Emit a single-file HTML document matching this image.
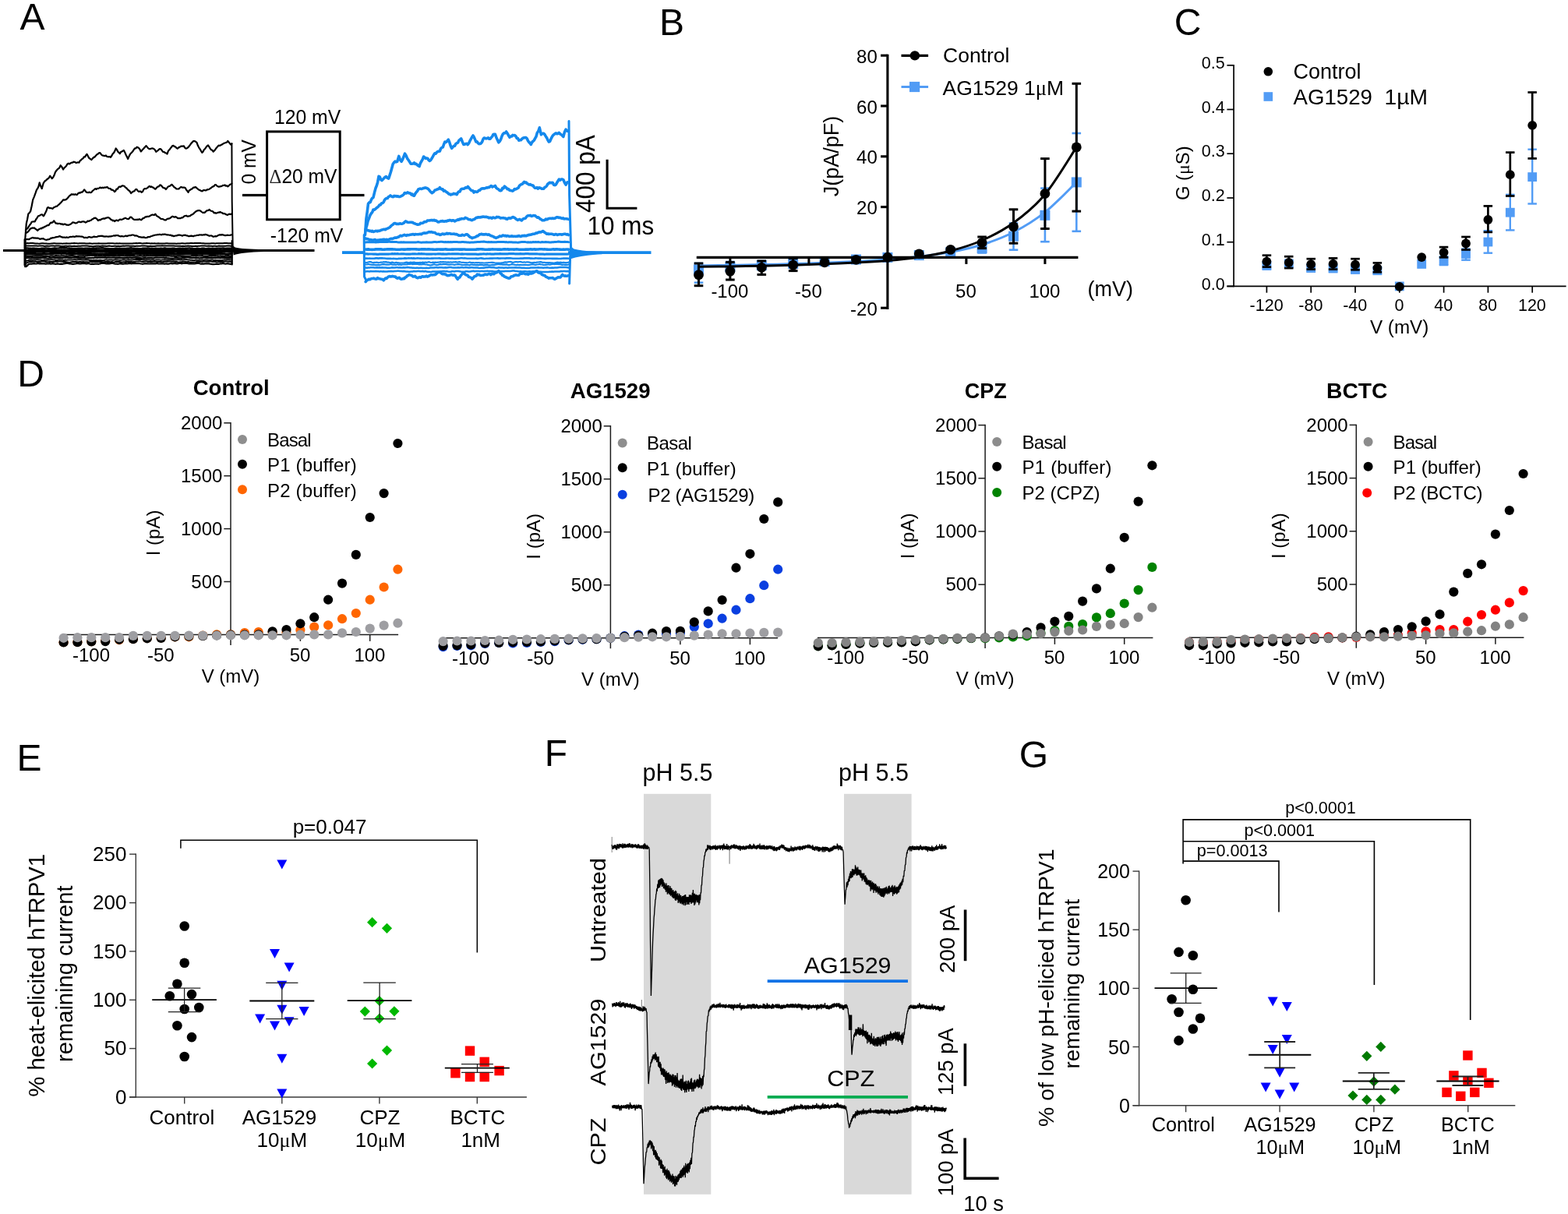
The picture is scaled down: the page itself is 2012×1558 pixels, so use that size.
<!DOCTYPE html>
<html lang="en">
<head>
<meta charset="utf-8">
<title>Figure</title>
<style>
html,body{margin:0;padding:0;background:#fff;}
body{width:2012px;height:1558px;overflow:hidden;}
svg{display:block;font-family:'Liberation Sans', Arial, Helvetica, sans-serif;}
</style>
</head>
<body>
<svg width="2012" height="1558" viewBox="0 0 2012 1558">
<rect x="0" y="0" width="2012" height="1558" fill="#fff" stroke="none"/>
<!-- panelA -->
<text x="25.5" y="37.8" font-size="48">A</text>
<g stroke="#000" fill="none" stroke-linejoin="round" stroke-linecap="round">
<path d="M32.1 309.1 33.8 286.9 35.1 281.2 36.3 274.6 37.8 273 39.2 271.1 40.7 264.3 42.2 256.4 43.9 252.3 45.6 247.7 46.9 243.9 48.2 241.9 49.4 239.5 50.7 234.4 52.2 238.8 53.7 242.1 55.8 234.8 57.5 232.5 59.1 231.4 60.4 230 61.7 229.2 62.9 228.1 64.2 225.7 65.5 227.4 66.7 229.2 68.2 227.6 69.6 224.8 71 220.9 72.7 218.5 74.3 216.9 76 215.7 77.7 212.2 79.4 214.2 81.1 217.5 82.5 215.4 83.8 214.2 85.2 212.7 86.5 210.4 87.9 209.7 89.2 210.5 90.6 209.3 91.9 208.7 93.3 208.7 94.6 207.7 96 208 97.3 208.8 98.7 208.8 100 208.3 101.4 208.7 102.7 206.3 103.9 205.5 105.2 204.1 106.5 203.4 107.7 201.4 109 201.4 110.3 199.3 111.5 197.8 113 200.6 114.5 203.1 116 204 117.4 205.1 118.8 203.4 120.3 201.9 121.7 201.4 123 199.7 124.4 198.2 125.7 197.6 127.1 196.2 128.4 196.1 129.7 197.9 131 199.3 132.2 199.7 133.5 199.9 134.7 200.2 135.9 199.5 137.1 200.9 138.3 201.1 139.5 201.3 140.7 201 141.9 201.9 143.3 200 144.6 197.5 146 196.1 147.3 193.9 148.7 190.5 150 192.1 151.2 194.6 152.5 195.8 153.8 197.2 155 195.1 156.3 194.5 157.6 193.7 158.8 192.8 160.2 195.4 161.5 198.5 162.9 201.3 164.2 203.9 165.8 200.1 167.4 197.3 169 195.7 170.3 194.3 171.7 192.1 173 190.4 174.4 190.3 175.7 188.7 177 189.3 178.3 190.1 179.5 191.8 180.8 194.4 182.2 192.9 183.5 191.4 184.9 189.9 186.2 188.6 187.6 187.1 188.8 188.6 190.1 190.2 191.4 191.1 192.6 191.2 194.3 190.5 196 190.4 197.4 191 198.8 192.3 200.2 194.8 201.5 194 202.8 193 204 191.7 205.3 191 206.6 191.5 207.8 193.1 209.1 194.8 210.4 195 211.8 196 213.2 196.6 214.6 197.5 216 193.5 217.3 192.3 218.7 190.4 220 188.8 221.4 187 222.6 186.9 223.9 188.2 225.2 188.3 226.4 189.9 227.8 190.7 229.1 189.4 230.5 188.9 231.8 187.9 233.2 187.5 234.5 187.6 235.9 187.4 237.2 189.6 238.6 190.6 239.9 190.3 241.3 189.2 242.6 187.7 244 185.9 245.4 183.9 246.7 182.6 248.1 181 249.6 181.1 251.1 181.7 252.6 183.1 253.9 186.8 255.2 189.3 256.6 191.3 258 193.8 259.4 195.8 260.6 194.6 261.9 192 263.2 190.9 264.4 189 265.7 187.4 267 186.5 268.3 188.3 269.7 190.6 271 192.2 272.4 192.8 273.7 194.7 275.1 193.2 276.4 191.7 277.8 189.7 279.1 188.3 280.5 186.7 281.9 186.9 283.3 186.2 284.7 185.5 286 184.7 287.3 183.8 288.5 183.5 289.8 183 291.1 182.6 292.3 181 293.6 182.5 294.9 184.1 296.1 185.6 297.4 184.3" fill="none" stroke-width="2.2" stroke-linejoin="round"/>
<path d="M33 295.4 34.2 293.8 35.5 293 36.8 290.9 38 289 39.3 287.4 40.6 284.9 42 284.5 43.4 284.3 44.8 284.3 46.2 281.5 47.6 279.6 49 277.3 50.7 276.8 52.4 275.5 54.1 275.3 55.8 277.4 57 275.6 58.3 272.9 59.6 270.2 60.8 266.6 62.2 266.1 63.5 267.1 64.9 267 66.2 267.3 67.6 267.9 68.9 266.3 70.3 265.7 71.6 264.9 73 264.8 74.3 263.5 75.7 262.4 77.1 260.9 78.4 259.8 79.8 258.1 81.1 256.3 82.5 256.6 83.8 256.4 85.2 255.7 86.5 254.6 87.9 252.8 89.1 251.4 90.4 250.5 91.7 249.2 92.9 249.6 94.1 249.3 95.4 249.9 96.6 249.2 97.8 249.9 99 249.9 100.2 248.1 101.4 247.4 102.7 247.7 104.1 246.6 105.4 246.7 106.8 245.2 108.1 243.3 109.4 244.9 110.7 246.6 111.9 246.9 113.2 247.2 114.6 246.5 115.9 247.2 117.3 246.9 118.6 245.1 120 244 121.2 243 122.4 242.1 123.6 242.9 124.8 241.9 126 241.9 127.2 241.5 128.4 240.5 129.8 241.4 131.1 240.6 132.5 241.2 133.8 240.5 135.2 240.7 136.4 240.3 137.7 240.1 139 241.5 140.3 241.9 141.6 242 143 243.7 144.3 243.7 145.7 244.4 147 246.2 148.3 245 149.5 242.6 150.8 242.6 152.1 240.4 153.3 239.5 154.6 239.9 155.9 239 157.1 238.3 158.4 238.5 159.7 239 160.9 240.6 162.2 241.2 163.7 243.1 165.2 244.3 166.7 245.6 168.1 248 169.6 246.6 171.1 245.6 172.6 245.1 174 243 175.3 242.9 176.6 244.7 177.8 245.8 179.1 245.6 180.4 245.5 181.6 246.9 183.1 245.9 184.5 242.9 185.9 242 187.1 242.2 188.3 241.7 189.5 240.9 190.7 239.7 191.9 238.8 193.1 240.1 194.3 239.3 195.6 240.5 196.9 240.6 198.1 242 199.4 242.7 200.9 241.1 202.3 239.5 203.8 239.3 205.3 237.4 206.6 237.9 207.8 239.1 209.1 240.7 210.4 241.4 211.6 241.4 212.9 243 214.2 241.4 215.4 239.8 216.7 239.1 218 238.8 219.2 237.6 220.5 236.8 222 238.4 223.5 240.3 224.9 241 226.4 242.5 227.9 242.5 229.4 242.3 230.9 241 232.3 239.9 233.7 240.6 235 240.5 236.3 240.6 237.7 241 239 243.5 240.3 245 241.6 246.8 242.9 244.3 244.2 243.7 245.4 242.7 246.7 242.2 248 240.6 249.2 240.7 250.6 240 251.9 240.8 253.2 242 254.6 243.2 255.9 243.9 257.2 244.4 258.5 245.2 259.7 245.3 260.9 244.1 262.2 244 263.4 244.3 264.6 244.3 265.8 243.2 267 243.3 268.2 243 269.5 242 270.8 241.2 272.1 240 273.3 239.4 274.6 238.9 275.9 237.2 277.1 237.1 278.4 238.6 279.7 239.4 280.9 239.7 282.2 239.4 283.5 239.2 284.7 238.7 286 237.9 287.3 238 288.5 237.4 289.8 238.7 291.1 238.3 292.3 239.4 293.6 238.4 294.9 236.9 296.1 236.5 297.4 235.5" fill="none" stroke-width="2.2" stroke-linejoin="round"/>
<path d="M33.8 298.8 35.1 298 36.3 297.2 37.6 295.3 38.9 293.5 40.1 293.1 41.4 292.4 42.7 292.7 43.9 292.4 45.3 293.6 46.8 294.7 48.2 295.9 49.4 294.6 50.7 294 52 293 53.2 293.5 54.5 292 55.8 292.3 57.1 290.8 58.5 290.7 59.8 289.7 61.2 289 62.5 289.1 63.9 287.1 65.2 285.7 66.6 285.9 67.9 285 69.3 283.3 70.5 285.3 71.8 286.7 73.1 286.5 74.3 287.2 75.7 286.8 77.1 287 78.4 287.7 79.8 287.4 81.1 288.3 82.5 287.6 83.8 287.5 85.2 288.7 86.5 288.7 87.9 288.8 89.2 288.4 90.6 287.6 91.9 286.8 93.3 285.4 94.6 285.5 96 286.1 97.3 286.5 98.7 286 100 285.1 101.4 284.5 102.6 284.9 103.8 285.2 105 284.5 106.2 284.3 107.4 284.4 108.6 284.8 109.8 285.6 111.2 285 112.5 283.6 113.9 283.9 115.2 283.3 116.6 282.8 118.1 281.5 119.6 280.7 121 279.8 122.5 279.6 124.2 280.8 125.9 283 127.4 282.1 128.8 282.4 130.3 281.2 131.8 280.7 133.2 280.4 134.5 280.7 135.9 279.6 137.2 279.6 138.6 279 139.8 279.5 141 280.3 142.2 281.8 143.4 282.1 144.6 283.3 145.8 282.8 147 284 148.2 283.3 149.4 282.5 150.6 282.9 151.8 283.4 153 282 154.3 281.5 155.5 282 156.8 281.6 158.2 281 159.5 280.2 160.9 279.7 162.2 280.4 163.5 281 164.8 281.1 166 280.1 167.3 278.5 168.6 278.9 170 280.3 171.3 281.4 172.7 282 174 281.9 175.3 281.8 176.5 281.7 177.7 281.8 178.9 281.2 180.1 281.9 181.3 282.3 182.5 281.1 183.8 279.9 185 279.9 186.3 278.4 187.6 278.4 188.9 277.9 190.3 277.9 191.6 277.7 193 276.7 194.3 276.1 195.6 275.5 196.9 275.8 198.1 275.8 199.4 274.7 200.9 276.8 202.3 277.8 203.8 278.6 205.3 279.9 206.6 281 207.8 281 209.1 281.2 210.4 281.9 211.6 282.4 212.9 282.4 214.1 281.3 215.3 280.7 216.5 280.7 217.7 280.3 218.9 279.5 220.2 278.4 221.4 277.6 222.7 278.4 224.1 278.7 225.4 278.1 226.8 279 228.1 280.1 229.3 280.1 230.5 280.2 231.7 280.2 232.9 279.4 234.2 279.3 235.4 278.4 236.6 277.3 237.8 277 239 276.7 240.2 277.6 241.4 277.6 242.6 277.3 243.8 277.2 245 276.1 246.2 275.5 247.4 275 248.6 273.9 249.8 272.6 251.1 271.7 252.3 270.7 253.5 270.4 254.8 270.2 256.2 270.2 257.5 270.8 258.9 272 260.2 273 261.4 272.7 262.6 272.9 263.8 271.8 265.1 270.4 266.3 270.2 267.5 269.9 268.7 269 269.9 270.3 271.1 270.7 272.3 271 273.5 271.7 274.7 273.4 275.9 273 277.1 273.7 278.5 273.2 279.8 272.7 281.2 272.6 282.5 272.1 283.9 272.8 285.2 273.3 286.6 274.2 287.9 274 289.3 274.7 290.6 275.5 292 275.9 293.3 275 294.7 274.7 296 275.1 297.4 274.3" fill="none" stroke-width="2.2" stroke-linejoin="round"/>
<path d="M33.8 307 35 307.1 36.2 307 37.4 307.1 38.6 306.3 39.8 305.8 41 305.2 42.2 304.9 43.5 305.6 44.7 305.3 45.9 305.7 47.1 305.6 48.3 305.7 49.5 305.9 50.7 306.6 51.9 306.8 53.1 306.3 54.3 306.3 55.5 306.2 56.7 307 57.9 307.5 59.1 307.8 60.3 307.6 61.6 307.3 62.8 307.1 64 306.7 65.2 305.7 66.4 305.7 67.6 305.1 68.9 305.1 70.1 304.8 71.4 304.4 72.7 304.1 73.9 303.9 75.2 303.6 76.5 303.1 77.7 303.6 79 304.1 80.3 304.6 81.5 304.7 82.8 304.6 84.1 304.9 85.3 304.4 86.6 304.8 87.9 304.8 89.1 304.3 90.4 303.9 91.7 304 92.9 303.7 94.2 303.7 95.5 303.8 96.7 303.6 98 303.1 99.3 303.4 100.5 303.4 101.8 303.4 103.1 303.5 104.3 303.7 105.6 303.6 106.9 304.3 108.1 305.1 109.4 304.8 110.7 304.9 111.9 305.2 113.2 304.4 114.5 304 115.7 304.4 117 304.7 118.3 304.6 119.6 303.9 120.8 303.6 122.1 303.9 123.4 304 124.6 303.9 125.9 303.1 127.2 303.2 128.4 302.7 129.7 303 131 302.6 132.2 303.3 133.5 303.4 134.8 303.7 136 303.3 137.3 303.5 138.6 303.7 139.8 303.6 141.1 303.3 142.4 303.4 143.6 303 144.9 302.7 146.2 302.3 147.4 302.6 148.7 302.1 150 302.1 151.2 302 152.5 302.7 153.8 303.1 155 303.4 156.3 303 157.6 303.3 158.8 303.5 160.2 303 161.5 302.5 162.8 303.2 164.1 302.6 165.4 302.3 166.7 302 168 302.1 169.4 301.5 170.7 301.5 171.9 301.8 173.1 302.6 174.3 302.3 175.5 302.6 176.7 303 177.9 304 179.1 304.1 180.5 304.3 181.8 304.7 183.2 304.6 184.5 304.4 185.9 304.9 187.1 305.2 188.4 305 189.7 304.2 190.9 304.1 192.2 304.1 193.5 303.3 194.7 303 196 302.5 197.3 302.1 198.5 301.8 199.8 301.5 201.1 301.5 202.3 301 203.6 301.1 204.9 300.7 206.2 301.2 207.4 301.3 208.7 300.6 210 301 211.2 300.5 212.5 300.9 213.8 301.3 215.2 301.4 216.5 301.5 217.8 301.8 219.1 301.7 220.4 302.6 221.7 302.4 223 303.2 224.3 302.7 225.5 302.5 226.7 302.4 228 301.9 229.2 301.7 230.4 301.7 231.7 301.8 232.9 302.3 234.1 302.7 235.3 301.9 236.6 301.8 237.8 301.7 239.1 302.4 240.4 302.4 241.6 303.1 242.9 303.2 244.2 302.9 245.4 302.6 246.7 302.9 248 303.3 249.2 302.6 250.5 302.5 251.8 302.2 253 301.8 254.3 302 255.6 301.4 256.8 301.5 258.2 301.4 259.5 301.7 260.9 301.3 262.3 301.4 263.6 300.9 264.9 301.2 266.1 301.6 267.4 302.2 268.7 302.8 269.9 302.5 271.2 302.4 272.5 303 273.7 303.8 275 303.5 276.2 303.1 277.4 303.4 278.7 302.8 279.9 302.1 281.1 301.6 282.3 301.2 283.6 301.6 284.8 301.1 286 301.4 287.3 301.7 288.5 302.1 289.8 302.2 291.1 301.8 292.3 301.7 293.6 302 294.9 302 296.1 301.5 297.4 301.4" fill="none" stroke-width="2.2" stroke-linejoin="round"/>
<path d="M32.1 312.4 33.8 312.3 35.4 312.1 37.1 312.2 38.7 312.1 40.4 312.1 42.1 312.1 43.7 312.2 45.4 312.5 47 312.4 48.7 312.6 50.4 312.7 52 312.5 53.7 312.3 55.3 312.2 57 312.4 58.7 312.4 60.3 312.6 62 312.7 63.6 312.7 65.3 312.6 67 312.4 68.6 312.2 70.3 312.3 71.9 312.4 73.6 312.5 75.3 312.5 76.9 312.5 78.6 312.5 80.3 312.7 81.9 312.4 83.6 312.4 85.2 312.3 86.9 312.5 88.6 312.6 90.2 312.4 91.9 312.2 93.5 312.2 95.2 312.1 96.9 312.3 98.5 312.3 100.2 312.4 101.8 312.3 103.5 312.3 105.2 312.2 106.8 312.3 108.5 312.3 110.1 312.5 111.8 312.6 113.5 312.6 115.1 312.3 116.8 312.5 118.4 312.7 120.1 312.6 121.8 312.5 123.4 312.6 125.1 312.5 126.7 312.3 128.4 312.4 130.1 312.5 131.7 312.5 133.4 312.6 135 312.6 136.7 312.5 138.4 312.3 140 312.2 141.7 312.2 143.3 312.2 145 312.3 146.7 312.4 148.3 312.4 150 312.3 151.6 312.4 153.3 312.3 155 312.5 156.6 312.5 158.3 312.5 159.9 312.4 161.6 312.4 163.3 312.5 164.9 312.6 166.6 312.6 168.2 312.5 169.9 312.5 171.6 312.3 173.2 312.3 174.9 312.1 176.5 312.2 178.2 312.1 179.9 312.1 181.5 312.3 183.2 312.4 184.8 312.2 186.5 312.2 188.2 312 189.8 312.3 191.5 312.3 193.1 312.4 194.8 312.3 196.5 312.5 198.1 312.3 199.8 312.5 201.4 312.4 203.1 312.2 204.8 312.4 206.4 312.5 208.1 312.4 209.7 312.4 211.4 312.4 213.1 312.2 214.7 312.2 216.4 312.4 218 312.4 219.7 312.5 221.4 312.6 223 312.6 224.7 312.6 226.3 312.7 228 312.5 229.7 312.5 231.3 312.4 233 312.3 234.6 312.3 236.3 312.4 238 312.4 239.6 312.3 241.3 312.2 242.9 312.2 244.6 312.1 246.3 312 247.9 312.2 249.6 312.1 251.3 312 252.9 312 254.6 312.1 256.2 311.9 257.9 312.1 259.6 312.2 261.2 312.3 262.9 312.5 264.5 312.5 266.2 312.5 267.9 312.4 269.5 312.4 271.2 312.3 272.8 312.2 274.5 312.3 276.2 312.4 277.8 312.2 279.5 312.2 281.1 312.3 282.8 312.2 284.5 312.3 286.1 312.2 287.8 312.1 289.4 312.1 291.1 312.1 292.8 312.2 294.4 312.2 296.1 312.2 297.7 312.4" fill="none" stroke-width="2" stroke-linejoin="round"/>
<path d="M32.1 315.5 33.8 315.4 35.4 315.5 37.1 315.6 38.7 315.5 40.4 315.4 42.1 315.4 43.7 315.6 45.4 315.5 47 315.6 48.7 315.7 50.4 315.6 52 315.6 53.7 315.6 55.3 315.6 57 315.9 58.7 315.7 60.3 315.5 62 315.7 63.6 315.7 65.3 315.6 67 315.6 68.6 315.5 70.3 315.8 71.9 315.6 73.6 315.6 75.3 315.6 76.9 315.7 78.6 315.9 80.3 316 81.9 315.9 83.6 315.7 85.2 315.8 86.9 316 88.6 315.8 90.2 315.8 91.9 316 93.5 316 95.2 315.8 96.9 315.9 98.5 316 100.2 315.8 101.8 315.8 103.5 315.7 105.2 315.5 106.8 315.5 108.5 315.5 110.1 315.5 111.8 315.6 113.5 315.8 115.1 316 116.8 316.1 118.4 316.2 120.1 316.2 121.8 316 123.4 315.8 125.1 315.8 126.7 315.8 128.4 315.9 130.1 315.7 131.7 315.6 133.4 315.8 135 315.8 136.7 315.9 138.4 315.7 140 315.6 141.7 315.8 143.3 315.9 145 316 146.7 315.8 148.3 315.8 150 315.9 151.6 315.8 153.3 315.9 155 315.9 156.6 315.7 158.3 315.6 159.9 315.8 161.6 315.6 163.3 315.5 164.9 315.5 166.6 315.7 168.2 315.8 169.9 315.8 171.6 315.8 173.2 315.9 174.9 315.8 176.5 315.7 178.2 315.8 179.9 315.8 181.5 315.6 183.2 315.5 184.8 315.4 186.5 315.6 188.2 315.7 189.8 315.9 191.5 316 193.1 315.8 194.8 315.9 196.5 316 198.1 315.9 199.8 315.7 201.4 315.6 203.1 315.6 204.8 315.5 206.4 315.4 208.1 315.3 209.7 315.6 211.4 315.4 213.1 315.5 214.7 315.5 216.4 315.4 218 315.6 219.7 315.6 221.4 315.5 223 315.5 224.7 315.7 226.3 315.7 228 315.8 229.7 315.8 231.3 315.8 233 315.9 234.6 315.8 236.3 315.9 238 315.8 239.6 315.7 241.3 315.5 242.9 315.7 244.6 315.8 246.3 316 247.9 316 249.6 316 251.3 315.8 252.9 315.9 254.6 315.7 256.2 315.7 257.9 315.6 259.6 315.5 261.2 315.5 262.9 315.5 264.5 315.7 266.2 315.7 267.9 315.6 269.5 315.8 271.2 315.8 272.8 315.9 274.5 315.7 276.2 315.8 277.8 315.9 279.5 315.8 281.1 315.6 282.8 315.8 284.5 315.7 286.1 315.7 287.8 315.8 289.4 315.8 291.1 315.6 292.8 315.5 294.4 315.5 296.1 315.7 297.7 315.7" fill="none" stroke-width="2" stroke-linejoin="round"/>
<path d="M32.1 318.6 33.8 318.5 35.4 318.5 37.1 318.7 38.7 318.7 40.4 318.9 42.1 318.6 43.7 318.7 45.4 318.9 47 318.9 48.7 319.1 50.4 319.2 52 319 53.7 318.7 55.3 318.8 57 318.7 58.7 318.4 60.3 318.6 62 318.8 63.6 319 65.3 319.2 67 318.9 68.6 318.7 70.3 318.5 71.9 318.8 73.6 318.6 75.3 318.5 76.9 318.3 78.6 318.2 80.3 318.1 81.9 318.2 83.6 318.2 85.2 318.3 86.9 318.6 88.6 318.5 90.2 318.7 91.9 318.8 93.5 318.9 95.2 318.9 96.9 319 98.5 319 100.2 318.8 101.8 318.7 103.5 318.6 105.2 318.6 106.8 318.9 108.5 318.8 110.1 318.6 111.8 318.6 113.5 318.8 115.1 318.8 116.8 318.9 118.4 318.7 120.1 318.5 121.8 318.6 123.4 318.4 125.1 318.4 126.7 318.5 128.4 318.4 130.1 318.3 131.7 318.2 133.4 318.5 135 318.7 136.7 318.9 138.4 318.9 140 319.1 141.7 319.2 143.3 319.1 145 319.1 146.7 319 148.3 318.8 150 318.7 151.6 318.9 153.3 318.7 155 318.9 156.6 318.9 158.3 318.9 159.9 319 161.6 319 163.3 318.8 164.9 318.7 166.6 318.5 168.2 318.3 169.9 318.6 171.6 318.7 173.2 319 174.9 319 176.5 318.9 178.2 319.1 179.9 319.2 181.5 319.1 183.2 318.8 184.8 318.7 186.5 318.6 188.2 318.6 189.8 318.4 191.5 318.6 193.1 318.9 194.8 318.7 196.5 318.9 198.1 318.9 199.8 318.8 201.4 319 203.1 318.9 204.8 319 206.4 318.7 208.1 319 209.7 318.8 211.4 318.5 213.1 318.8 214.7 318.9 216.4 318.9 218 319 219.7 318.9 221.4 318.7 223 318.6 224.7 318.9 226.3 319.1 228 318.9 229.7 318.8 231.3 318.8 233 319 234.6 318.7 236.3 318.9 238 318.7 239.6 318.8 241.3 318.6 242.9 318.4 244.6 318.7 246.3 318.7 247.9 319 249.6 319.1 251.3 319.1 252.9 318.8 254.6 318.9 256.2 319.1 257.9 319 259.6 318.7 261.2 318.6 262.9 318.9 264.5 319.1 266.2 318.9 267.9 318.8 269.5 318.9 271.2 318.9 272.8 318.7 274.5 318.9 276.2 319 277.8 318.8 279.5 318.6 281.1 318.6 282.8 318.8 284.5 318.6 286.1 318.5 287.8 318.7 289.4 318.9 291.1 318.8 292.8 318.8 294.4 318.8 296.1 318.8 297.7 318.8" fill="none" stroke-width="2.4" stroke-linejoin="round"/>
<path d="M32.1 321.2 33.8 321.2 35.4 321.4 37.1 321.2 38.7 321.3 40.4 321.4 42.1 321.5 43.7 321.3 45.4 321.3 47 321.3 48.7 321.3 50.4 321.5 52 321.4 53.7 321.3 55.3 321.5 57 321.5 58.7 321.3 60.3 321.2 62 321.2 63.6 320.9 65.3 321 67 321.2 68.6 321.1 70.3 321.3 71.9 321.5 73.6 321.4 75.3 321.4 76.9 321.2 78.6 321 80.3 321.2 81.9 321.1 83.6 321 85.2 321.2 86.9 321.3 88.6 321.1 90.2 321 91.9 320.9 93.5 320.9 95.2 320.7 96.9 320.8 98.5 320.8 100.2 320.8 101.8 320.8 103.5 320.7 105.2 320.6 106.8 320.9 108.5 321.1 110.1 321.1 111.8 320.9 113.5 320.8 115.1 320.7 116.8 320.7 118.4 320.6 120.1 320.6 121.8 320.6 123.4 320.6 125.1 320.8 126.7 320.9 128.4 320.9 130.1 320.9 131.7 321 133.4 321.2 135 321.1 136.7 320.9 138.4 320.9 140 320.9 141.7 321.1 143.3 320.9 145 321.2 146.7 320.9 148.3 321 150 321 151.6 321 153.3 321.2 155 321.3 156.6 321.1 158.3 321.1 159.9 321.2 161.6 320.9 163.3 320.8 164.9 320.9 166.6 321.1 168.2 321.1 169.9 321.1 171.6 321.1 173.2 321 174.9 321.2 176.5 321.4 178.2 321.3 179.9 321.1 181.5 321 183.2 321.2 184.8 321.1 186.5 320.9 188.2 320.8 189.8 321 191.5 321.1 193.1 321 194.8 321.1 196.5 321.2 198.1 321.4 199.8 321.5 201.4 321.4 203.1 321.5 204.8 321.6 206.4 321.7 208.1 321.7 209.7 321.6 211.4 321.5 213.1 321.6 214.7 321.5 216.4 321.5 218 321.3 219.7 321.1 221.4 321 223 321.1 224.7 321.1 226.3 321 228 320.9 229.7 321.2 231.3 320.9 233 321.2 234.6 321.3 236.3 321.3 238 321.5 239.6 321.5 241.3 321.2 242.9 321.4 244.6 321.3 246.3 321.4 247.9 321.5 249.6 321.3 251.3 321 252.9 320.8 254.6 321 256.2 321.2 257.9 321.1 259.6 320.9 261.2 320.9 262.9 321.1 264.5 321.2 266.2 321.4 267.9 321.5 269.5 321.6 271.2 321.6 272.8 321.3 274.5 321 276.2 321.2 277.8 321.3 279.5 321.1 281.1 321 282.8 320.9 284.5 320.9 286.1 321 287.8 321 289.4 320.9 291.1 320.7 292.8 320.7 294.4 320.6 296.1 320.6 297.7 321.1" fill="none" stroke-width="3" stroke-linejoin="round"/>
<path d="M32.1 323.5 33.8 323.6 35.4 323.7 37.1 323.9 38.7 323.9 40.4 323.8 42.1 323.9 43.7 323.8 45.4 323.6 47 323.4 48.7 323.4 50.4 323.3 52 323.2 53.7 323.4 55.3 323.5 57 323.6 58.7 323.4 60.3 323.2 62 323.2 63.6 323.3 65.3 323.5 67 323.6 68.6 323.8 70.3 323.8 71.9 323.8 73.6 323.6 75.3 323.5 76.9 323.4 78.6 323.4 80.3 323.5 81.9 323.5 83.6 323.5 85.2 323.4 86.9 323.3 88.6 323.5 90.2 323.6 91.9 323.7 93.5 323.8 95.2 323.6 96.9 323.4 98.5 323.3 100.2 323.6 101.8 323.7 103.5 323.6 105.2 323.7 106.8 323.6 108.5 323.7 110.1 323.5 111.8 323.6 113.5 323.8 115.1 323.7 116.8 323.6 118.4 323.4 120.1 323.3 121.8 323.3 123.4 323.2 125.1 323.1 126.7 323.1 128.4 323 130.1 323.1 131.7 323.2 133.4 323.1 135 323.4 136.7 323.4 138.4 323.4 140 323.6 141.7 323.7 143.3 323.9 145 323.8 146.7 323.9 148.3 323.6 150 323.7 151.6 323.6 153.3 323.5 155 323.6 156.6 323.7 158.3 323.6 159.9 323.5 161.6 323.4 163.3 323.6 164.9 323.7 166.6 323.5 168.2 323.5 169.9 323.3 171.6 323.2 173.2 323.3 174.9 323.6 176.5 323.7 178.2 323.7 179.9 323.8 181.5 323.6 183.2 323.7 184.8 323.9 186.5 323.6 188.2 323.8 189.8 324 191.5 323.8 193.1 323.9 194.8 324 196.5 323.7 198.1 323.6 199.8 323.7 201.4 323.8 203.1 323.6 204.8 323.7 206.4 323.7 208.1 323.9 209.7 323.9 211.4 324 213.1 323.9 214.7 323.8 216.4 323.7 218 323.6 219.7 323.6 221.4 323.6 223 323.5 224.7 323.3 226.3 323.3 228 323.6 229.7 323.5 231.3 323.7 233 323.8 234.6 323.7 236.3 323.5 238 323.7 239.6 323.9 241.3 323.7 242.9 323.7 244.6 323.8 246.3 323.8 247.9 323.5 249.6 323.4 251.3 323.5 252.9 323.6 254.6 323.7 256.2 323.5 257.9 323.7 259.6 323.8 261.2 323.7 262.9 323.8 264.5 323.7 266.2 323.6 267.9 323.6 269.5 323.8 271.2 323.9 272.8 323.8 274.5 323.8 276.2 323.7 277.8 323.8 279.5 323.9 281.1 323.9 282.8 323.6 284.5 323.5 286.1 323.3 287.8 323.4 289.4 323.2 291.1 323.1 292.8 323 294.4 323.3 296.1 323.4 297.7 323.5" fill="none" stroke-width="2.8" stroke-linejoin="round"/>
<path d="M32.1 325.9 33.8 326 35.4 326.1 37.1 326.2 38.7 326 40.4 326.2 42.1 326.2 43.7 326.2 45.4 326.2 47 326.4 48.7 326.1 50.4 326 52 326.1 53.7 326.1 55.3 326.1 57 326 58.7 326.2 60.3 325.9 62 326 63.6 325.9 65.3 325.7 67 325.8 68.6 325.6 70.3 325.5 71.9 325.5 73.6 325.5 75.3 325.4 76.9 325.3 78.6 325.6 80.3 325.5 81.9 325.4 83.6 325.3 85.2 325.7 86.9 325.7 88.6 325.9 90.2 326.1 91.9 326.1 93.5 326 95.2 325.9 96.9 325.8 98.5 325.8 100.2 326.1 101.8 326 103.5 326.1 105.2 326.2 106.8 326.3 108.5 326.3 110.1 326.2 111.8 325.9 113.5 325.9 115.1 326 116.8 326 118.4 326 120.1 325.9 121.8 325.9 123.4 325.8 125.1 325.9 126.7 326.1 128.4 325.8 130.1 325.9 131.7 325.7 133.4 326 135 325.8 136.7 325.6 138.4 325.9 140 325.9 141.7 325.7 143.3 325.7 145 325.9 146.7 325.7 148.3 325.9 150 325.8 151.6 325.8 153.3 325.8 155 325.6 156.6 325.6 158.3 325.7 159.9 325.8 161.6 325.8 163.3 325.7 164.9 325.8 166.6 325.7 168.2 325.9 169.9 325.7 171.6 325.9 173.2 325.7 174.9 325.8 176.5 325.7 178.2 325.7 179.9 325.9 181.5 326 183.2 325.7 184.8 326 186.5 326 188.2 325.8 189.8 325.9 191.5 326 193.1 325.9 194.8 326.1 196.5 325.9 198.1 325.9 199.8 325.7 201.4 325.9 203.1 325.8 204.8 325.7 206.4 326 208.1 325.9 209.7 325.9 211.4 326 213.1 325.8 214.7 326 216.4 326 218 326 219.7 326.1 221.4 326.2 223 325.9 224.7 326.1 226.3 326.1 228 326.2 229.7 326.2 231.3 326.3 233 326.3 234.6 326.1 236.3 325.9 238 325.8 239.6 325.7 241.3 325.6 242.9 325.7 244.6 325.8 246.3 325.7 247.9 325.9 249.6 325.7 251.3 325.7 252.9 325.7 254.6 325.8 256.2 326 257.9 326 259.6 325.7 261.2 325.8 262.9 325.8 264.5 325.8 266.2 325.8 267.9 325.7 269.5 325.9 271.2 325.8 272.8 325.8 274.5 325.8 276.2 325.6 277.8 325.6 279.5 325.9 281.1 325.7 282.8 325.7 284.5 325.9 286.1 325.9 287.8 325.9 289.4 326.1 291.1 326.2 292.8 326.1 294.4 326 296.1 325.7 297.7 325.9" fill="none" stroke-width="2.6" stroke-linejoin="round"/>
<path d="M32.1 328.3 33.8 328.6 35.4 328.8 37.1 328.9 38.7 329 40.4 329 42.1 328.6 43.7 328.6 45.4 328.4 47 328.6 48.7 328.5 50.4 328.5 52 328.5 53.7 328.5 55.3 328.7 57 328.9 58.7 328.7 60.3 328.8 62 328.9 63.6 328.7 65.3 328.4 67 328.4 68.6 328.6 70.3 328.5 71.9 328.3 73.6 328.5 75.3 328.4 76.9 328.6 78.6 328.4 80.3 328.4 81.9 328.4 83.6 328.6 85.2 328.4 86.9 328.6 88.6 328.5 90.2 328.4 91.9 328.2 93.5 328.3 95.2 328.6 96.9 328.8 98.5 328.9 100.2 328.9 101.8 328.6 103.5 328.6 105.2 328.6 106.8 328.4 108.5 328.7 110.1 328.4 111.8 328.3 113.5 328.1 115.1 328 116.8 327.9 118.4 327.9 120.1 327.9 121.8 328.3 123.4 328.3 125.1 328.4 126.7 328.3 128.4 328.2 130.1 328.3 131.7 328.4 133.4 328.2 135 328.3 136.7 328.2 138.4 328.3 140 328.3 141.7 328.1 143.3 328 145 328.3 146.7 328.3 148.3 328.1 150 328.4 151.6 328.3 153.3 328.2 155 328 156.6 328 158.3 328.1 159.9 328.4 161.6 328.3 163.3 328.3 164.9 328.1 166.6 328.3 168.2 328.2 169.9 328.2 171.6 328.1 173.2 328.4 174.9 328.6 176.5 328.4 178.2 328.4 179.9 328.2 181.5 328.4 183.2 328.6 184.8 328.3 186.5 328.5 188.2 328.3 189.8 328.3 191.5 328.4 193.1 328.3 194.8 328.4 196.5 328.3 198.1 328.3 199.8 328.3 201.4 328.3 203.1 328.1 204.8 328.1 206.4 328 208.1 328.1 209.7 328.2 211.4 328.2 213.1 328.5 214.7 328.3 216.4 328.3 218 328.4 219.7 328.5 221.4 328.6 223 328.5 224.7 328.7 226.3 328.7 228 328.4 229.7 328.5 231.3 328.5 233 328.7 234.6 328.7 236.3 328.8 238 328.8 239.6 328.8 241.3 328.7 242.9 328.6 244.6 328.6 246.3 328.3 247.9 328.3 249.6 328.3 251.3 328.3 252.9 328.3 254.6 328.4 256.2 328.4 257.9 328.4 259.6 328.3 261.2 328.6 262.9 328.6 264.5 328.7 266.2 328.7 267.9 328.4 269.5 328.2 271.2 328.2 272.8 328.2 274.5 328.2 276.2 328.3 277.8 328.4 279.5 328.5 281.1 328.6 282.8 328.5 284.5 328.7 286.1 328.8 287.8 328.9 289.4 328.5 291.1 328.5 292.8 328.3 294.4 328.6 296.1 328.8 297.7 328.4" fill="none" stroke-width="2.4" stroke-linejoin="round"/>
<path d="M32.1 331.1 33.8 330.8 35.4 330.9 37.1 331.1 38.7 331.3 40.4 331.2 42.1 331.2 43.7 331.1 45.4 331.1 47 330.8 48.7 330.9 50.4 331 52 330.8 53.7 330.8 55.3 331 57 330.9 58.7 331.2 60.3 331.5 62 331.5 63.6 331.1 65.3 330.8 67 330.7 68.6 330.7 70.3 330.9 71.9 331.1 73.6 331.1 75.3 331.2 76.9 331.1 78.6 330.8 80.3 330.9 81.9 330.7 83.6 330.7 85.2 330.4 86.9 330.7 88.6 331 90.2 330.7 91.9 330.8 93.5 330.5 95.2 330.6 96.9 330.4 98.5 330.8 100.2 331 101.8 331.2 103.5 331 105.2 331.1 106.8 331.2 108.5 331.1 110.1 331.4 111.8 331.3 113.5 331.1 115.1 331.2 116.8 331.1 118.4 330.9 120.1 331 121.8 330.7 123.4 330.7 125.1 330.8 126.7 330.5 128.4 330.7 130.1 330.5 131.7 330.7 133.4 330.7 135 330.4 136.7 330.9 138.4 330.6 140 330.5 141.7 330.6 143.3 330.5 145 330.6 146.7 330.7 148.3 330.8 150 330.9 151.6 330.8 153.3 330.6 155 330.8 156.6 330.8 158.3 330.9 159.9 331.1 161.6 330.8 163.3 330.7 164.9 330.8 166.6 330.5 168.2 330.8 169.9 330.8 171.6 330.7 173.2 330.6 174.9 331 176.5 330.7 178.2 330.9 179.9 331.1 181.5 331.3 183.2 331.3 184.8 331.1 186.5 331.1 188.2 331.3 189.8 331 191.5 331.2 193.1 331.2 194.8 331 196.5 331.3 198.1 331 199.8 330.7 201.4 330.6 203.1 330.7 204.8 330.5 206.4 330.6 208.1 330.7 209.7 330.6 211.4 330.9 213.1 331 214.7 331.3 216.4 331.4 218 331.5 219.7 331.7 221.4 331.7 223 331.5 224.7 331.1 226.3 331 228 331.1 229.7 331.3 231.3 331.3 233 331.3 234.6 330.9 236.3 331 238 330.7 239.6 330.5 241.3 330.4 242.9 330.6 244.6 331 246.3 331 247.9 330.8 249.6 331 251.3 330.7 252.9 330.9 254.6 331 256.2 331.3 257.9 331 259.6 330.8 261.2 330.7 262.9 330.5 264.5 330.9 266.2 331 267.9 330.7 269.5 330.8 271.2 330.6 272.8 330.9 274.5 330.9 276.2 330.6 277.8 330.8 279.5 330.7 281.1 330.9 282.8 331.1 284.5 330.8 286.1 330.8 287.8 331.2 289.4 330.9 291.1 330.8 292.8 330.9 294.4 330.6 296.1 330.9 297.7 330.9" fill="none" stroke-width="2.2" stroke-linejoin="round"/>
<path d="M32.1 335.1 33.8 334.7 35.4 334.5 37.1 333.8 38.7 333.7 40.4 333.6 42.1 333.7 43.7 333.4 45.4 333.4 47 333.3 48.7 333.3 50.4 333.5 52 333.5 53.7 333.9 55.3 333.9 57 333.6 58.7 333.7 60.3 333.7 62 333.5 63.6 333.5 65.3 333.2 67 333.3 68.6 333.4 70.3 333.6 71.9 333.9 73.6 333.9 75.3 333.5 76.9 333.5 78.6 333.4 80.3 333.6 81.9 333.9 83.6 333.6 85.2 333.8 86.9 333.6 88.6 333.4 90.2 333.4 91.9 333.4 93.5 333.4 95.2 333.3 96.9 333.3 98.5 333.5 100.2 333.3 101.8 333.3 103.5 333.2 105.2 333.5 106.8 333.4 108.5 333.6 110.1 333.3 111.8 333.6 113.5 333.6 115.1 333.9 116.8 334 118.4 334.1 120.1 333.7 121.8 333.9 123.4 333.8 125.1 334 126.7 334 128.4 333.8 130.1 334 131.7 334.2 133.4 333.9 135 333.6 136.7 333.6 138.4 333.7 140 333.5 141.7 333.6 143.3 333.6 145 333.8 146.7 333.5 148.3 333.3 150 333.4 151.6 333.6 153.3 333.7 155 333.8 156.6 333.6 158.3 333.3 159.9 333.5 161.6 333.7 163.3 333.4 164.9 333.2 166.6 333.4 168.2 333.6 169.9 333.4 171.6 333.3 173.2 333.3 174.9 333.1 176.5 333.1 178.2 333.1 179.9 332.9 181.5 333.1 183.2 333.5 184.8 333.3 186.5 333.5 188.2 333.6 189.8 333.5 191.5 333.6 193.1 333.8 194.8 333.6 196.5 333.6 198.1 333.7 199.8 333.6 201.4 333.4 203.1 333.4 204.8 333.6 206.4 333.7 208.1 333.6 209.7 333.4 211.4 333.3 213.1 333.5 214.7 333.7 216.4 333.5 218 333.6 219.7 333.4 221.4 333.2 223 333.4 224.7 333.4 226.3 333.4 228 333.2 229.7 333.3 231.3 333.4 233 333.3 234.6 333.4 236.3 333.3 238 333.3 239.6 333.1 241.3 333.5 242.9 333.6 244.6 333.8 246.3 333.7 247.9 333.9 249.6 333.9 251.3 333.6 252.9 333.8 254.6 333.8 256.2 333.7 257.9 333.6 259.6 333.4 261.2 333.7 262.9 333.6 264.5 333.6 266.2 333.6 267.9 333.7 269.5 333.7 271.2 333.5 272.8 333.6 274.5 333.9 276.2 333.8 277.8 334 279.5 334.1 281.1 334 282.8 334.2 284.5 333.9 286.1 333.7 287.8 333.6 289.4 333.4 291.1 333.2 292.8 333.2 294.4 333.3 296.1 333.4 297.7 333.6" fill="none" stroke-width="2" stroke-linejoin="round"/>
<path d="M32.1 338.4 33.8 337.7 35.4 336.9 37.1 336.3 38.7 335.8 40.4 335.9 42.1 335.8 43.7 335.7 45.4 335.6 47 335.9 48.7 335.8 50.4 336.1 52 335.8 53.7 335.5 55.3 335.6 57 335.6 58.7 335.9 60.3 336.2 62 336.2 63.6 336 65.3 336.1 67 336.1 68.6 335.9 70.3 335.8 71.9 335.5 73.6 335.8 75.3 335.5 76.9 335.4 78.6 335.6 80.3 335.8 81.9 336 83.6 336.1 85.2 336.3 86.9 336.5 88.6 336.7 90.2 336.5 91.9 336.2 93.5 335.9 95.2 335.9 96.9 335.7 98.5 336.1 100.2 336.2 101.8 336 103.5 336.1 105.2 336.3 106.8 335.9 108.5 336.2 110.1 336.3 111.8 336.2 113.5 336.5 115.1 336.1 116.8 335.7 118.4 335.9 120.1 336.1 121.8 335.7 123.4 335.9 125.1 336 126.7 335.9 128.4 335.7 130.1 336 131.7 336.3 133.4 336.2 135 336 136.7 336 138.4 336.1 140 336.1 141.7 336.3 143.3 336 145 336.3 146.7 336.4 148.3 336 150 335.7 151.6 336 153.3 335.9 155 336.2 156.6 336.5 158.3 336.2 159.9 336.3 161.6 336 163.3 336 164.9 335.8 166.6 336.1 168.2 335.8 169.9 336.2 171.6 336 173.2 335.9 174.9 335.6 176.5 335.5 178.2 335.3 179.9 335.3 181.5 335.8 183.2 336 184.8 335.7 186.5 335.5 188.2 335.6 189.8 336 191.5 335.9 193.1 335.9 194.8 336 196.5 335.7 198.1 335.6 199.8 335.7 201.4 336 203.1 336 204.8 335.9 206.4 335.9 208.1 336.2 209.7 335.9 211.4 335.7 213.1 335.8 214.7 335.7 216.4 335.5 218 335.4 219.7 335.8 221.4 335.7 223 335.6 224.7 336.1 226.3 336 228 336.3 229.7 336.5 231.3 336.3 233 336.2 234.6 335.8 236.3 335.8 238 335.9 239.6 336.3 241.3 335.9 242.9 336.2 244.6 336.4 246.3 336.6 247.9 336.5 249.6 336.5 251.3 336.3 252.9 335.9 254.6 335.8 256.2 336.1 257.9 335.8 259.6 335.8 261.2 335.5 262.9 335.4 264.5 335.8 266.2 335.5 267.9 335.7 269.5 335.6 271.2 335.6 272.8 336 274.5 336 276.2 336 277.8 336.3 279.5 336.3 281.1 336 282.8 335.9 284.5 336.1 286.1 336 287.8 335.7 289.4 335.6 291.1 335.6 292.8 335.7 294.4 335.5 296.1 335.9 297.7 336" fill="none" stroke-width="2" stroke-linejoin="round"/>
<path d="M32.1 342.2 33.8 341.5 35.4 340.1 37.1 339 38.7 338.5 40.4 338.6 42.1 338.3 43.7 338.2 45.4 338.5 47 338.4 48.7 338 50.4 338.4 52 338.1 53.7 338.3 55.3 338.4 57 338.4 58.7 338.7 60.3 338.4 62 338.5 63.6 338.1 65.3 338.6 67 338.2 68.6 338.3 70.3 338.6 71.9 338.8 73.6 338.4 75.3 338.7 76.9 338.9 78.6 338.6 80.3 338.8 81.9 338.4 83.6 338.2 85.2 337.9 86.9 337.9 88.6 338.3 90.2 338.3 91.9 338.7 93.5 338.9 95.2 338.6 96.9 338.5 98.5 338.1 100.2 338.2 101.8 338.4 103.5 338.4 105.2 338.1 106.8 338.2 108.5 338 110.1 338.3 111.8 338.3 113.5 338 115.1 338.5 116.8 338.8 118.4 338.6 120.1 338.9 121.8 338.6 123.4 338.6 125.1 338.6 126.7 338.8 128.4 338.3 130.1 338 131.7 337.8 133.4 337.8 135 338.2 136.7 338.4 138.4 338.1 140 338.4 141.7 338.1 143.3 337.8 145 337.9 146.7 338.4 148.3 338.7 150 338.6 151.6 338.8 153.3 338.4 155 338.1 156.6 338.6 158.3 338.7 159.9 338.3 161.6 338.2 163.3 338.5 164.9 338.1 166.6 337.9 168.2 338.3 169.9 338.1 171.6 338.1 173.2 338.1 174.9 338.2 176.5 338.1 178.2 337.9 179.9 338.3 181.5 338.5 183.2 338.8 184.8 338.4 186.5 338.1 188.2 338.4 189.8 338.3 191.5 338.5 193.1 338.3 194.8 338.3 196.5 338.4 198.1 338.4 199.8 338.4 201.4 338 203.1 338.4 204.8 338.5 206.4 338.3 208.1 338.3 209.7 338.4 211.4 338.7 213.1 338.3 214.7 338.6 216.4 338.6 218 338.2 219.7 338.1 221.4 338.4 223 338.1 224.7 338.2 226.3 338.3 228 338.4 229.7 338 231.3 337.7 233 338.3 234.6 338 236.3 337.9 238 338 239.6 337.7 241.3 338.1 242.9 338.4 244.6 338.2 246.3 338.4 247.9 338.3 249.6 338.5 251.3 338.2 252.9 337.9 254.6 337.7 256.2 338.2 257.9 338.6 259.6 338.4 261.2 338.6 262.9 338.3 264.5 338.4 266.2 338.3 267.9 338.4 269.5 338.7 271.2 338.9 272.8 339.1 274.5 339.2 276.2 339 277.8 338.6 279.5 338.8 281.1 338.8 282.8 338.4 284.5 338.3 286.1 338 287.8 338.3 289.4 338.7 291.1 338.2 292.8 338.4 294.4 338.7 296.1 338.9 297.7 338.4" fill="none" stroke-width="2.2" stroke-linejoin="round"/>
<path d="M31.5 307.3 31.5 340.2 33.5 342.1 35.5 340.7" fill="none" stroke-width="2" stroke-linejoin="round" stroke="#000"/>
<line x1="32.6" y1="309" x2="32.6" y2="339.4" stroke-width="2.4" stroke="#000"/>
<path d="M297.4 184.3 297.7 258.3 298.7 315.7" fill="none" stroke-width="2" stroke-linejoin="round" stroke="#000"/>
<line x1="297.7" y1="309" x2="297.7" y2="339.4" stroke-width="2.2" stroke="#000"/>
<line x1="4" y1="321.6" x2="403.5" y2="321.6" stroke-width="3" stroke="#000" stroke-linecap="butt"/>
</g>
<path d="M297.7 314.6 L301.7 317.6 Q310.7 320 338.7 320.1 L338.7 323.1 Q310.7 323.8 299.7 327.6Z" fill="#000" stroke="none"/>
<rect x="342.6" y="168.9" width="93.6" height="112.9" fill="none" stroke="#000" stroke-width="3"/>
<line x1="311" y1="250.5" x2="342" y2="250.5" stroke-width="3.2" stroke="#000"/>
<line x1="437" y1="250.5" x2="467.5" y2="250.5" stroke-width="3.2" stroke="#000"/>
<text font-size="26" transform="translate(352 159.1) scale(0.951 1)">120 mV</text>
<text font-size="26" transform="translate(346.8 310.7) scale(0.951 1)">-120 mV</text>
<text font-size="26" transform="translate(345.6 234.6) scale(0.945 1)"><tspan font-family='&quot;Liberation Serif&quot;, &quot;Times New Roman&quot;, serif' fill="#222">Δ</tspan>20 mV</text>
<text font-size="26" transform="translate(327.5 236.4) rotate(-90) scale(0.945 1)">0 mV</text>
<g stroke="#1488ec" fill="none" stroke-linejoin="round" stroke-linecap="round">
<path d="M468.5 301.5 469.9 281.1 471.2 272 472.5 261.4 473.8 259.9 475.1 259.7 476.4 256.3 477.7 254.3 479 253.4 480.5 247.1 482 241.5 483.4 238 484.7 233.4 486 226.3 487.4 227.1 488.7 230.6 490 231.6 491.3 230.2 492.7 228.8 494.1 227.3 495.4 226.6 497.1 228.4 498.7 229.1 500.1 224.9 501.5 220.5 502.8 215.7 504.2 210.5 505.6 208.5 506.9 207.2 508.3 207.9 509.7 207.4 511.8 200.4 513.5 205.1 515.1 207.3 516.6 204.7 518 201.1 519.5 197.1 521.1 199.7 522.8 203.7 524.2 205.5 525.7 207.9 527.2 210.2 528.6 210.2 530.1 210 531.5 208.9 532.8 210.5 534.1 210.4 535.5 211.7 536.8 212.7 538.1 213.5 539.5 209.3 540.8 207 542.2 204.6 543.6 201 544.8 201.9 546.1 203.3 547.4 203 548.7 203.2 549.9 205.3 551.2 206.5 552.6 205.5 553.9 203.5 555.3 201.1 556.7 198.5 557.9 196.7 559.2 197.1 560.5 195.4 561.8 194.4 563 194.4 564.3 194 565.6 190.8 566.9 189.4 568.3 188.8 569.6 185 570.9 182.1 572.3 182.4 573.8 180.9 575.3 179.2 576.7 182.5 578.2 187.2 579.6 190.4 580.9 188.8 582.3 187.4 583.6 187.2 584.9 184.5 586.2 183.7 587.6 183.1 588.9 180.3 590.3 179 591.7 177.8 593.3 182 594.9 185.4 596.3 185.3 597.6 184.5 598.9 184.4 600.2 185.6 601.5 183.9 602.9 180.9 604.2 178.6 605.6 176 607 173.9 608.2 175.9 609.5 178.9 610.8 182 612.1 181.7 613.3 183.6 614.6 184.6 615.9 184.5 617.2 184 618.6 182.2 619.9 178.6 621.2 177 622.5 177.3 623.8 177.9 625.1 177.5 626.4 176.8 627.7 178.2 629 178.3 630.3 176.5 631.6 175.1 632.8 172.8 634.1 172.3 635.4 172.4 636.9 176.4 638.3 179.4 639.8 182.8 641.1 181.5 642.5 179.1 643.9 175.1 645.2 172.3 646.7 170.7 648.2 170.8 649.6 169 651.1 171.2 652.5 173.8 654 176.2 655.3 175 656.6 175 657.9 173.4 659.2 173.7 660.5 173.6 661.9 174.9 663.2 177.4 664.5 177.5 665.8 180.2 667.1 179.8 668.4 179.7 669.7 178.3 671 177.2 672.4 176.7 673.7 176.6 674.9 176.6 676.2 177.8 677.5 180.7 678.8 182.5 680 183.5 681.3 185.4 682.6 182.8 683.9 181.3 685.3 180.2 686.6 177.7 687.9 175.4 689.3 170.5 690.8 168.3 692.3 163.8 694.4 172.8 696.1 171.2 697.7 171.4 699 172.6 700.3 175 701.7 177.1 703 179.9 704.3 182 705.6 181.4 706.9 178.6 708.2 175.9 709.5 173.8 710.8 172.6 712.1 171.6 713.5 170.9 714.8 171.8 716.1 171.3 717.4 170.3 718.8 172 720.1 172.7 721.5 174 722.9 175.4 724.5 169.3 726.1 166.1 727.8 168.2 729.4 168.1" fill="none" stroke-width="3.6" stroke-linejoin="round"/>
<path d="M469.2 294.3 470.7 289.5 472.1 283.7 473.6 279.8 474.9 276.3 476.3 274 477.7 272.3 479 269 480.4 269.1 481.7 268.3 483 267 484.3 266.1 485.6 265 486.9 263.1 488.2 263 489.5 260.9 490.9 260.6 492.2 259.5 493.4 256.7 494.7 255.3 495.9 254.5 497.2 254.5 498.4 252.6 499.7 252.1 500.9 250.9 502.1 251.7 503.3 252.5 504.6 252.6 505.8 251.3 507 251.9 508.2 251.5 509.4 252.2 510.6 251.7 511.8 252.5 513.1 252.5 514.3 251.9 515.6 251.3 516.8 250.6 518.1 249.5 519.3 247.5 520.6 248 521.8 247.9 523 246.9 524.2 247.5 525.4 248 526.7 248 527.9 249.9 529.1 249.2 530.3 250.9 531.5 251.2 532.8 248.6 534.1 246.8 535.5 245.3 536.8 242.9 538.1 242.4 539.4 242.1 540.6 242.5 541.9 242.1 543.2 241.5 544.5 241.4 545.7 240.9 547 241.3 548.2 241.7 549.4 242.4 550.7 243.9 551.9 245.5 553.1 246.6 554.3 247.7 555.6 246.8 556.8 245.8 558.1 244 559.3 243.8 560.6 243.3 561.8 242.6 563.1 242.5 564.3 240.6 565.6 242.1 566.8 243 568.1 242.9 569.3 245.1 570.6 244.6 571.8 245.6 573.1 246.7 574.4 247.4 575.7 248.9 577 249 578.3 250 579.6 249.4 580.9 249.2 582.3 248.3 583.6 248.9 584.9 248.8 586.2 249.6 587.5 247.1 588.8 245.9 590.1 245.9 591.4 243.1 592.8 242.4 594 242.3 595.3 242.2 596.6 241.4 597.9 240.6 599.1 241 600.4 239.5 601.7 241.1 603 242.5 604.2 244 605.5 244.8 606.8 244.7 608.1 247 609.3 245.8 610.6 246 611.8 246.4 613.1 245.8 614.3 244.4 615.6 244.3 616.8 242.9 618.1 242 619.3 241.9 620.6 241.9 621.8 241.9 623.1 241.4 624.3 240.7 625.6 240.9 626.8 240.2 628 240.4 629.2 239.1 630.5 238.5 631.7 240 632.9 239.2 634.2 239.3 635.4 238.4 636.8 241.1 638.1 242.2 639.5 242.8 640.9 244.3 642.2 244.8 643.5 244.1 644.8 241.4 646.1 241.7 647.4 239.2 648.7 240.2 650 241.3 651.2 242.8 652.5 242.5 653.8 244.3 655.1 244.4 656.4 244.7 657.6 245.2 658.9 244.5 660.2 242.6 661.5 242.9 662.7 242.3 664 241.7 665.2 241 666.4 238.4 667.6 237.5 668.9 236.6 670.1 236.3 671.3 234.8 672.6 233.5 673.8 234.5 675.1 234 676.4 235.6 677.7 236.2 678.9 237 680.2 236.6 681.5 237.4 682.7 237.9 684 238 685.2 240 686.5 241.3 687.7 241.3 689 240.7 690.2 242.1 691.5 240.9 692.7 241.1 694 241.4 695.2 242.2 696.5 242.3 697.7 242.1 699 240.4 700.3 239.9 701.5 238.6 702.8 236.2 704.1 235.2 705.4 234.3 706.7 234.7 708 234.4 709.3 234.6 710.6 237.3 711.9 237.6 713.3 236.9 714.7 234.3 716 232.2 717.4 230.1 718.8 231.2 720.1 230 721.5 230 722.9 230.8 724.5 234.5 726.1 237.1 727.8 234.1 729.4 233.7" fill="none" stroke-width="3.6" stroke-linejoin="round"/>
<path d="M469.2 295.7 470.4 294.9 471.7 295.6 472.9 295.7 474.1 296.6 475.4 296.3 476.6 297.1 477.8 296.4 479 297.5 480.3 297.1 481.5 296.5 482.8 296.4 484 296.9 485.3 296.2 486.5 296.4 487.8 296 489.1 295.3 490.4 294.9 491.7 294.6 493 294.3 494.3 294.7 495.6 293.7 496.8 293.4 498 292.9 499.2 292.2 500.4 291.5 501.6 290.1 502.9 289 504.1 288.3 505.3 286.9 506.6 286.5 507.9 287 509.2 287.5 510.5 287.4 511.8 287.4 513.1 286.8 514.3 287.1 515.6 287.3 516.8 286.9 518.1 286.2 519.3 284.9 520.6 283.9 521.9 284.8 523.2 285.3 524.5 285.5 525.8 285.3 527.2 285.2 528.4 285.4 529.6 285.6 530.9 286.5 532.1 286.8 533.4 287.4 534.6 287.8 535.9 288.3 537.1 288.1 538.4 287.8 539.6 286.3 540.9 286.5 542.1 286.2 543.4 285.7 544.6 284.6 545.9 284.7 547.1 284.4 548.4 283.1 549.6 283 550.9 283 552.1 282.7 553.4 282.6 554.6 282.6 555.8 282.9 557 282.4 558.3 283.2 559.5 283 560.7 283.9 561.9 285 563.1 284.9 564.3 284.5 565.6 283.8 566.8 284 568.1 283.5 569.3 284.1 570.6 284.1 571.8 283.8 573.1 283.9 574.4 283.1 575.7 283.1 577 282.5 578.3 282.8 579.6 283.4 580.9 282.7 582.3 283.1 583.6 283.9 584.9 283.2 586.2 282.6 587.4 281.9 588.6 282.3 589.8 281.1 591.1 281.4 592.3 280.5 593.5 280.7 594.7 280.8 595.9 280.6 597.1 279.3 598.4 280 599.6 280.2 600.9 281.5 602.1 281.7 603.4 281.8 604.6 282.5 605.9 282.6 607.2 281.7 608.5 281.5 609.8 280.5 611.1 279.3 612.4 279.4 613.7 278.7 614.9 279 616.2 278.9 617.4 278.6 618.7 278.4 619.9 278.1 621.2 278.2 622.4 278.5 623.7 278.2 624.9 278.7 626.2 278.9 627.4 279.8 628.7 279.2 629.9 279.5 631.2 280.1 632.4 279 633.7 279.3 634.9 279.8 636.2 279.5 637.4 278.4 638.7 278.8 639.9 278.6 641.1 279.1 642.3 279.9 643.5 279.8 644.7 279.7 646 279.6 647.2 280 648.4 280 649.6 281 650.9 281.3 652.1 280 653.4 279.9 654.6 280.1 655.9 280 657.1 278.9 658.4 278.6 659.6 279.3 660.8 279.7 662 280.9 663.2 281.7 664.4 282.4 665.6 281.7 666.9 281.4 668.1 282.2 669.3 282.9 670.5 281.7 671.8 280.6 673 280.5 674.3 280.1 675.5 278.2 676.8 277 678 276.8 679.3 276.8 680.5 276.4 681.8 277.5 683 277.2 684.3 276.6 685.5 276.8 686.8 276.9 688 278 689.3 279.1 690.5 278.9 691.8 279.6 693 281 694.3 281.4 695.5 282.6 696.8 282.8 698 282.7 699.3 282.3 700.5 281.1 701.8 281.8 703 281 704.3 280.5 705.5 280.3 706.7 280.2 707.9 280.4 709.1 280.1 710.4 280.4 711.6 280.2 712.8 279.8 714 278.9 715.2 278.8 716.4 279 717.6 279.5 718.9 279.2 720.1 280 721.3 280.4 722.5 279.8 723.7 280.9 724.9 280.8 726.1 280.8 727.8 280.9 729.4 281.4" fill="none" stroke-width="3.6" stroke-linejoin="round"/>
<path d="M469.2 306 470.4 306.8 471.6 306.6 472.8 307 474 307.7 475.2 307.6 476.4 307.9 477.6 308.1 478.8 308.6 480 307.8 481.2 307.5 482.4 308.5 483.7 308.7 484.9 308.1 486.1 308.4 487.3 307.8 488.5 307.7 489.7 307.8 490.9 307.5 492.2 307.2 493.4 307.4 494.6 307.7 495.8 307.4 497 307.6 498.2 308.2 499.5 307.1 500.7 306.8 501.9 306.2 503.1 306.7 504.3 306.2 505.5 305.7 506.7 305 508 305.1 509.2 305 510.4 304.2 511.6 304.1 512.8 303 514 302.3 515.2 303 516.5 302.4 517.7 301.8 518.9 301.3 520.1 301.9 521.3 302.4 522.5 301.6 523.7 301.7 525 301.6 526.3 301.3 527.6 301 528.9 300.9 530.2 300.5 531.5 301.3 532.8 300.6 534.1 300.7 535.5 300.8 536.8 300.8 538.1 300.5 539.4 300.3 540.6 300.7 541.9 299.8 543.2 299.2 544.5 298.9 545.7 299.3 547 299 548.3 298.7 549.6 298 550.8 297.6 552.1 298 553.4 297.6 554.6 298.1 555.8 298.2 557 298.5 558.3 298.6 559.5 299.9 560.7 300.3 561.9 300.5 563.1 300.4 564.3 301.4 565.6 301.2 566.9 300.4 568.3 300 569.6 300.8 570.9 300.3 572.2 300.1 573.5 299.4 574.8 300.1 576.1 299.6 577.4 299.7 578.8 300.2 580.1 300.3 581.4 300.2 582.7 300.1 584 300.7 585.3 300.5 586.6 301 587.9 301.8 589.3 302.3 590.6 302.3 591.8 302.1 593.1 301.3 594.3 301.7 595.6 302.1 596.8 301.5 598.1 300.7 599.3 300.8 600.6 301.7 601.9 303.2 603.2 304.3 604.6 304.8 605.9 305.6 607.1 305 608.3 304.8 609.5 304.4 610.7 303.9 611.9 302.9 613.2 302.9 614.4 301.6 615.6 300.9 616.8 300.8 618.1 300.3 619.4 300.9 620.7 300.9 622.1 300.9 623.4 300.6 624.7 300.9 626 301.4 627.3 300.9 628.6 301.8 629.9 302.6 631.2 302.9 632.6 303.4 633.9 304.3 635.2 304.8 636.5 305.4 637.7 304.8 638.9 304.4 640.1 303.8 641.3 302.9 642.6 303.2 643.8 303.1 645 302 646.2 302.3 647.4 302.7 648.6 302.4 649.9 303.1 651.1 302.6 652.3 302.9 653.5 303.5 654.7 303.3 655.9 303.1 657.1 302.9 658.4 303.4 659.6 303.2 660.8 303.3 662 303.5 663.2 303.1 664.4 303.1 665.6 302.5 666.9 303.1 668.1 303.5 669.3 303 670.5 302.5 671.8 302.6 673 302.4 674.3 302.6 675.5 302.6 676.8 302 678 301.6 679.3 301.4 680.5 301.2 681.7 300.9 682.9 300.7 684.1 300.2 685.3 300.3 686.5 299.9 687.8 299.1 689 299.2 690.2 298.6 691.5 298 692.8 297.9 694.1 298 695.3 297.3 696.6 296.6 697.9 297.5 699.2 298.5 700.5 299.3 701.7 300.3 703 299.9 704.3 300.5 705.5 300.3 706.7 300.3 707.9 300.2 709.1 300.6 710.4 301.1 711.6 301.2 712.8 300.5 714 300.7 715.2 301.4 716.5 301.1 717.8 300.8 719.1 300.8 720.4 301.1 721.7 300.9 723 300.6 724.3 300.2 725.5 300.2 726.8 301 728.1 300.6 729.4 301.5" fill="none" stroke-width="3.6" stroke-linejoin="round"/>
<path d="M469.2 361.6 470.6 359.8 471.9 359.2 473.3 358.4 474.7 358.6 475.9 357.9 477.1 357.5 478.3 357.5 479.5 357.1 480.7 357.8 482 358.1 483.2 358 484.4 356.6 485.6 357.4 486.9 357.6 488.2 358 489.5 358.3 490.9 358.6 492.2 359.8 493.4 358.3 494.7 357 495.9 357.5 497.2 356.2 498.4 355.2 499.7 354.6 500.9 354.9 502.2 354.9 503.5 354.4 504.8 354.7 506.2 355.1 507.5 355 508.7 356.6 510 357.2 511.2 356.6 512.5 356.4 513.7 357.8 515 358.2 516.2 358 517.5 357.4 518.7 357.6 520 356 521.2 355.6 522.5 353.9 523.7 353.5 525 352.5 526.2 352.9 527.5 353.3 528.7 353.7 530 355 531.2 354.9 532.5 354.3 533.7 355.6 534.9 356.4 536.1 356.8 537.4 356 538.6 355.6 539.8 356.2 541 355.3 542.2 354.7 543.4 355.2 544.6 355 545.9 354.9 547.1 354.2 548.4 355.1 549.6 354.6 550.9 353.9 552.1 353.2 553.4 352.6 554.6 352.9 555.9 352.8 557.1 352.6 558.4 352.5 559.6 351.5 560.9 350.4 562.1 349.5 563.4 349.1 564.6 349.5 565.8 350.1 567 351.4 568.2 351.8 569.4 351.2 570.6 351.9 571.9 352 573.1 353.2 574.3 353.7 575.5 353.4 576.7 353.4 577.9 352.9 579.1 352.3 580.4 352.9 581.6 353.2 582.8 352.9 584 353.4 585.6 356.1 587.3 358.4 588.6 356.2 589.8 356.1 591.1 353.9 592.4 352.4 593.7 351 594.9 349.8 596.3 351.6 597.6 352.8 598.9 353 600.2 353.6 601.5 355.4 603 355.9 604.4 356.4 605.9 358.2 607.2 356.7 608.5 355 609.8 354.4 611.1 354 612.4 352 613.7 352.7 614.9 352.4 616.2 353.5 617.4 353.5 618.7 353.3 619.9 353.2 621.2 352.7 622.4 352 623.7 352.4 624.9 352.5 626.2 351.9 627.4 351.3 628.7 351.5 629.9 352.5 631.2 351.1 632.4 351.3 633.6 351.8 634.8 350.7 636.1 350 637.3 349.8 638.5 348.8 639.8 347.7 641 348.5 642.2 350.8 643.5 351.6 644.7 353.4 645.9 353.5 647.1 355 648.4 355.3 649.6 356.1 650.8 356.4 652 357 653.3 357.1 654.5 356.7 655.7 355 656.9 354.8 658.1 354.7 659.3 353.6 660.5 353.4 661.8 352.8 663 353.1 664.2 353.3 665.4 353.3 666.6 352.2 667.8 351.1 669 350.9 670.3 351.1 671.5 350.3 672.7 351.1 674 351.6 675.2 351.8 676.5 351.4 677.7 352.1 679 351.4 680.2 350.8 681.5 351.1 682.7 350.7 684 350.2 685.2 349.6 686.5 348.7 687.7 348.1 689 347.9 690.2 349.5 691.5 350 692.7 350.4 694 350.6 695.2 352.3 696.5 352.8 697.7 353.4 699 353.5 700.3 355.1 701.7 355.7 703 356.3 704.3 357.1 705.5 356.8 706.7 356.8 707.9 356.8 709.1 356.6 710.4 357.5 711.6 358.3 712.8 357.9 714 357 715.2 356.4 716.5 355.7 717.8 356 719.1 355.9 720.5 354 721.8 352.5 723 353.7 724.3 354.1 725.6 353.9 726.9 354.2 728.1 354.1 729.4 353.8" fill="none" stroke-width="3.6" stroke-linejoin="round"/>
<path d="M469.2 310.9 470.8 310.7 472.5 310.7 474.1 310.5 475.7 310.8 477.3 310.6 479 310.7 480.6 310.8 482.2 310.9 483.9 310.8 485.5 310.7 487.1 310.6 488.7 310.4 490.4 310.4 492 310.3 493.6 310.6 495.2 310.6 496.9 310.4 498.5 310.2 500.1 310.2 501.8 310.6 503.4 310.4 505 310.4 506.6 310.6 508.3 310.4 509.9 310.7 511.5 310.9 513.2 311 514.8 310.7 516.4 311 518 310.7 519.7 310.9 521.3 311 522.9 310.9 524.5 311 526.2 311.1 527.8 311.1 529.4 310.9 531.1 311.1 532.7 311.1 534.3 310.9 535.9 310.6 537.6 310.8 539.2 311.1 540.8 311.2 542.5 311.1 544.1 311.1 545.7 311 547.3 310.7 549 310.9 550.6 311 552.2 311 553.8 311.1 555.5 310.8 557.1 310.6 558.7 310.5 560.4 310.7 562 310.6 563.6 310.4 565.2 310.3 566.9 310.2 568.5 310.5 570.1 310.8 571.8 310.6 573.4 310.7 575 310.5 576.6 310.8 578.3 310.6 579.9 310.8 581.5 310.5 583.1 310.6 584.8 310.6 586.4 310.4 588 310.7 589.7 310.7 591.3 310.8 592.9 310.6 594.5 310.5 596.2 310.8 597.8 310.8 599.4 311 601.1 311 602.7 311.2 604.3 311 605.9 310.9 607.6 311.1 609.2 310.7 610.8 310.7 612.4 310.5 614.1 310.4 615.7 310.4 617.3 310.3 619 310.2 620.6 310.1 622.2 310.3 623.8 310.6 625.5 310.7 627.1 310.6 628.7 310.7 630.4 310.5 632 310.7 633.6 310.7 635.2 310.7 636.9 310.8 638.5 310.5 640.1 310.6 641.7 310.6 643.4 310.6 645 310.6 646.6 310.6 648.3 310.7 649.9 310.6 651.5 310.9 653.1 310.7 654.8 310.8 656.4 310.8 658 311 659.6 311.1 661.3 310.9 662.9 311.1 664.5 311.2 666.2 310.9 667.8 310.7 669.4 310.6 671 310.6 672.7 310.6 674.3 310.6 675.9 310.9 677.6 310.7 679.2 310.9 680.8 310.8 682.4 310.9 684.1 310.6 685.7 310.8 687.3 310.6 688.9 310.8 690.6 310.6 692.2 310.8 693.8 310.9 695.5 310.6 697.1 310.8 698.7 310.8 700.3 310.6 702 310.7 703.6 310.7 705.2 311 706.9 311 708.5 310.7 710.1 310.8 711.7 310.5 713.4 310.4 715 310.3 716.6 310.1 718.2 310.3 719.9 310.6 721.5 310.6 723.1 310.5 724.8 310.3 726.4 310.4 728 310.4 729.6 310.7" fill="none" stroke-width="3" stroke-linejoin="round"/>
<path d="M469.2 320 470.8 320.1 472.5 319.9 474.1 320.1 475.7 320.2 477.3 320.4 479 320.2 480.6 320.1 482.2 319.9 483.9 319.9 485.5 319.7 487.1 319.9 488.7 319.9 490.4 320.1 492 320.2 493.6 320.1 495.2 320 496.9 319.9 498.5 319.8 500.1 319.9 501.8 319.9 503.4 319.8 505 320 506.6 320 508.3 320.2 509.9 320.3 511.5 320.3 513.2 320.2 514.8 320 516.4 320 518 320.1 519.7 320.1 521.3 320 522.9 319.9 524.5 319.9 526.2 319.9 527.8 319.8 529.4 319.8 531.1 319.8 532.7 319.8 534.3 319.9 535.9 320 537.6 320.1 539.2 320 540.8 319.9 542.5 319.9 544.1 319.8 545.7 319.9 547.3 320 549 319.9 550.6 319.8 552.2 320 553.8 320 555.5 320.1 557.1 320.2 558.7 320.3 560.4 320.1 562 320 563.6 320 565.2 320.1 566.9 320.1 568.5 320.1 570.1 320 571.8 319.9 573.4 320.1 575 320.3 576.6 320.2 578.3 320.2 579.9 320 581.5 320.1 583.1 320 584.8 320 586.4 320 588 320 589.7 320.1 591.3 320.1 592.9 320.1 594.5 320 596.2 320 597.8 320.2 599.4 320.2 601.1 320.3 602.7 320.2 604.3 320.2 605.9 320.2 607.6 320.2 609.2 320.2 610.8 320.1 612.4 319.9 614.1 319.9 615.7 319.8 617.3 319.8 619 319.9 620.6 320 622.2 320.2 623.8 320.2 625.5 320.2 627.1 320.1 628.7 320.1 630.4 320 632 319.9 633.6 320 635.2 320 636.9 320 638.5 320.1 640.1 320.1 641.7 320 643.4 320.2 645 320 646.6 319.9 648.3 319.9 649.9 320 651.5 319.9 653.1 320.1 654.8 320 656.4 320 658 320 659.6 320.1 661.3 320 662.9 319.9 664.5 320 666.2 320.2 667.8 320.2 669.4 320.3 671 320.2 672.7 320.2 674.3 320.1 675.9 320 677.6 320.1 679.2 320 680.8 319.8 682.4 320.1 684.1 320 685.7 319.9 687.3 320.1 688.9 320 690.6 320 692.2 319.8 693.8 319.8 695.5 319.8 697.1 320 698.7 319.9 700.3 320 702 320.1 703.6 320.2 705.2 320.3 706.9 320.2 708.5 320 710.1 319.9 711.7 320.1 713.4 319.9 715 319.9 716.6 320 718.2 320.1 719.9 320.2 721.5 320.2 723.1 320.1 724.8 320.2 726.4 320 728 320 729.6 320.1" fill="none" stroke-width="3.6" stroke-linejoin="round"/>
<path d="M469.2 325.8 470.8 325.9 472.5 326.1 474.1 326 475.7 326 477.3 326 479 326.1 480.6 326.1 482.2 326.1 483.9 326.3 485.5 326.3 487.1 326.1 488.7 326.1 490.4 326.1 492 326.1 493.6 326 495.2 326.1 496.9 326.1 498.5 326.1 500.1 326 501.8 325.9 503.4 325.7 505 325.8 506.6 325.7 508.3 325.8 509.9 325.7 511.5 325.9 513.2 326 514.8 325.9 516.4 325.9 518 325.8 519.7 326 521.3 326.2 522.9 326.2 524.5 326 526.2 326.2 527.8 326 529.4 325.8 531.1 325.9 532.7 325.8 534.3 326 535.9 325.9 537.6 325.7 539.2 325.8 540.8 325.7 542.5 325.8 544.1 325.9 545.7 326 547.3 326.2 549 326 550.6 326.1 552.2 326.1 553.8 326.2 555.5 326 557.1 326 558.7 326.2 560.4 326 562 325.9 563.6 325.9 565.2 325.8 566.9 326.1 568.5 325.9 570.1 326.1 571.8 326 573.4 326.1 575 325.9 576.6 325.8 578.3 326 579.9 325.8 581.5 325.9 583.1 325.8 584.8 325.9 586.4 325.9 588 325.9 589.7 326 591.3 326.1 592.9 325.9 594.5 326.1 596.2 326 597.8 326 599.4 326.1 601.1 326.2 602.7 326.1 604.3 326.1 605.9 326 607.6 326.1 609.2 326.1 610.8 326.2 612.4 326.3 614.1 326.3 615.7 326.1 617.3 326.1 619 326 620.6 325.9 622.2 326 623.8 326.1 625.5 325.9 627.1 326 628.7 325.9 630.4 326.1 632 326.2 633.6 326.1 635.2 325.9 636.9 325.8 638.5 325.9 640.1 325.9 641.7 325.7 643.4 325.9 645 325.9 646.6 325.9 648.3 325.8 649.9 325.8 651.5 325.8 653.1 325.7 654.8 325.7 656.4 325.6 658 325.5 659.6 325.7 661.3 325.8 662.9 325.9 664.5 325.9 666.2 325.8 667.8 325.7 669.4 325.9 671 325.9 672.7 325.8 674.3 325.7 675.9 325.7 677.6 325.7 679.2 325.9 680.8 325.8 682.4 325.9 684.1 325.8 685.7 325.8 687.3 325.9 688.9 325.8 690.6 326 692.2 326.1 693.8 326.1 695.5 326.1 697.1 326.2 698.7 326.3 700.3 326.2 702 326 703.6 326.1 705.2 326.2 706.9 326.1 708.5 326.1 710.1 326 711.7 326.1 713.4 326.1 715 326.1 716.6 326.1 718.2 326.1 719.9 326.1 721.5 326.1 723.1 326 724.8 326.1 726.4 326 728 326.1 729.6 326" fill="none" stroke-width="3.2" stroke-linejoin="round"/>
<path d="M469.2 331.6 470.8 331.6 472.5 331.7 474.1 331.6 475.7 331.7 477.3 331.7 479 331.7 480.6 331.6 482.2 331.4 483.9 331.4 485.5 331.6 487.1 331.4 488.7 331.4 490.4 331.4 492 331.5 493.6 331.5 495.2 331.7 496.9 331.9 498.5 331.9 500.1 331.7 501.8 331.9 503.4 332 505 331.9 506.6 332 508.3 332.1 509.9 332.2 511.5 331.9 513.2 331.7 514.8 331.9 516.4 331.7 518 331.6 519.7 331.4 521.3 331.6 522.9 331.5 524.5 331.4 526.2 331.5 527.8 331.4 529.4 331.6 531.1 331.4 532.7 331.7 534.3 331.5 535.9 331.4 537.6 331.5 539.2 331.6 540.8 331.6 542.5 331.7 544.1 331.6 545.7 331.8 547.3 331.6 549 331.6 550.6 331.8 552.2 331.7 553.8 331.5 555.5 331.6 557.1 331.5 558.7 331.5 560.4 331.5 562 331.5 563.6 331.4 565.2 331.6 566.9 331.8 568.5 331.8 570.1 331.7 571.8 331.6 573.4 331.5 575 331.5 576.6 331.6 578.3 331.7 579.9 331.5 581.5 331.7 583.1 331.9 584.8 331.9 586.4 331.8 588 331.6 589.7 331.5 591.3 331.3 592.9 331.3 594.5 331.5 596.2 331.4 597.8 331.5 599.4 331.7 601.1 331.7 602.7 331.7 604.3 331.8 605.9 331.8 607.6 331.8 609.2 331.8 610.8 331.6 612.4 331.9 614.1 331.7 615.7 331.5 617.3 331.4 619 331.6 620.6 331.9 622.2 332 623.8 331.8 625.5 331.7 627.1 331.8 628.7 331.6 630.4 331.6 632 331.6 633.6 331.5 635.2 331.5 636.9 331.5 638.5 331.4 640.1 331.6 641.7 331.6 643.4 331.5 645 331.5 646.6 331.5 648.3 331.6 649.9 331.4 651.5 331.4 653.1 331.3 654.8 331.4 656.4 331.5 658 331.7 659.6 331.7 661.3 331.7 662.9 331.8 664.5 331.7 666.2 331.7 667.8 331.6 669.4 331.6 671 331.6 672.7 331.4 674.3 331.3 675.9 331.4 677.6 331.3 679.2 331.4 680.8 331.6 682.4 331.6 684.1 331.7 685.7 331.6 687.3 331.4 688.9 331.5 690.6 331.6 692.2 331.6 693.8 331.6 695.5 331.8 697.1 331.7 698.7 331.9 700.3 331.9 702 331.7 703.6 331.8 705.2 331.8 706.9 331.8 708.5 331.9 710.1 331.8 711.7 331.9 713.4 331.9 715 331.9 716.6 332 718.2 332 719.9 331.9 721.5 331.7 723.1 331.5 724.8 331.6 726.4 331.6 728 331.6 729.6 331.7" fill="none" stroke-width="2.6" stroke-linejoin="round"/>
<path d="M469.2 337.1 470.8 337 472.5 336.5 474.1 336.2 475.7 336.1 477.3 336.7 479 337.1 480.6 336.9 482.2 336.8 483.9 336.7 485.5 337.1 487.1 337 488.7 336.7 490.4 336.7 492 336.2 493.6 336.4 495.2 336.1 496.9 336.6 498.5 336.5 500.1 337 501.8 336.9 503.4 336.6 505 337.1 506.6 337.4 508.3 336.7 509.9 337.2 511.5 337.4 513.2 337.7 514.8 337.5 516.4 337.5 518 337.5 519.7 337.2 521.3 336.6 522.9 336.8 524.5 337.2 526.2 336.7 527.8 336.9 529.4 336.8 531.1 336.7 532.7 336.9 534.3 337 535.9 337.2 537.6 337 539.2 336.9 540.8 337 542.5 336.6 544.1 337.1 545.7 336.5 547.3 336.9 549 336.5 550.6 336.2 552.2 336.8 553.8 337 555.5 336.7 557.1 336.9 558.7 336.6 560.4 336.9 562 336.7 563.6 336.5 565.2 336.2 566.9 336.4 568.5 336.1 570.1 336.3 571.8 336.3 573.4 336.6 575 336.4 576.6 336.7 578.3 336.3 579.9 336.8 581.5 336.4 583.1 336.4 584.8 336.1 586.4 336.6 588 336.4 589.7 336.1 591.3 336.5 592.9 336.8 594.5 336.9 596.2 337 597.8 337.1 599.4 337.4 601.1 337 602.7 336.5 604.3 337 605.9 337.1 607.6 337.2 609.2 337.5 610.8 337 612.4 337.1 614.1 337 615.7 337.4 617.3 337.4 619 337.3 620.6 337.5 622.2 337.5 623.8 337.3 625.5 337.4 627.1 337 628.7 337 630.4 336.8 632 336.9 633.6 337.2 635.2 337.5 636.9 337.6 638.5 337.5 640.1 337.7 641.7 337.7 643.4 337.3 645 337.3 646.6 336.8 648.3 336.4 649.9 336.6 651.5 336.3 653.1 336 654.8 335.9 656.4 336.4 658 337 659.6 336.5 661.3 336.1 662.9 336 664.5 336.3 666.2 336 667.8 335.9 669.4 336.4 671 336.8 672.7 336.3 674.3 336.7 675.9 336.3 677.6 336.3 679.2 336.6 680.8 337 682.4 337.4 684.1 337 685.7 336.8 687.3 337 688.9 336.7 690.6 336.5 692.2 336.3 693.8 336.1 695.5 336.6 697.1 336.9 698.7 336.9 700.3 337.2 702 337 703.6 337.2 705.2 337 706.9 337.4 708.5 337.4 710.1 337.5 711.7 337.4 713.4 337.2 715 336.6 716.6 336.8 718.2 336.8 719.9 336.7 721.5 337.1 723.1 336.7 724.8 337.1 726.4 337.2 728 337 729.6 336.7" fill="none" stroke-width="2.2" stroke-linejoin="round"/>
<path d="M469.2 339.5 470.8 339.5 472.5 339 474.1 339.4 475.7 339.6 477.3 339.8 479 339.7 480.6 339.8 482.2 340.1 483.9 340.2 485.5 339.9 487.1 340.2 488.7 339.8 490.4 339.4 492 339.2 493.6 339.3 495.2 339.7 496.9 339.5 498.5 339.7 500.1 339.4 501.8 339 503.4 339.6 505 339.7 506.6 339.6 508.3 339.8 509.9 339.3 511.5 339.8 513.2 339.5 514.8 340 516.4 339.5 518 339.5 519.7 339.3 521.3 339.5 522.9 339.1 524.5 338.8 526.2 338.8 527.8 338.5 529.4 339.1 531.1 338.8 532.7 338.8 534.3 339 535.9 338.8 537.6 339.4 539.2 339.2 540.8 339.4 542.5 339.1 544.1 339 545.7 339.3 547.3 339.5 549 339.8 550.6 340.2 552.2 340.5 553.8 340.2 555.5 339.6 557.1 339.2 558.7 339.7 560.4 340.1 562 340 563.6 339.4 565.2 339.2 566.9 339.5 568.5 339.2 570.1 339.1 571.8 339.1 573.4 339.4 575 339.7 576.6 339.6 578.3 339.4 579.9 339.5 581.5 339.5 583.1 340 584.8 339.5 586.4 339.4 588 339.2 589.7 339.3 591.3 339.7 592.9 340 594.5 340 596.2 339.8 597.8 339.8 599.4 340 601.1 340 602.7 340.3 604.3 339.6 605.9 339.6 607.6 340 609.2 340 610.8 340.2 612.4 339.9 614.1 340.3 615.7 339.8 617.3 339.8 619 340 620.6 340.3 622.2 340.1 623.8 340.2 625.5 340.2 627.1 340.3 628.7 340.4 630.4 340.2 632 339.9 633.6 340.1 635.2 339.8 636.9 339.4 638.5 339.1 640.1 339.2 641.7 339.3 643.4 339.1 645 339.6 646.6 339.3 648.3 339.6 649.9 339.4 651.5 339.8 653.1 340.1 654.8 339.7 656.4 339.2 658 339.3 659.6 339.7 661.3 340 662.9 340.1 664.5 339.7 666.2 340.2 667.8 339.9 669.4 340 671 340 672.7 339.8 674.3 339.9 675.9 340 677.6 340.2 679.2 340 680.8 339.7 682.4 339.3 684.1 339.2 685.7 339.6 687.3 339.9 688.9 339.5 690.6 339.5 692.2 339 693.8 339.4 695.5 339.5 697.1 339.9 698.7 340 700.3 339.8 702 339.7 703.6 339.2 705.2 339.6 706.9 339.3 708.5 339 710.1 338.8 711.7 339.2 713.4 339 715 339 716.6 339.2 718.2 339 719.9 339.4 721.5 339.9 723.1 339.5 724.8 339.8 726.4 339.6 728 340 729.6 339.5" fill="none" stroke-width="2.2" stroke-linejoin="round"/>
<path d="M469.2 343.4 470.8 343.7 472.5 343.5 474.1 343.4 475.7 343.3 477.3 343.2 479 343.2 480.6 343.5 482.2 343.5 483.9 343.2 485.5 343.5 487.1 343.3 488.7 343.5 490.4 343.3 492 343.4 493.6 343.5 495.2 343.5 496.9 343.8 498.5 343.8 500.1 343.7 501.8 343.6 503.4 343.3 505 343.4 506.6 343.4 508.3 343.2 509.9 343.3 511.5 343.5 513.2 343.3 514.8 343.5 516.4 343.6 518 343.3 519.7 343.5 521.3 343.3 522.9 343.1 524.5 343.3 526.2 343.6 527.8 343.6 529.4 343.8 531.1 343.8 532.7 343.9 534.3 343.8 535.9 343.7 537.6 343.9 539.2 343.8 540.8 343.7 542.5 343.9 544.1 343.9 545.7 343.9 547.3 343.8 549 343.9 550.6 343.9 552.2 343.6 553.8 343.6 555.5 343.6 557.1 343.4 558.7 343.2 560.4 343.3 562 343.4 563.6 343.2 565.2 343.3 566.9 343.3 568.5 343.5 570.1 343.6 571.8 343.3 573.4 343.4 575 343.2 576.6 343 578.3 343 579.9 343.3 581.5 343.5 583.1 343.6 584.8 343.4 586.4 343.6 588 343.3 589.7 343.4 591.3 343.2 592.9 343 594.5 343.4 596.2 343.3 597.8 343.1 599.4 343.2 601.1 343.5 602.7 343.6 604.3 343.3 605.9 343.3 607.6 343.6 609.2 343.5 610.8 343.5 612.4 343.6 614.1 343.8 615.7 343.9 617.3 343.7 619 343.7 620.6 343.7 622.2 343.5 623.8 343.3 625.5 343.2 627.1 343.1 628.7 343.1 630.4 343.3 632 343.2 633.6 343.3 635.2 343.6 636.9 343.7 638.5 343.7 640.1 343.3 641.7 343.4 643.4 343.5 645 343.6 646.6 343.7 648.3 343.6 649.9 343.6 651.5 343.7 653.1 343.5 654.8 343.4 656.4 343.5 658 343.5 659.6 343.5 661.3 343.3 662.9 343.6 664.5 343.4 666.2 343.6 667.8 343.6 669.4 343.7 671 343.7 672.7 343.7 674.3 343.9 675.9 344 677.6 343.9 679.2 343.9 680.8 343.6 682.4 343.4 684.1 343.6 685.7 343.4 687.3 343.4 688.9 343.4 690.6 343.3 692.2 343.6 693.8 343.6 695.5 343.4 697.1 343.7 698.7 343.4 700.3 343.6 702 343.3 703.6 343.6 705.2 343.7 706.9 343.7 708.5 343.6 710.1 343.8 711.7 343.6 713.4 343.6 715 343.4 716.6 343.2 718.2 343.1 719.9 343 721.5 342.9 723.1 342.9 724.8 342.9 726.4 343 728 343.2 729.6 343.5" fill="none" stroke-width="2.5" stroke-linejoin="round"/>
<path d="M469.2 348.5 470.8 348.3 472.5 348.2 474.1 348.4 475.7 348.1 477.3 348.2 479 348.2 480.6 348.3 482.2 348.1 483.9 348.2 485.5 348.2 487.1 348.5 488.7 348.1 490.4 348.5 492 348.2 493.6 348.4 495.2 348.4 496.9 348.6 498.5 348.3 500.1 348.2 501.8 348 503.4 348.2 505 348.3 506.6 348.1 508.3 347.9 509.9 347.8 511.5 347.7 513.2 347.9 514.8 348 516.4 348.2 518 347.9 519.7 348.2 521.3 348.6 522.9 348.6 524.5 348.7 526.2 348.8 527.8 348.4 529.4 348.4 531.1 348.1 532.7 348.3 534.3 348.3 535.9 348.1 537.6 348.1 539.2 348.3 540.8 348.3 542.5 348.1 544.1 348.4 545.7 348.1 547.3 348.4 549 348.7 550.6 348.7 552.2 348.9 553.8 348.8 555.5 348.5 557.1 348.4 558.7 348.5 560.4 348.6 562 348.5 563.6 348.7 565.2 348.3 566.9 348.3 568.5 348 570.1 348 571.8 348.4 573.4 348.1 575 348.5 576.6 348.7 578.3 348.7 579.9 348.3 581.5 348.3 583.1 348.4 584.8 348.1 586.4 348 588 347.9 589.7 348.2 591.3 348.5 592.9 348.7 594.5 348.8 596.2 348.7 597.8 348.3 599.4 348.3 601.1 348.5 602.7 348.6 604.3 348.2 605.9 347.9 607.6 347.8 609.2 348.2 610.8 348 612.4 348 614.1 348 615.7 348.3 617.3 348.1 619 348 620.6 348.2 622.2 348 623.8 347.9 625.5 347.7 627.1 348.1 628.7 348 630.4 348.1 632 348.1 633.6 348.4 635.2 348.5 636.9 348.5 638.5 348.5 640.1 348.3 641.7 348.5 643.4 348.2 645 348.3 646.6 348.2 648.3 348.1 649.9 348.1 651.5 347.9 653.1 348.1 654.8 347.9 656.4 347.7 658 347.6 659.6 347.5 661.3 348 662.9 348 664.5 348.2 666.2 348.4 667.8 348.2 669.4 348.5 671 348.4 672.7 348.3 674.3 348.3 675.9 348.4 677.6 348.6 679.2 348.3 680.8 348.5 682.4 348.4 684.1 348.2 685.7 348.5 687.3 348.7 688.9 348.8 690.6 348.6 692.2 348.8 693.8 348.8 695.5 349 697.1 349 698.7 349.1 700.3 348.9 702 348.9 703.6 348.9 705.2 348.8 706.9 348.7 708.5 348.5 710.1 348.7 711.7 348.5 713.4 348.6 715 348.6 716.6 348.6 718.2 348.4 719.9 348.1 721.5 348.3 723.1 348.1 724.8 348 726.4 348.3 728 348 729.6 348.3" fill="none" stroke-width="2.5" stroke-linejoin="round"/>
<line x1="439" y1="324.1" x2="467.5" y2="324.1" stroke-width="3.8" stroke-linecap="butt"/>
<line x1="729" y1="324.1" x2="835.5" y2="324.1" stroke-width="3.8" stroke-linecap="butt"/>
<path d="M467.2 301.5 467.5 355.1 469.4 358.8" fill="none" stroke-width="3" stroke-linejoin="round"/>
<path d="M730 155.5 730.6 250 732.6 318 731.6 330 730.6 364" fill="none" stroke-width="3" stroke-linejoin="round"/>
</g>
<path d="M731.5 315.5 L736.5 319.5 Q746.5 322.5 772.5 322.7 L772.5 326.3 Q746.5 327.5 731.5 332.5Z" fill="#1488ec" stroke="none"/>
<path d="M779.1 204.8 779.1 267.3 817.4 267.3" fill="none" stroke-width="3.1" stroke-linejoin="miter" stroke="#000"/>
<text font-size="33.6" transform="translate(753.6 300.9) scale(0.937 1)">10 ms</text>
<text font-size="34.3" transform="translate(763.1 272.9) rotate(-90) scale(0.917 1)">400 pA</text>
<!-- panelB -->
<text x="846.1" y="44.8" font-size="48">B</text>
<path d="M896.5 340.9 C903.2 340.8 923.4 340.6 936.9 340.4 C950.4 340.2 963.8 339.9 977.3 339.6 C990.8 339.3 1004.2 339 1017.7 338.6 C1031.2 338.2 1044.6 337.7 1058.1 337.2 C1071.6 336.7 1085 336.1 1098.5 335.4 C1112 334.7 1125.4 334 1138.9 333 C1152.4 332 1165.8 330.8 1179.3 329.2 C1192.8 327.6 1206.2 326 1219.7 323.5 C1233.2 321 1246.6 318.2 1260.1 314 C1273.6 309.8 1287 304.9 1300.5 298 C1314 291.1 1327.4 283.1 1340.9 272.4 C1354.4 261.7 1374.6 240.3 1381.3 233.9" fill="none" stroke="#529cf5" stroke-width="3"/>
<line x1="1381.3" y1="171" x2="1381.3" y2="296.8" stroke-width="2.6" stroke="#529cf5"/>
<line x1="1375.5" y1="171" x2="1387.1" y2="171" stroke-width="2.6" stroke="#529cf5"/>
<line x1="1375.5" y1="296.8" x2="1387.1" y2="296.8" stroke-width="2.6" stroke="#529cf5"/>
<rect x="1374.8" y="227.4" width="13" height="13" fill="#529cf5" stroke="none"/>
<line x1="1340.9" y1="241.6" x2="1340.9" y2="310.2" stroke-width="2.6" stroke="#529cf5"/>
<line x1="1335.1" y1="241.6" x2="1346.7" y2="241.6" stroke-width="2.6" stroke="#529cf5"/>
<line x1="1335.1" y1="310.2" x2="1346.7" y2="310.2" stroke-width="2.6" stroke="#529cf5"/>
<rect x="1334.4" y="269.8" width="13" height="13" fill="#529cf5" stroke="none"/>
<line x1="1300.5" y1="286.5" x2="1300.5" y2="320.7" stroke-width="2.6" stroke="#529cf5"/>
<line x1="1294.7" y1="286.5" x2="1306.3" y2="286.5" stroke-width="2.6" stroke="#529cf5"/>
<line x1="1294.7" y1="320.7" x2="1306.3" y2="320.7" stroke-width="2.6" stroke="#529cf5"/>
<rect x="1294" y="296.7" width="13" height="13" fill="#529cf5" stroke="none"/>
<line x1="1260.1" y1="312.5" x2="1260.1" y2="324.5" stroke-width="2.6" stroke="#529cf5"/>
<line x1="1254.3" y1="312.5" x2="1265.9" y2="312.5" stroke-width="2.6" stroke="#529cf5"/>
<line x1="1254.3" y1="324.5" x2="1265.9" y2="324.5" stroke-width="2.6" stroke="#529cf5"/>
<rect x="1253.6" y="312.1" width="13" height="13" fill="#529cf5" stroke="none"/>
<rect x="1213.2" y="317.3" width="13" height="13" fill="#529cf5" stroke="none"/>
<rect x="1172.8" y="321.1" width="13" height="13" fill="#529cf5" stroke="none"/>
<rect x="1132.4" y="323.9" width="13" height="13" fill="#529cf5" stroke="none"/>
<rect x="1092" y="326.5" width="13" height="13" fill="#529cf5" stroke="none"/>
<rect x="1051.6" y="329" width="13" height="13" fill="#529cf5" stroke="none"/>
<line x1="1017.7" y1="334" x2="1017.7" y2="343" stroke-width="2.6" stroke="#529cf5"/>
<line x1="1011.9" y1="334" x2="1023.5" y2="334" stroke-width="2.6" stroke="#529cf5"/>
<line x1="1011.9" y1="343" x2="1023.5" y2="343" stroke-width="2.6" stroke="#529cf5"/>
<rect x="1011.2" y="332" width="13" height="13" fill="#529cf5" stroke="none"/>
<line x1="977.3" y1="335" x2="977.3" y2="346" stroke-width="2.6" stroke="#529cf5"/>
<line x1="971.5" y1="335" x2="983.1" y2="335" stroke-width="2.6" stroke="#529cf5"/>
<line x1="971.5" y1="346" x2="983.1" y2="346" stroke-width="2.6" stroke="#529cf5"/>
<rect x="970.8" y="334" width="13" height="13" fill="#529cf5" stroke="none"/>
<line x1="936.9" y1="336" x2="936.9" y2="349" stroke-width="2.6" stroke="#529cf5"/>
<line x1="931.1" y1="336" x2="942.7" y2="336" stroke-width="2.6" stroke="#529cf5"/>
<line x1="931.1" y1="349" x2="942.7" y2="349" stroke-width="2.6" stroke="#529cf5"/>
<rect x="930.4" y="336" width="13" height="13" fill="#529cf5" stroke="none"/>
<line x1="896.5" y1="338" x2="896.5" y2="362.7" stroke-width="2.6" stroke="#529cf5"/>
<line x1="890.7" y1="338" x2="902.3" y2="338" stroke-width="2.6" stroke="#529cf5"/>
<line x1="890.7" y1="362.7" x2="902.3" y2="362.7" stroke-width="2.6" stroke="#529cf5"/>
<rect x="890" y="339.5" width="13" height="13" fill="#529cf5" stroke="none"/>
<line x1="1138.9" y1="69.7" x2="1138.9" y2="397" stroke-width="3.1" stroke="#000"/>
<line x1="1130.1" y1="71.2" x2="1138.9" y2="71.2" stroke-width="3.1" stroke="#000"/>
<text x="1125.8" y="80.7" font-size="24" text-anchor="end">80</text>
<line x1="1130.1" y1="136" x2="1138.9" y2="136" stroke-width="3.1" stroke="#000"/>
<text x="1125.8" y="145.5" font-size="24" text-anchor="end">60</text>
<line x1="1130.1" y1="200.8" x2="1138.9" y2="200.8" stroke-width="3.1" stroke="#000"/>
<text x="1125.8" y="210.3" font-size="24" text-anchor="end">40</text>
<line x1="1130.1" y1="265.6" x2="1138.9" y2="265.6" stroke-width="3.1" stroke="#000"/>
<text x="1125.8" y="275.1" font-size="24" text-anchor="end">20</text>
<line x1="1130.1" y1="395.2" x2="1138.9" y2="395.2" stroke-width="3.1" stroke="#000"/>
<text x="1125.8" y="404.7" font-size="24" text-anchor="end">-20</text>
<line x1="893.8" y1="330.4" x2="1383.4" y2="330.4" stroke-width="3.1" stroke="#000"/>
<line x1="936.9" y1="330.4" x2="936.9" y2="338.9" stroke-width="3.1" stroke="#000"/>
<text x="936.4" y="381.6" font-size="24" text-anchor="middle">-100</text>
<line x1="1037.9" y1="330.4" x2="1037.9" y2="338.9" stroke-width="3.1" stroke="#000"/>
<text x="1037.4" y="381.6" font-size="24" text-anchor="middle">-50</text>
<line x1="1239.9" y1="330.4" x2="1239.9" y2="338.9" stroke-width="3.1" stroke="#000"/>
<text x="1239.4" y="381.6" font-size="24" text-anchor="middle">50</text>
<line x1="1340.9" y1="330.4" x2="1340.9" y2="338.9" stroke-width="3.1" stroke="#000"/>
<text x="1340.4" y="381.6" font-size="24" text-anchor="middle">100</text>
<text x="1395.5" y="380.2" font-size="27">(mV)</text>
<text font-size="27" text-anchor="middle" transform="translate(1076 200.5) rotate(-90)">J(pA/pF)</text>
<path d="M896.5 342.3 C903.2 342.2 923.4 342.1 936.9 341.9 C950.4 341.7 963.8 341.5 977.3 341.2 C990.8 340.9 1004.2 340.6 1017.7 340.2 C1031.2 339.8 1044.6 339.3 1058.1 338.8 C1071.6 338.3 1085 337.7 1098.5 337 C1112 336.3 1125.4 335.8 1138.9 334.6 C1152.4 333.4 1165.8 332.1 1179.3 330 C1192.8 327.9 1206.2 325.6 1219.7 322 C1233.2 318.4 1246.6 314.5 1260.1 308.5 C1273.6 302.5 1287 295.8 1300.5 286 C1314 276.2 1327.4 265.7 1340.9 249.5 C1354.4 233.3 1374.6 199 1381.3 188.9" fill="none" stroke="#000" stroke-width="3"/>
<line x1="1381.3" y1="107.3" x2="1381.3" y2="271.1" stroke-width="3" stroke="#000"/>
<line x1="1375.5" y1="107.3" x2="1387.1" y2="107.3" stroke-width="3" stroke="#000"/>
<line x1="1375.5" y1="271.1" x2="1387.1" y2="271.1" stroke-width="3" stroke="#000"/>
<circle cx="1381.3" cy="188.9" r="6.4" fill="#000" stroke="none"/>
<line x1="1340.9" y1="203.6" x2="1340.9" y2="293.5" stroke-width="3" stroke="#000"/>
<line x1="1335.1" y1="203.6" x2="1346.7" y2="203.6" stroke-width="3" stroke="#000"/>
<line x1="1335.1" y1="293.5" x2="1346.7" y2="293.5" stroke-width="3" stroke="#000"/>
<circle cx="1340.9" cy="248.5" r="6.4" fill="#000" stroke="none"/>
<line x1="1300.5" y1="268.8" x2="1300.5" y2="312.2" stroke-width="3" stroke="#000"/>
<line x1="1294.7" y1="268.8" x2="1306.3" y2="268.8" stroke-width="3" stroke="#000"/>
<line x1="1294.7" y1="312.2" x2="1306.3" y2="312.2" stroke-width="3" stroke="#000"/>
<circle cx="1300.5" cy="290.9" r="6.4" fill="#000" stroke="none"/>
<line x1="1260.1" y1="304" x2="1260.1" y2="318.6" stroke-width="3" stroke="#000"/>
<line x1="1254.3" y1="304" x2="1265.9" y2="304" stroke-width="3" stroke="#000"/>
<line x1="1254.3" y1="318.6" x2="1265.9" y2="318.6" stroke-width="3" stroke="#000"/>
<circle cx="1260.1" cy="311.4" r="6.4" fill="#000" stroke="none"/>
<circle cx="1219.7" cy="320.4" r="6.4" fill="#000" stroke="none"/>
<circle cx="1179.3" cy="325.8" r="6.4" fill="#000" stroke="none"/>
<circle cx="1138.9" cy="330.2" r="6.4" fill="#000" stroke="none"/>
<circle cx="1098.5" cy="333.3" r="6.4" fill="#000" stroke="none"/>
<circle cx="1058.1" cy="336.8" r="6.4" fill="#000" stroke="none"/>
<line x1="1017.7" y1="331.7" x2="1017.7" y2="347.6" stroke-width="3" stroke="#000"/>
<line x1="1011.9" y1="331.7" x2="1023.5" y2="331.7" stroke-width="3" stroke="#000"/>
<line x1="1011.9" y1="347.6" x2="1023.5" y2="347.6" stroke-width="3" stroke="#000"/>
<circle cx="1017.7" cy="340.1" r="6.4" fill="#000" stroke="none"/>
<line x1="977.3" y1="334.9" x2="977.3" y2="352.4" stroke-width="3" stroke="#000"/>
<line x1="971.5" y1="334.9" x2="983.1" y2="334.9" stroke-width="3" stroke="#000"/>
<line x1="971.5" y1="352.4" x2="983.1" y2="352.4" stroke-width="3" stroke="#000"/>
<circle cx="977.3" cy="343.3" r="6.4" fill="#000" stroke="none"/>
<line x1="936.9" y1="336.5" x2="936.9" y2="359" stroke-width="3" stroke="#000"/>
<line x1="931.1" y1="336.5" x2="942.7" y2="336.5" stroke-width="3" stroke="#000"/>
<line x1="931.1" y1="359" x2="942.7" y2="359" stroke-width="3" stroke="#000"/>
<circle cx="936.9" cy="348.1" r="6.4" fill="#000" stroke="none"/>
<line x1="896.5" y1="338" x2="896.5" y2="366.7" stroke-width="3" stroke="#000"/>
<line x1="890.7" y1="338" x2="902.3" y2="338" stroke-width="3" stroke="#000"/>
<line x1="890.7" y1="366.7" x2="902.3" y2="366.7" stroke-width="3" stroke="#000"/>
<circle cx="896.5" cy="352.7" r="6.4" fill="#000" stroke="none"/>
<line x1="1156.5" y1="71.4" x2="1191.1" y2="71.4" stroke-width="3.2" stroke="#000"/>
<circle cx="1173.9" cy="71.4" r="6.2" fill="#000" stroke="none"/>
<line x1="1156.5" y1="111.5" x2="1191.1" y2="111.5" stroke-width="3.2" stroke="#529cf5"/>
<rect x="1167" y="104.9" width="13.2" height="13.2" fill="#529cf5" stroke="none"/>
<text x="1210" y="80.3" font-size="26.5">Control</text>
<text x="1209.5" y="121.5" font-size="26.5">AG1529 1<tspan font-family="Liberation Serif, serif">μ</tspan>M</text>
<!-- panelC -->
<text x="1506.7" y="44.8" font-size="48">C</text>
<line x1="1966.2" y1="191.7" x2="1966.2" y2="261.5" stroke-width="2.4" stroke="#529cf5"/>
<line x1="1960.4" y1="191.7" x2="1971.9" y2="191.7" stroke-width="2.4" stroke="#529cf5"/>
<line x1="1960.4" y1="261.5" x2="1971.9" y2="261.5" stroke-width="2.4" stroke="#529cf5"/>
<rect x="1960.3" y="221.2" width="11.8" height="11.8" fill="#529cf5" stroke="none"/>
<line x1="1937.8" y1="249.8" x2="1937.8" y2="295.4" stroke-width="2.4" stroke="#529cf5"/>
<line x1="1932" y1="249.8" x2="1943.5" y2="249.8" stroke-width="2.4" stroke="#529cf5"/>
<line x1="1932" y1="295.4" x2="1943.5" y2="295.4" stroke-width="2.4" stroke="#529cf5"/>
<rect x="1931.9" y="266.8" width="11.8" height="11.8" fill="#529cf5" stroke="none"/>
<line x1="1909.4" y1="296.2" x2="1909.4" y2="324.7" stroke-width="2.4" stroke="#529cf5"/>
<line x1="1903.6" y1="296.2" x2="1915.1" y2="296.2" stroke-width="2.4" stroke="#529cf5"/>
<line x1="1903.6" y1="324.7" x2="1915.1" y2="324.7" stroke-width="2.4" stroke="#529cf5"/>
<rect x="1903.5" y="304.6" width="11.8" height="11.8" fill="#529cf5" stroke="none"/>
<line x1="1881" y1="319.5" x2="1881" y2="333.7" stroke-width="2.4" stroke="#529cf5"/>
<line x1="1875.2" y1="319.5" x2="1886.8" y2="319.5" stroke-width="2.4" stroke="#529cf5"/>
<line x1="1875.2" y1="333.7" x2="1886.8" y2="333.7" stroke-width="2.4" stroke="#529cf5"/>
<rect x="1875.1" y="320" width="11.8" height="11.8" fill="#529cf5" stroke="none"/>
<line x1="1852.6" y1="329.5" x2="1852.6" y2="340.1" stroke-width="2.4" stroke="#529cf5"/>
<line x1="1846.8" y1="329.5" x2="1858.3" y2="329.5" stroke-width="2.4" stroke="#529cf5"/>
<line x1="1846.8" y1="340.1" x2="1858.3" y2="340.1" stroke-width="2.4" stroke="#529cf5"/>
<rect x="1846.7" y="328.6" width="11.8" height="11.8" fill="#529cf5" stroke="none"/>
<rect x="1818.3" y="333" width="11.8" height="11.8" fill="#529cf5" stroke="none"/>
<rect x="1789.9" y="361.5" width="11.8" height="11.8" fill="#529cf5" stroke="none"/>
<line x1="1767.4" y1="343.5" x2="1767.4" y2="351" stroke-width="2.4" stroke="#529cf5"/>
<line x1="1761.6" y1="343.5" x2="1773.1" y2="343.5" stroke-width="2.4" stroke="#529cf5"/>
<line x1="1761.6" y1="351" x2="1773.1" y2="351" stroke-width="2.4" stroke="#529cf5"/>
<rect x="1761.5" y="341.3" width="11.8" height="11.8" fill="#529cf5" stroke="none"/>
<line x1="1739" y1="342" x2="1739" y2="350" stroke-width="2.4" stroke="#529cf5"/>
<line x1="1733.2" y1="342" x2="1744.8" y2="342" stroke-width="2.4" stroke="#529cf5"/>
<line x1="1733.2" y1="350" x2="1744.8" y2="350" stroke-width="2.4" stroke="#529cf5"/>
<rect x="1733.1" y="340.1" width="11.8" height="11.8" fill="#529cf5" stroke="none"/>
<line x1="1710.6" y1="340.5" x2="1710.6" y2="348.5" stroke-width="2.4" stroke="#529cf5"/>
<line x1="1704.8" y1="340.5" x2="1716.3" y2="340.5" stroke-width="2.4" stroke="#529cf5"/>
<line x1="1704.8" y1="348.5" x2="1716.3" y2="348.5" stroke-width="2.4" stroke="#529cf5"/>
<rect x="1704.7" y="338.6" width="11.8" height="11.8" fill="#529cf5" stroke="none"/>
<line x1="1682.2" y1="340" x2="1682.2" y2="348" stroke-width="2.4" stroke="#529cf5"/>
<line x1="1676.5" y1="340" x2="1688" y2="340" stroke-width="2.4" stroke="#529cf5"/>
<line x1="1676.5" y1="348" x2="1688" y2="348" stroke-width="2.4" stroke="#529cf5"/>
<rect x="1676.3" y="338.1" width="11.8" height="11.8" fill="#529cf5" stroke="none"/>
<line x1="1653.8" y1="334" x2="1653.8" y2="343" stroke-width="2.4" stroke="#529cf5"/>
<line x1="1648" y1="334" x2="1659.5" y2="334" stroke-width="2.4" stroke="#529cf5"/>
<line x1="1648" y1="343" x2="1659.5" y2="343" stroke-width="2.4" stroke="#529cf5"/>
<rect x="1647.9" y="332.6" width="11.8" height="11.8" fill="#529cf5" stroke="none"/>
<line x1="1625.4" y1="337" x2="1625.4" y2="345" stroke-width="2.4" stroke="#529cf5"/>
<line x1="1619.7" y1="337" x2="1631.2" y2="337" stroke-width="2.4" stroke="#529cf5"/>
<line x1="1619.7" y1="345" x2="1631.2" y2="345" stroke-width="2.4" stroke="#529cf5"/>
<rect x="1619.5" y="335.1" width="11.8" height="11.8" fill="#529cf5" stroke="none"/>
<line x1="1583.1" y1="83" x2="1583.1" y2="368.2" stroke-width="1.7" stroke="#000"/>
<line x1="1574.4" y1="367.4" x2="2009.6" y2="367.4" stroke-width="1.7" stroke="#000"/>
<line x1="1574.4" y1="367.4" x2="1583.1" y2="367.4" stroke-width="1.7" stroke="#000"/>
<text x="1571.6" y="371.6" font-size="21.5" text-anchor="end">0.0</text>
<line x1="1574.4" y1="310.7" x2="1583.1" y2="310.7" stroke-width="1.7" stroke="#000"/>
<text x="1571.6" y="314.9" font-size="21.5" text-anchor="end">0.1</text>
<line x1="1574.4" y1="254" x2="1583.1" y2="254" stroke-width="1.7" stroke="#000"/>
<text x="1571.6" y="258.2" font-size="21.5" text-anchor="end">0.2</text>
<line x1="1574.4" y1="197.2" x2="1583.1" y2="197.2" stroke-width="1.7" stroke="#000"/>
<text x="1571.6" y="201.4" font-size="21.5" text-anchor="end">0.3</text>
<line x1="1574.4" y1="140.5" x2="1583.1" y2="140.5" stroke-width="1.7" stroke="#000"/>
<text x="1571.6" y="144.7" font-size="21.5" text-anchor="end">0.4</text>
<line x1="1574.4" y1="83.8" x2="1583.1" y2="83.8" stroke-width="1.7" stroke="#000"/>
<text x="1571.6" y="88" font-size="21.5" text-anchor="end">0.5</text>
<line x1="1625.4" y1="367.4" x2="1625.4" y2="375.7" stroke-width="1.7" stroke="#000"/>
<text x="1625.1" y="398.6" font-size="21.5" text-anchor="middle">-120</text>
<line x1="1682.2" y1="367.4" x2="1682.2" y2="375.7" stroke-width="1.7" stroke="#000"/>
<text x="1681.9" y="398.6" font-size="21.5" text-anchor="middle">-80</text>
<line x1="1739" y1="367.4" x2="1739" y2="375.7" stroke-width="1.7" stroke="#000"/>
<text x="1738.7" y="398.6" font-size="21.5" text-anchor="middle">-40</text>
<line x1="1795.8" y1="367.4" x2="1795.8" y2="375.7" stroke-width="1.7" stroke="#000"/>
<text x="1795.5" y="398.6" font-size="21.5" text-anchor="middle">0</text>
<line x1="1852.6" y1="367.4" x2="1852.6" y2="375.7" stroke-width="1.7" stroke="#000"/>
<text x="1852.3" y="398.6" font-size="21.5" text-anchor="middle">40</text>
<line x1="1909.4" y1="367.4" x2="1909.4" y2="375.7" stroke-width="1.7" stroke="#000"/>
<text x="1909.1" y="398.6" font-size="21.5" text-anchor="middle">80</text>
<line x1="1966.2" y1="367.4" x2="1966.2" y2="375.7" stroke-width="1.7" stroke="#000"/>
<text x="1965.9" y="398.6" font-size="21.5" text-anchor="middle">120</text>
<text x="1795.6" y="427.8" font-size="24.2" text-anchor="middle">V (mV)</text>
<text font-size="23.8" text-anchor="middle" transform="translate(1526.2 222.2) rotate(-90)">G (<tspan font-family="Liberation Serif, serif">μ</tspan>S)</text>
<line x1="1966.2" y1="118.5" x2="1966.2" y2="203.4" stroke-width="2.7" stroke="#000"/>
<line x1="1960.4" y1="118.5" x2="1971.9" y2="118.5" stroke-width="2.7" stroke="#000"/>
<line x1="1960.4" y1="203.4" x2="1971.9" y2="203.4" stroke-width="2.7" stroke="#000"/>
<circle cx="1966.2" cy="160.8" r="5.9" fill="#000" stroke="none"/>
<line x1="1937.8" y1="195.6" x2="1937.8" y2="251.5" stroke-width="2.7" stroke="#000"/>
<line x1="1932" y1="195.6" x2="1943.5" y2="195.6" stroke-width="2.7" stroke="#000"/>
<line x1="1932" y1="251.5" x2="1943.5" y2="251.5" stroke-width="2.7" stroke="#000"/>
<circle cx="1937.8" cy="224.2" r="5.9" fill="#000" stroke="none"/>
<line x1="1909.4" y1="264.4" x2="1909.4" y2="297.9" stroke-width="2.7" stroke="#000"/>
<line x1="1903.6" y1="264.4" x2="1915.1" y2="264.4" stroke-width="2.7" stroke="#000"/>
<line x1="1903.6" y1="297.9" x2="1915.1" y2="297.9" stroke-width="2.7" stroke="#000"/>
<circle cx="1909.4" cy="282" r="5.9" fill="#000" stroke="none"/>
<line x1="1881" y1="304" x2="1881" y2="320.5" stroke-width="2.7" stroke="#000"/>
<line x1="1875.2" y1="304" x2="1886.8" y2="304" stroke-width="2.7" stroke="#000"/>
<line x1="1875.2" y1="320.5" x2="1886.8" y2="320.5" stroke-width="2.7" stroke="#000"/>
<circle cx="1881" cy="312.5" r="5.9" fill="#000" stroke="none"/>
<line x1="1852.6" y1="317.1" x2="1852.6" y2="330.3" stroke-width="2.7" stroke="#000"/>
<line x1="1846.8" y1="317.1" x2="1858.3" y2="317.1" stroke-width="2.7" stroke="#000"/>
<line x1="1846.8" y1="330.3" x2="1858.3" y2="330.3" stroke-width="2.7" stroke="#000"/>
<circle cx="1852.6" cy="324" r="5.9" fill="#000" stroke="none"/>
<circle cx="1824.2" cy="330.1" r="5.9" fill="#000" stroke="none"/>
<circle cx="1795.8" cy="367.9" r="5.9" fill="#000" stroke="none"/>
<line x1="1767.4" y1="337.4" x2="1767.4" y2="349.3" stroke-width="2.7" stroke="#000"/>
<line x1="1761.6" y1="337.4" x2="1773.1" y2="337.4" stroke-width="2.7" stroke="#000"/>
<line x1="1761.6" y1="349.3" x2="1773.1" y2="349.3" stroke-width="2.7" stroke="#000"/>
<circle cx="1767.4" cy="343.8" r="5.9" fill="#000" stroke="none"/>
<line x1="1739" y1="332.2" x2="1739" y2="346.3" stroke-width="2.7" stroke="#000"/>
<line x1="1733.2" y1="332.2" x2="1744.8" y2="332.2" stroke-width="2.7" stroke="#000"/>
<line x1="1733.2" y1="346.3" x2="1744.8" y2="346.3" stroke-width="2.7" stroke="#000"/>
<circle cx="1739" cy="339.6" r="5.9" fill="#000" stroke="none"/>
<line x1="1710.6" y1="331.4" x2="1710.6" y2="345.6" stroke-width="2.7" stroke="#000"/>
<line x1="1704.8" y1="331.4" x2="1716.3" y2="331.4" stroke-width="2.7" stroke="#000"/>
<line x1="1704.8" y1="345.6" x2="1716.3" y2="345.6" stroke-width="2.7" stroke="#000"/>
<circle cx="1710.6" cy="338.7" r="5.9" fill="#000" stroke="none"/>
<line x1="1682.2" y1="332.2" x2="1682.2" y2="345.6" stroke-width="2.7" stroke="#000"/>
<line x1="1676.5" y1="332.2" x2="1688" y2="332.2" stroke-width="2.7" stroke="#000"/>
<line x1="1676.5" y1="345.6" x2="1688" y2="345.6" stroke-width="2.7" stroke="#000"/>
<circle cx="1682.2" cy="339.2" r="5.9" fill="#000" stroke="none"/>
<line x1="1653.8" y1="329.2" x2="1653.8" y2="344.1" stroke-width="2.7" stroke="#000"/>
<line x1="1648" y1="329.2" x2="1659.5" y2="329.2" stroke-width="2.7" stroke="#000"/>
<line x1="1648" y1="344.1" x2="1659.5" y2="344.1" stroke-width="2.7" stroke="#000"/>
<circle cx="1653.8" cy="337" r="5.9" fill="#000" stroke="none"/>
<line x1="1625.4" y1="327.7" x2="1625.4" y2="342.6" stroke-width="2.7" stroke="#000"/>
<line x1="1619.7" y1="327.7" x2="1631.2" y2="327.7" stroke-width="2.7" stroke="#000"/>
<line x1="1619.7" y1="342.6" x2="1631.2" y2="342.6" stroke-width="2.7" stroke="#000"/>
<circle cx="1625.4" cy="335.6" r="5.9" fill="#000" stroke="none"/>
<circle cx="1627.3" cy="91.8" r="5.8" fill="#000" stroke="none"/>
<rect x="1621.5" y="118.2" width="11.6" height="11.6" fill="#529cf5" stroke="none"/>
<text x="1659.4" y="101.1" font-size="27">Control</text>
<text x="1659.6" y="134.3" font-size="27.6">AG1529</text>
<text x="1776.5" y="134.3" font-size="28.2">1µM</text>
<!-- panelD -->
<text x="22.2" y="496.2" font-size="48">D</text>
<line x1="296" y1="542" x2="296" y2="827.9" stroke-width="1.5" stroke="#1c1c1c"/>
<line x1="79.4" y1="814.4" x2="511.1" y2="814.4" stroke-width="1.5" stroke="#1c1c1c"/>
<line x1="287.3" y1="746.5" x2="296" y2="746.5" stroke-width="1.5" stroke="#1c1c1c"/>
<text x="285.4" y="754.7" font-size="24" text-anchor="end">500</text>
<line x1="287.3" y1="678.6" x2="296" y2="678.6" stroke-width="1.5" stroke="#1c1c1c"/>
<text x="285.4" y="686.8" font-size="24" text-anchor="end">1000</text>
<line x1="287.3" y1="610.7" x2="296" y2="610.7" stroke-width="1.5" stroke="#1c1c1c"/>
<text x="285.4" y="618.9" font-size="24" text-anchor="end">1500</text>
<line x1="287.3" y1="542.8" x2="296" y2="542.8" stroke-width="1.5" stroke="#1c1c1c"/>
<text x="285.4" y="551" font-size="24" text-anchor="end">2000</text>
<line x1="117.3" y1="814.4" x2="117.3" y2="822.9" stroke-width="1.5" stroke="#1c1c1c"/>
<text x="117" y="848.8" font-size="24" text-anchor="middle">-100</text>
<line x1="206.7" y1="814.4" x2="206.7" y2="822.9" stroke-width="1.5" stroke="#1c1c1c"/>
<text x="206.3" y="848.8" font-size="24" text-anchor="middle">-50</text>
<line x1="385.4" y1="814.4" x2="385.4" y2="822.9" stroke-width="1.5" stroke="#1c1c1c"/>
<text x="385.1" y="848.8" font-size="24" text-anchor="middle">50</text>
<line x1="474.7" y1="814.4" x2="474.7" y2="822.9" stroke-width="1.5" stroke="#1c1c1c"/>
<text x="474.4" y="848.8" font-size="24" text-anchor="middle">100</text>
<text x="296" y="875.6" font-size="24" text-anchor="middle">V (mV)</text>
<text font-size="24" text-anchor="middle" transform="translate(205.2 683.9) rotate(-90)">I (pA)</text>
<text x="296.7" y="507.2" font-size="27.6" text-anchor="middle" font-weight="bold">Control</text>
<circle cx="81.6" cy="824.2" r="6.1" fill="#ff6600" stroke="none"/>
<circle cx="99.4" cy="824" r="6.1" fill="#ff6600" stroke="none"/>
<circle cx="117.3" cy="823.1" r="6.1" fill="#ff6600" stroke="none"/>
<circle cx="135.2" cy="822.5" r="6.1" fill="#ff6600" stroke="none"/>
<circle cx="153" cy="821.1" r="6.1" fill="#ff6600" stroke="none"/>
<circle cx="170.9" cy="819.9" r="6.1" fill="#ff6600" stroke="none"/>
<circle cx="188.8" cy="819" r="6.1" fill="#ff6600" stroke="none"/>
<circle cx="206.7" cy="818.5" r="6.1" fill="#ff6600" stroke="none"/>
<circle cx="224.5" cy="817.3" r="6.1" fill="#ff6600" stroke="none"/>
<circle cx="242.4" cy="817.3" r="6.1" fill="#ff6600" stroke="none"/>
<circle cx="260.3" cy="815.6" r="6.1" fill="#ff6600" stroke="none"/>
<circle cx="278.1" cy="814.4" r="6.1" fill="#ff6600" stroke="none"/>
<circle cx="296" cy="814.4" r="6.1" fill="#ff6600" stroke="none"/>
<circle cx="313.9" cy="812.1" r="6.1" fill="#ff6600" stroke="none"/>
<circle cx="331.7" cy="811" r="6.1" fill="#ff6600" stroke="none"/>
<circle cx="349.6" cy="811.5" r="6.1" fill="#ff6600" stroke="none"/>
<circle cx="367.5" cy="811.5" r="6.1" fill="#ff6600" stroke="none"/>
<circle cx="385.4" cy="808.4" r="6.1" fill="#ff6600" stroke="none"/>
<circle cx="403.2" cy="804.6" r="6.1" fill="#ff6600" stroke="none"/>
<circle cx="421.1" cy="802.3" r="6.1" fill="#ff6600" stroke="none"/>
<circle cx="439" cy="794.2" r="6.1" fill="#ff6600" stroke="none"/>
<circle cx="456.8" cy="787" r="6.1" fill="#ff6600" stroke="none"/>
<circle cx="474.7" cy="769.7" r="6.1" fill="#ff6600" stroke="none"/>
<circle cx="492.6" cy="753.5" r="6.1" fill="#ff6600" stroke="none"/>
<circle cx="510.4" cy="730.7" r="6.1" fill="#ff6600" stroke="none"/>
<circle cx="81.6" cy="824.5" r="6.1" fill="#000" stroke="none"/>
<circle cx="99.4" cy="824.2" r="6.1" fill="#000" stroke="none"/>
<circle cx="117.3" cy="823.4" r="6.1" fill="#000" stroke="none"/>
<circle cx="135.2" cy="823.1" r="6.1" fill="#000" stroke="none"/>
<circle cx="153" cy="820.8" r="6.1" fill="#000" stroke="none"/>
<circle cx="170.9" cy="820.2" r="6.1" fill="#000" stroke="none"/>
<circle cx="188.8" cy="819.3" r="6.1" fill="#000" stroke="none"/>
<circle cx="206.7" cy="819" r="6.1" fill="#000" stroke="none"/>
<circle cx="224.5" cy="817.3" r="6.1" fill="#000" stroke="none"/>
<circle cx="242.4" cy="816.7" r="6.1" fill="#000" stroke="none"/>
<circle cx="260.3" cy="816.2" r="6.1" fill="#000" stroke="none"/>
<circle cx="278.1" cy="815.3" r="6.1" fill="#000" stroke="none"/>
<circle cx="296" cy="814.7" r="6.1" fill="#000" stroke="none"/>
<circle cx="313.9" cy="814.7" r="6.1" fill="#000" stroke="none"/>
<circle cx="331.7" cy="814.4" r="6.1" fill="#000" stroke="none"/>
<circle cx="349.6" cy="810.4" r="6.1" fill="#000" stroke="none"/>
<circle cx="367.5" cy="808.1" r="6.1" fill="#000" stroke="none"/>
<circle cx="385.4" cy="800.3" r="6.1" fill="#000" stroke="none"/>
<circle cx="403.2" cy="792.2" r="6.1" fill="#000" stroke="none"/>
<circle cx="421.1" cy="769.7" r="6.1" fill="#000" stroke="none"/>
<circle cx="439" cy="748.6" r="6.1" fill="#000" stroke="none"/>
<circle cx="456.8" cy="711.9" r="6.1" fill="#000" stroke="none"/>
<circle cx="474.7" cy="664" r="6.1" fill="#000" stroke="none"/>
<circle cx="492.6" cy="633.1" r="6.1" fill="#000" stroke="none"/>
<circle cx="510.4" cy="569" r="6.1" fill="#000" stroke="none"/>
<circle cx="81.6" cy="818.8" r="6.1" fill="#9e9ea2" stroke="none"/>
<circle cx="99.4" cy="818.2" r="6.1" fill="#9e9ea2" stroke="none"/>
<circle cx="117.3" cy="818.2" r="6.1" fill="#9e9ea2" stroke="none"/>
<circle cx="135.2" cy="818.2" r="6.1" fill="#9e9ea2" stroke="none"/>
<circle cx="153" cy="818.2" r="6.1" fill="#9e9ea2" stroke="none"/>
<circle cx="170.9" cy="815.9" r="6.1" fill="#9e9ea2" stroke="none"/>
<circle cx="188.8" cy="815.9" r="6.1" fill="#9e9ea2" stroke="none"/>
<circle cx="206.7" cy="815.9" r="6.1" fill="#9e9ea2" stroke="none"/>
<circle cx="224.5" cy="815.9" r="6.1" fill="#9e9ea2" stroke="none"/>
<circle cx="242.4" cy="815.6" r="6.1" fill="#9e9ea2" stroke="none"/>
<circle cx="260.3" cy="815.6" r="6.1" fill="#9e9ea2" stroke="none"/>
<circle cx="278.1" cy="815.6" r="6.1" fill="#9e9ea2" stroke="none"/>
<circle cx="296" cy="815.3" r="6.1" fill="#9e9ea2" stroke="none"/>
<circle cx="313.9" cy="815.3" r="6.1" fill="#9e9ea2" stroke="none"/>
<circle cx="331.7" cy="815.3" r="6.1" fill="#9e9ea2" stroke="none"/>
<circle cx="349.6" cy="815.3" r="6.1" fill="#9e9ea2" stroke="none"/>
<circle cx="367.5" cy="815.3" r="6.1" fill="#9e9ea2" stroke="none"/>
<circle cx="385.4" cy="814.7" r="6.1" fill="#9e9ea2" stroke="none"/>
<circle cx="403.2" cy="814.4" r="6.1" fill="#9e9ea2" stroke="none"/>
<circle cx="421.1" cy="814.4" r="6.1" fill="#9e9ea2" stroke="none"/>
<circle cx="439" cy="812.4" r="6.1" fill="#9e9ea2" stroke="none"/>
<circle cx="456.8" cy="811" r="6.1" fill="#9e9ea2" stroke="none"/>
<circle cx="474.7" cy="806.6" r="6.1" fill="#9e9ea2" stroke="none"/>
<circle cx="492.6" cy="802.6" r="6.1" fill="#9e9ea2" stroke="none"/>
<circle cx="510.4" cy="799.7" r="6.1" fill="#9e9ea2" stroke="none"/>
<circle cx="311" cy="564.1" r="6" fill="#8e8e8e" stroke="none"/>
<text x="343" y="572.8" font-size="24" textLength="56.6">Basal</text>
<circle cx="311" cy="595.8" r="6" fill="#000" stroke="none"/>
<text x="343" y="605.2" font-size="24" textLength="114.8">P1 (buffer)</text>
<circle cx="311" cy="628.2" r="6" fill="#ff6600" stroke="none"/>
<text x="343" y="637.6" font-size="24" textLength="114.8">P2 (buffer)</text>
<line x1="783.4" y1="546" x2="783.4" y2="832.3" stroke-width="1.5" stroke="#1c1c1c"/>
<line x1="567.7" y1="818.8" x2="998" y2="818.8" stroke-width="1.5" stroke="#1c1c1c"/>
<line x1="774.7" y1="750.8" x2="783.4" y2="750.8" stroke-width="1.5" stroke="#1c1c1c"/>
<text x="772.8" y="759" font-size="24" text-anchor="end">500</text>
<line x1="774.7" y1="682.8" x2="783.4" y2="682.8" stroke-width="1.5" stroke="#1c1c1c"/>
<text x="772.8" y="691" font-size="24" text-anchor="end">1000</text>
<line x1="774.7" y1="614.8" x2="783.4" y2="614.8" stroke-width="1.5" stroke="#1c1c1c"/>
<text x="772.8" y="623" font-size="24" text-anchor="end">1500</text>
<line x1="774.7" y1="546.8" x2="783.4" y2="546.8" stroke-width="1.5" stroke="#1c1c1c"/>
<text x="772.8" y="555" font-size="24" text-anchor="end">2000</text>
<line x1="604.4" y1="818.8" x2="604.4" y2="827.3" stroke-width="1.5" stroke="#1c1c1c"/>
<text x="604.1" y="853" font-size="24" text-anchor="middle">-100</text>
<line x1="693.9" y1="818.8" x2="693.9" y2="827.3" stroke-width="1.5" stroke="#1c1c1c"/>
<text x="693.6" y="853" font-size="24" text-anchor="middle">-50</text>
<line x1="872.9" y1="818.8" x2="872.9" y2="827.3" stroke-width="1.5" stroke="#1c1c1c"/>
<text x="872.6" y="853" font-size="24" text-anchor="middle">50</text>
<line x1="962.4" y1="818.8" x2="962.4" y2="827.3" stroke-width="1.5" stroke="#1c1c1c"/>
<text x="962.1" y="853" font-size="24" text-anchor="middle">100</text>
<text x="783.4" y="880" font-size="24" text-anchor="middle">V (mV)</text>
<text font-size="24" text-anchor="middle" transform="translate(692.6 688.3) rotate(-90)">I (pA)</text>
<text x="783.1" y="511.2" font-size="27.6" text-anchor="middle" font-weight="bold">AG1529</text>
<circle cx="568.6" cy="830.1" r="6.1" fill="#0a3fe0" stroke="none"/>
<circle cx="586.5" cy="828.9" r="6.1" fill="#0a3fe0" stroke="none"/>
<circle cx="604.4" cy="828.3" r="6.1" fill="#0a3fe0" stroke="none"/>
<circle cx="622.3" cy="826" r="6.1" fill="#0a3fe0" stroke="none"/>
<circle cx="640.2" cy="824.9" r="6.1" fill="#0a3fe0" stroke="none"/>
<circle cx="658.1" cy="825.4" r="6.1" fill="#0a3fe0" stroke="none"/>
<circle cx="676" cy="824.9" r="6.1" fill="#0a3fe0" stroke="none"/>
<circle cx="693.9" cy="824" r="6.1" fill="#0a3fe0" stroke="none"/>
<circle cx="711.8" cy="823.1" r="6.1" fill="#0a3fe0" stroke="none"/>
<circle cx="729.7" cy="821.4" r="6.1" fill="#0a3fe0" stroke="none"/>
<circle cx="747.6" cy="820.8" r="6.1" fill="#0a3fe0" stroke="none"/>
<circle cx="765.5" cy="820.2" r="6.1" fill="#0a3fe0" stroke="none"/>
<circle cx="783.4" cy="818.8" r="6.1" fill="#0a3fe0" stroke="none"/>
<circle cx="801.3" cy="816.2" r="6.1" fill="#0a3fe0" stroke="none"/>
<circle cx="819.2" cy="814.5" r="6.1" fill="#0a3fe0" stroke="none"/>
<circle cx="837.1" cy="814.5" r="6.1" fill="#0a3fe0" stroke="none"/>
<circle cx="855" cy="813.9" r="6.1" fill="#0a3fe0" stroke="none"/>
<circle cx="872.9" cy="812.4" r="6.1" fill="#0a3fe0" stroke="none"/>
<circle cx="890.8" cy="804.6" r="6.1" fill="#0a3fe0" stroke="none"/>
<circle cx="908.7" cy="800.3" r="6.1" fill="#0a3fe0" stroke="none"/>
<circle cx="926.6" cy="793.7" r="6.1" fill="#0a3fe0" stroke="none"/>
<circle cx="944.5" cy="782.7" r="6.1" fill="#0a3fe0" stroke="none"/>
<circle cx="962.4" cy="768.2" r="6.1" fill="#0a3fe0" stroke="none"/>
<circle cx="980.3" cy="751.2" r="6.1" fill="#0a3fe0" stroke="none"/>
<circle cx="998.2" cy="730.7" r="6.1" fill="#0a3fe0" stroke="none"/>
<circle cx="568.6" cy="828.9" r="6.1" fill="#000" stroke="none"/>
<circle cx="586.5" cy="828.3" r="6.1" fill="#000" stroke="none"/>
<circle cx="604.4" cy="827.5" r="6.1" fill="#000" stroke="none"/>
<circle cx="622.3" cy="825.4" r="6.1" fill="#000" stroke="none"/>
<circle cx="640.2" cy="824.9" r="6.1" fill="#000" stroke="none"/>
<circle cx="658.1" cy="824.3" r="6.1" fill="#000" stroke="none"/>
<circle cx="676" cy="824" r="6.1" fill="#000" stroke="none"/>
<circle cx="693.9" cy="823.4" r="6.1" fill="#000" stroke="none"/>
<circle cx="711.8" cy="822.5" r="6.1" fill="#000" stroke="none"/>
<circle cx="729.7" cy="821.1" r="6.1" fill="#000" stroke="none"/>
<circle cx="747.6" cy="820.5" r="6.1" fill="#000" stroke="none"/>
<circle cx="765.5" cy="820.2" r="6.1" fill="#000" stroke="none"/>
<circle cx="783.4" cy="818.8" r="6.1" fill="#000" stroke="none"/>
<circle cx="801.3" cy="816.8" r="6.1" fill="#000" stroke="none"/>
<circle cx="819.2" cy="815.6" r="6.1" fill="#000" stroke="none"/>
<circle cx="837.1" cy="812.7" r="6.1" fill="#000" stroke="none"/>
<circle cx="855" cy="810.1" r="6.1" fill="#000" stroke="none"/>
<circle cx="872.9" cy="809.8" r="6.1" fill="#000" stroke="none"/>
<circle cx="890.8" cy="798.3" r="6.1" fill="#000" stroke="none"/>
<circle cx="908.7" cy="784.4" r="6.1" fill="#000" stroke="none"/>
<circle cx="926.6" cy="770" r="6.1" fill="#000" stroke="none"/>
<circle cx="944.5" cy="728.7" r="6.1" fill="#000" stroke="none"/>
<circle cx="962.4" cy="710.8" r="6.1" fill="#000" stroke="none"/>
<circle cx="980.3" cy="666" r="6.1" fill="#000" stroke="none"/>
<circle cx="998.2" cy="644.4" r="6.1" fill="#000" stroke="none"/>
<circle cx="568.6" cy="823.1" r="6.1" fill="#9e9ea2" stroke="none"/>
<circle cx="586.5" cy="822.5" r="6.1" fill="#9e9ea2" stroke="none"/>
<circle cx="604.4" cy="822.5" r="6.1" fill="#9e9ea2" stroke="none"/>
<circle cx="622.3" cy="822" r="6.1" fill="#9e9ea2" stroke="none"/>
<circle cx="640.2" cy="821.7" r="6.1" fill="#9e9ea2" stroke="none"/>
<circle cx="658.1" cy="820.8" r="6.1" fill="#9e9ea2" stroke="none"/>
<circle cx="676" cy="820.5" r="6.1" fill="#9e9ea2" stroke="none"/>
<circle cx="693.9" cy="820.2" r="6.1" fill="#9e9ea2" stroke="none"/>
<circle cx="711.8" cy="819.9" r="6.1" fill="#9e9ea2" stroke="none"/>
<circle cx="729.7" cy="819.7" r="6.1" fill="#9e9ea2" stroke="none"/>
<circle cx="747.6" cy="819.4" r="6.1" fill="#9e9ea2" stroke="none"/>
<circle cx="765.5" cy="819.1" r="6.1" fill="#9e9ea2" stroke="none"/>
<circle cx="783.4" cy="818.8" r="6.1" fill="#9e9ea2" stroke="none"/>
<circle cx="801.3" cy="818.2" r="6.1" fill="#9e9ea2" stroke="none"/>
<circle cx="819.2" cy="817.6" r="6.1" fill="#9e9ea2" stroke="none"/>
<circle cx="837.1" cy="817.3" r="6.1" fill="#9e9ea2" stroke="none"/>
<circle cx="855" cy="817.3" r="6.1" fill="#9e9ea2" stroke="none"/>
<circle cx="872.9" cy="816.8" r="6.1" fill="#9e9ea2" stroke="none"/>
<circle cx="890.8" cy="815.6" r="6.1" fill="#9e9ea2" stroke="none"/>
<circle cx="908.7" cy="814.5" r="6.1" fill="#9e9ea2" stroke="none"/>
<circle cx="926.6" cy="813.3" r="6.1" fill="#9e9ea2" stroke="none"/>
<circle cx="944.5" cy="813.3" r="6.1" fill="#9e9ea2" stroke="none"/>
<circle cx="962.4" cy="812.7" r="6.1" fill="#9e9ea2" stroke="none"/>
<circle cx="980.3" cy="811.9" r="6.1" fill="#9e9ea2" stroke="none"/>
<circle cx="998.2" cy="811.6" r="6.1" fill="#9e9ea2" stroke="none"/>
<circle cx="798.7" cy="568.4" r="6" fill="#8e8e8e" stroke="none"/>
<text x="830" y="577.1" font-size="24" textLength="57.8">Basal</text>
<circle cx="798.7" cy="600.2" r="6" fill="#000" stroke="none"/>
<text x="830" y="609.6" font-size="24" textLength="114.8">P1 (buffer)</text>
<circle cx="798.7" cy="634.8" r="6" fill="#0a3fe0" stroke="none"/>
<text x="831.5" y="644.2" font-size="24" textLength="136.8">P2 (AG1529)</text>
<line x1="1264.1" y1="544.8" x2="1264.1" y2="831.9" stroke-width="1.5" stroke="#1c1c1c"/>
<line x1="1048.9" y1="818.4" x2="1479.4" y2="818.4" stroke-width="1.5" stroke="#1c1c1c"/>
<line x1="1255.4" y1="750.2" x2="1264.1" y2="750.2" stroke-width="1.5" stroke="#1c1c1c"/>
<text x="1253.5" y="758.4" font-size="24" text-anchor="end">500</text>
<line x1="1255.4" y1="682" x2="1264.1" y2="682" stroke-width="1.5" stroke="#1c1c1c"/>
<text x="1253.5" y="690.2" font-size="24" text-anchor="end">1000</text>
<line x1="1255.4" y1="613.8" x2="1264.1" y2="613.8" stroke-width="1.5" stroke="#1c1c1c"/>
<text x="1253.5" y="622" font-size="24" text-anchor="end">1500</text>
<line x1="1255.4" y1="545.6" x2="1264.1" y2="545.6" stroke-width="1.5" stroke="#1c1c1c"/>
<text x="1253.5" y="553.8" font-size="24" text-anchor="end">2000</text>
<line x1="1085.5" y1="818.4" x2="1085.5" y2="826.9" stroke-width="1.5" stroke="#1c1c1c"/>
<text x="1085.2" y="851.5" font-size="24" text-anchor="middle">-100</text>
<line x1="1174.8" y1="818.4" x2="1174.8" y2="826.9" stroke-width="1.5" stroke="#1c1c1c"/>
<text x="1174.5" y="851.5" font-size="24" text-anchor="middle">-50</text>
<line x1="1353.4" y1="818.4" x2="1353.4" y2="826.9" stroke-width="1.5" stroke="#1c1c1c"/>
<text x="1353.1" y="851.5" font-size="24" text-anchor="middle">50</text>
<line x1="1442.7" y1="818.4" x2="1442.7" y2="826.9" stroke-width="1.5" stroke="#1c1c1c"/>
<text x="1442.4" y="851.5" font-size="24" text-anchor="middle">100</text>
<text x="1264.1" y="879.1" font-size="24" text-anchor="middle">V (mV)</text>
<text font-size="24" text-anchor="middle" transform="translate(1173.3 687.9) rotate(-90)">I (pA)</text>
<text x="1264.8" y="510.7" font-size="27" text-anchor="middle" font-weight="bold">CPZ</text>
<circle cx="1049.8" cy="829.1" r="6.1" fill="#008200" stroke="none"/>
<circle cx="1067.6" cy="828.2" r="6.1" fill="#008200" stroke="none"/>
<circle cx="1085.5" cy="826.7" r="6.1" fill="#008200" stroke="none"/>
<circle cx="1103.4" cy="825.3" r="6.1" fill="#008200" stroke="none"/>
<circle cx="1121.2" cy="824.7" r="6.1" fill="#008200" stroke="none"/>
<circle cx="1139.1" cy="824.4" r="6.1" fill="#008200" stroke="none"/>
<circle cx="1156.9" cy="824.1" r="6.1" fill="#008200" stroke="none"/>
<circle cx="1174.8" cy="823" r="6.1" fill="#008200" stroke="none"/>
<circle cx="1192.7" cy="821.3" r="6.1" fill="#008200" stroke="none"/>
<circle cx="1210.5" cy="820.4" r="6.1" fill="#008200" stroke="none"/>
<circle cx="1228.4" cy="819.8" r="6.1" fill="#008200" stroke="none"/>
<circle cx="1246.2" cy="819.2" r="6.1" fill="#008200" stroke="none"/>
<circle cx="1264.1" cy="819.2" r="6.1" fill="#008200" stroke="none"/>
<circle cx="1282" cy="818.4" r="6.1" fill="#008200" stroke="none"/>
<circle cx="1299.8" cy="817.5" r="6.1" fill="#008200" stroke="none"/>
<circle cx="1317.7" cy="816.3" r="6.1" fill="#008200" stroke="none"/>
<circle cx="1335.5" cy="812.6" r="6.1" fill="#008200" stroke="none"/>
<circle cx="1353.4" cy="809.1" r="6.1" fill="#008200" stroke="none"/>
<circle cx="1371.3" cy="803.9" r="6.1" fill="#008200" stroke="none"/>
<circle cx="1389.1" cy="801" r="6.1" fill="#008200" stroke="none"/>
<circle cx="1407" cy="792.4" r="6.1" fill="#008200" stroke="none"/>
<circle cx="1424.8" cy="787.2" r="6.1" fill="#008200" stroke="none"/>
<circle cx="1442.7" cy="774.5" r="6.1" fill="#008200" stroke="none"/>
<circle cx="1460.6" cy="757.1" r="6.1" fill="#008200" stroke="none"/>
<circle cx="1478.4" cy="727.9" r="6.1" fill="#008200" stroke="none"/>
<circle cx="1049.8" cy="829.3" r="6.1" fill="#000" stroke="none"/>
<circle cx="1067.6" cy="828.5" r="6.1" fill="#000" stroke="none"/>
<circle cx="1085.5" cy="827" r="6.1" fill="#000" stroke="none"/>
<circle cx="1103.4" cy="825.6" r="6.1" fill="#000" stroke="none"/>
<circle cx="1121.2" cy="825" r="6.1" fill="#000" stroke="none"/>
<circle cx="1139.1" cy="824.7" r="6.1" fill="#000" stroke="none"/>
<circle cx="1156.9" cy="824.4" r="6.1" fill="#000" stroke="none"/>
<circle cx="1174.8" cy="823.3" r="6.1" fill="#000" stroke="none"/>
<circle cx="1192.7" cy="821.3" r="6.1" fill="#000" stroke="none"/>
<circle cx="1210.5" cy="820.4" r="6.1" fill="#000" stroke="none"/>
<circle cx="1228.4" cy="819.8" r="6.1" fill="#000" stroke="none"/>
<circle cx="1246.2" cy="818.9" r="6.1" fill="#000" stroke="none"/>
<circle cx="1264.1" cy="818.4" r="6.1" fill="#000" stroke="none"/>
<circle cx="1282" cy="816.3" r="6.1" fill="#000" stroke="none"/>
<circle cx="1299.8" cy="814.6" r="6.1" fill="#000" stroke="none"/>
<circle cx="1317.7" cy="811.1" r="6.1" fill="#000" stroke="none"/>
<circle cx="1335.5" cy="805.4" r="6.1" fill="#000" stroke="none"/>
<circle cx="1353.4" cy="797.6" r="6.1" fill="#000" stroke="none"/>
<circle cx="1371.3" cy="790.9" r="6.1" fill="#000" stroke="none"/>
<circle cx="1389.1" cy="771.6" r="6.1" fill="#000" stroke="none"/>
<circle cx="1407" cy="755.4" r="6.1" fill="#000" stroke="none"/>
<circle cx="1424.8" cy="729.7" r="6.1" fill="#000" stroke="none"/>
<circle cx="1442.7" cy="689.8" r="6.1" fill="#000" stroke="none"/>
<circle cx="1460.6" cy="643.6" r="6.1" fill="#000" stroke="none"/>
<circle cx="1478.4" cy="597.3" r="6.1" fill="#000" stroke="none"/>
<circle cx="1049.8" cy="825" r="6.1" fill="#848484" stroke="none"/>
<circle cx="1067.6" cy="825" r="6.1" fill="#848484" stroke="none"/>
<circle cx="1085.5" cy="824.1" r="6.1" fill="#848484" stroke="none"/>
<circle cx="1103.4" cy="823.6" r="6.1" fill="#848484" stroke="none"/>
<circle cx="1121.2" cy="823.3" r="6.1" fill="#848484" stroke="none"/>
<circle cx="1139.1" cy="822.7" r="6.1" fill="#848484" stroke="none"/>
<circle cx="1156.9" cy="821.8" r="6.1" fill="#848484" stroke="none"/>
<circle cx="1174.8" cy="821" r="6.1" fill="#848484" stroke="none"/>
<circle cx="1192.7" cy="820.4" r="6.1" fill="#848484" stroke="none"/>
<circle cx="1210.5" cy="819.8" r="6.1" fill="#848484" stroke="none"/>
<circle cx="1228.4" cy="818.9" r="6.1" fill="#848484" stroke="none"/>
<circle cx="1246.2" cy="818.7" r="6.1" fill="#848484" stroke="none"/>
<circle cx="1264.1" cy="818.4" r="6.1" fill="#848484" stroke="none"/>
<circle cx="1282" cy="816.3" r="6.1" fill="#848484" stroke="none"/>
<circle cx="1299.8" cy="813.5" r="6.1" fill="#848484" stroke="none"/>
<circle cx="1317.7" cy="814" r="6.1" fill="#848484" stroke="none"/>
<circle cx="1335.5" cy="813.2" r="6.1" fill="#848484" stroke="none"/>
<circle cx="1353.4" cy="811.1" r="6.1" fill="#848484" stroke="none"/>
<circle cx="1371.3" cy="809.7" r="6.1" fill="#848484" stroke="none"/>
<circle cx="1389.1" cy="808.5" r="6.1" fill="#848484" stroke="none"/>
<circle cx="1407" cy="803.9" r="6.1" fill="#848484" stroke="none"/>
<circle cx="1424.8" cy="801.6" r="6.1" fill="#848484" stroke="none"/>
<circle cx="1442.7" cy="800.2" r="6.1" fill="#848484" stroke="none"/>
<circle cx="1460.6" cy="792.1" r="6.1" fill="#848484" stroke="none"/>
<circle cx="1478.4" cy="779.7" r="6.1" fill="#848484" stroke="none"/>
<circle cx="1279.2" cy="567" r="6" fill="#8c8c8c" stroke="none"/>
<text x="1311.6" y="575.7" font-size="24" textLength="57">Basal</text>
<circle cx="1279.2" cy="598.8" r="6" fill="#000" stroke="none"/>
<text x="1311.6" y="608.2" font-size="24" textLength="114.8">P1 (buffer)</text>
<circle cx="1279.2" cy="632" r="6" fill="#008200" stroke="none"/>
<text x="1311.6" y="641.4" font-size="24">P2 (CPZ)</text>
<line x1="1740.3" y1="544.7" x2="1740.3" y2="831.7" stroke-width="1.5" stroke="#1c1c1c"/>
<line x1="1525.4" y1="818.2" x2="1955.4" y2="818.2" stroke-width="1.5" stroke="#1c1c1c"/>
<line x1="1731.6" y1="750" x2="1740.3" y2="750" stroke-width="1.5" stroke="#1c1c1c"/>
<text x="1729.7" y="758.2" font-size="24" text-anchor="end">500</text>
<line x1="1731.6" y1="681.8" x2="1740.3" y2="681.8" stroke-width="1.5" stroke="#1c1c1c"/>
<text x="1729.7" y="690" font-size="24" text-anchor="end">1000</text>
<line x1="1731.6" y1="613.6" x2="1740.3" y2="613.6" stroke-width="1.5" stroke="#1c1c1c"/>
<text x="1729.7" y="621.8" font-size="24" text-anchor="end">1500</text>
<line x1="1731.6" y1="545.4" x2="1740.3" y2="545.4" stroke-width="1.5" stroke="#1c1c1c"/>
<text x="1729.7" y="553.6" font-size="24" text-anchor="end">2000</text>
<line x1="1561.7" y1="818.2" x2="1561.7" y2="826.7" stroke-width="1.5" stroke="#1c1c1c"/>
<text x="1561.4" y="851.8" font-size="24" text-anchor="middle">-100</text>
<line x1="1651" y1="818.2" x2="1651" y2="826.7" stroke-width="1.5" stroke="#1c1c1c"/>
<text x="1650.7" y="851.8" font-size="24" text-anchor="middle">-50</text>
<line x1="1829.6" y1="818.2" x2="1829.6" y2="826.7" stroke-width="1.5" stroke="#1c1c1c"/>
<text x="1829.3" y="851.8" font-size="24" text-anchor="middle">50</text>
<line x1="1918.9" y1="818.2" x2="1918.9" y2="826.7" stroke-width="1.5" stroke="#1c1c1c"/>
<text x="1918.6" y="851.8" font-size="24" text-anchor="middle">100</text>
<text x="1740.3" y="878.8" font-size="24" text-anchor="middle">V (mV)</text>
<text font-size="24" text-anchor="middle" transform="translate(1648.5 687.7) rotate(-90)">I (pA)</text>
<text x="1741.2" y="510.6" font-size="28.2" text-anchor="middle" font-weight="bold">BCTC</text>
<circle cx="1526" cy="824.3" r="6.1" fill="#ff0000" stroke="none"/>
<circle cx="1543.8" cy="824.3" r="6.1" fill="#ff0000" stroke="none"/>
<circle cx="1561.7" cy="823.7" r="6.1" fill="#ff0000" stroke="none"/>
<circle cx="1579.6" cy="822.5" r="6.1" fill="#ff0000" stroke="none"/>
<circle cx="1597.4" cy="821.1" r="6.1" fill="#ff0000" stroke="none"/>
<circle cx="1615.3" cy="820.5" r="6.1" fill="#ff0000" stroke="none"/>
<circle cx="1633.1" cy="820.2" r="6.1" fill="#ff0000" stroke="none"/>
<circle cx="1651" cy="819.6" r="6.1" fill="#ff0000" stroke="none"/>
<circle cx="1668.9" cy="819.1" r="6.1" fill="#ff0000" stroke="none"/>
<circle cx="1686.7" cy="817.9" r="6.1" fill="#ff0000" stroke="none"/>
<circle cx="1704.6" cy="817.3" r="6.1" fill="#ff0000" stroke="none"/>
<circle cx="1722.4" cy="818.5" r="6.1" fill="#ff0000" stroke="none"/>
<circle cx="1740.3" cy="817.9" r="6.1" fill="#ff0000" stroke="none"/>
<circle cx="1758.2" cy="816.7" r="6.1" fill="#ff0000" stroke="none"/>
<circle cx="1776" cy="816.2" r="6.1" fill="#ff0000" stroke="none"/>
<circle cx="1793.9" cy="815" r="6.1" fill="#ff0000" stroke="none"/>
<circle cx="1811.7" cy="812.4" r="6.1" fill="#ff0000" stroke="none"/>
<circle cx="1829.6" cy="810.4" r="6.1" fill="#ff0000" stroke="none"/>
<circle cx="1847.5" cy="808.1" r="6.1" fill="#ff0000" stroke="none"/>
<circle cx="1865.3" cy="808.1" r="6.1" fill="#ff0000" stroke="none"/>
<circle cx="1883.2" cy="797.7" r="6.1" fill="#ff0000" stroke="none"/>
<circle cx="1901" cy="789" r="6.1" fill="#ff0000" stroke="none"/>
<circle cx="1918.9" cy="782.7" r="6.1" fill="#ff0000" stroke="none"/>
<circle cx="1936.8" cy="773.4" r="6.1" fill="#ff0000" stroke="none"/>
<circle cx="1954.6" cy="758.1" r="6.1" fill="#ff0000" stroke="none"/>
<circle cx="1526" cy="828.3" r="6.1" fill="#000" stroke="none"/>
<circle cx="1543.8" cy="828.3" r="6.1" fill="#000" stroke="none"/>
<circle cx="1561.7" cy="826.3" r="6.1" fill="#000" stroke="none"/>
<circle cx="1579.6" cy="825.4" r="6.1" fill="#000" stroke="none"/>
<circle cx="1597.4" cy="824.8" r="6.1" fill="#000" stroke="none"/>
<circle cx="1615.3" cy="824.3" r="6.1" fill="#000" stroke="none"/>
<circle cx="1633.1" cy="823.4" r="6.1" fill="#000" stroke="none"/>
<circle cx="1651" cy="823.4" r="6.1" fill="#000" stroke="none"/>
<circle cx="1668.9" cy="821.1" r="6.1" fill="#000" stroke="none"/>
<circle cx="1686.7" cy="820.2" r="6.1" fill="#000" stroke="none"/>
<circle cx="1704.6" cy="819.1" r="6.1" fill="#000" stroke="none"/>
<circle cx="1722.4" cy="818.5" r="6.1" fill="#000" stroke="none"/>
<circle cx="1740.3" cy="816.7" r="6.1" fill="#000" stroke="none"/>
<circle cx="1758.2" cy="814.4" r="6.1" fill="#000" stroke="none"/>
<circle cx="1776" cy="811" r="6.1" fill="#000" stroke="none"/>
<circle cx="1793.9" cy="808.1" r="6.1" fill="#000" stroke="none"/>
<circle cx="1811.7" cy="804.3" r="6.1" fill="#000" stroke="none"/>
<circle cx="1829.6" cy="797.4" r="6.1" fill="#000" stroke="none"/>
<circle cx="1847.5" cy="788.4" r="6.1" fill="#000" stroke="none"/>
<circle cx="1865.3" cy="759.6" r="6.1" fill="#000" stroke="none"/>
<circle cx="1883.2" cy="735.9" r="6.1" fill="#000" stroke="none"/>
<circle cx="1901" cy="724.3" r="6.1" fill="#000" stroke="none"/>
<circle cx="1918.9" cy="685.6" r="6.1" fill="#000" stroke="none"/>
<circle cx="1936.8" cy="655" r="6.1" fill="#000" stroke="none"/>
<circle cx="1954.6" cy="608" r="6.1" fill="#000" stroke="none"/>
<circle cx="1526" cy="824" r="6.1" fill="#828282" stroke="none"/>
<circle cx="1543.8" cy="823.4" r="6.1" fill="#828282" stroke="none"/>
<circle cx="1561.7" cy="823.4" r="6.1" fill="#828282" stroke="none"/>
<circle cx="1579.6" cy="821.1" r="6.1" fill="#828282" stroke="none"/>
<circle cx="1597.4" cy="820.5" r="6.1" fill="#828282" stroke="none"/>
<circle cx="1615.3" cy="820.2" r="6.1" fill="#828282" stroke="none"/>
<circle cx="1633.1" cy="819.6" r="6.1" fill="#828282" stroke="none"/>
<circle cx="1651" cy="819.1" r="6.1" fill="#828282" stroke="none"/>
<circle cx="1668.9" cy="819.1" r="6.1" fill="#828282" stroke="none"/>
<circle cx="1686.7" cy="818.8" r="6.1" fill="#828282" stroke="none"/>
<circle cx="1704.6" cy="818.8" r="6.1" fill="#828282" stroke="none"/>
<circle cx="1722.4" cy="818.2" r="6.1" fill="#828282" stroke="none"/>
<circle cx="1740.3" cy="817.3" r="6.1" fill="#828282" stroke="none"/>
<circle cx="1758.2" cy="817.3" r="6.1" fill="#828282" stroke="none"/>
<circle cx="1776" cy="817.3" r="6.1" fill="#828282" stroke="none"/>
<circle cx="1793.9" cy="816.7" r="6.1" fill="#828282" stroke="none"/>
<circle cx="1811.7" cy="815.9" r="6.1" fill="#828282" stroke="none"/>
<circle cx="1829.6" cy="815.3" r="6.1" fill="#828282" stroke="none"/>
<circle cx="1847.5" cy="813" r="6.1" fill="#828282" stroke="none"/>
<circle cx="1865.3" cy="812.4" r="6.1" fill="#828282" stroke="none"/>
<circle cx="1883.2" cy="810.7" r="6.1" fill="#828282" stroke="none"/>
<circle cx="1901" cy="809.2" r="6.1" fill="#828282" stroke="none"/>
<circle cx="1918.9" cy="803.7" r="6.1" fill="#828282" stroke="none"/>
<circle cx="1936.8" cy="801.4" r="6.1" fill="#828282" stroke="none"/>
<circle cx="1954.6" cy="792.2" r="6.1" fill="#828282" stroke="none"/>
<circle cx="1755.6" cy="567" r="6" fill="#8c8c8c" stroke="none"/>
<text x="1787.6" y="575.7" font-size="24" textLength="56.6">Basal</text>
<circle cx="1755.6" cy="598.7" r="6" fill="#000" stroke="none"/>
<text x="1787.6" y="608.1" font-size="24" textLength="113.2">P1 (buffer)</text>
<circle cx="1754.2" cy="632.6" r="6" fill="#ff0000" stroke="none"/>
<text x="1787.6" y="641.4" font-size="24" textLength="114.8">P2 (BCTC)</text>
<!-- panelE -->
<text x="21.6" y="988.8" font-size="48">E</text>
<line x1="174.3" y1="1095.5" x2="174.3" y2="1408.7" stroke-width="1.4" stroke="#3a3a3a"/>
<line x1="166.1" y1="1408" x2="675.9" y2="1408" stroke-width="1.4" stroke="#3a3a3a"/>
<line x1="166.1" y1="1408" x2="174.3" y2="1408" stroke-width="1.4" stroke="#3a3a3a"/>
<text x="162.4" y="1416.6" font-size="26" text-anchor="end">0</text>
<line x1="166.1" y1="1345.6" x2="174.3" y2="1345.6" stroke-width="1.4" stroke="#3a3a3a"/>
<text x="162.4" y="1354.2" font-size="26" text-anchor="end">50</text>
<line x1="166.1" y1="1283.3" x2="174.3" y2="1283.3" stroke-width="1.4" stroke="#3a3a3a"/>
<text x="162.4" y="1291.9" font-size="26" text-anchor="end">100</text>
<line x1="166.1" y1="1220.9" x2="174.3" y2="1220.9" stroke-width="1.4" stroke="#3a3a3a"/>
<text x="162.4" y="1229.5" font-size="26" text-anchor="end">150</text>
<line x1="166.1" y1="1158.6" x2="174.3" y2="1158.6" stroke-width="1.4" stroke="#3a3a3a"/>
<text x="162.4" y="1167.2" font-size="26" text-anchor="end">200</text>
<line x1="166.1" y1="1096.2" x2="174.3" y2="1096.2" stroke-width="1.4" stroke="#3a3a3a"/>
<text x="162.4" y="1104.8" font-size="26" text-anchor="end">250</text>
<line x1="236.7" y1="1408" x2="236.7" y2="1416.5" stroke-width="1.4" stroke="#3a3a3a"/>
<line x1="361.8" y1="1408" x2="361.8" y2="1416.5" stroke-width="1.4" stroke="#3a3a3a"/>
<line x1="486.9" y1="1408" x2="486.9" y2="1416.5" stroke-width="1.4" stroke="#3a3a3a"/>
<line x1="612.3" y1="1408" x2="612.3" y2="1416.5" stroke-width="1.4" stroke="#3a3a3a"/>
<text x="233.4" y="1442.7" font-size="26" text-anchor="middle">Control</text>
<text x="358.4" y="1442.7" font-size="26" text-anchor="middle">AG1529</text>
<text x="361.8" y="1472.4" font-size="26" text-anchor="middle">10<tspan font-family="Liberation Serif, serif">μ</tspan>M</text>
<text x="487.5" y="1442.7" font-size="26" text-anchor="middle">CPZ</text>
<text x="488" y="1472.4" font-size="26" text-anchor="middle">10<tspan font-family="Liberation Serif, serif">μ</tspan>M</text>
<text x="612.9" y="1442.7" font-size="26" text-anchor="middle">BCTC</text>
<text x="616.7" y="1472.4" font-size="26" text-anchor="middle">1nM</text>
<text font-size="29.4" text-anchor="middle" transform="translate(57 1251.8) rotate(-90)">% heat-elicited hTRPV1</text>
<text font-size="29.1" text-anchor="middle" transform="translate(93.2 1249.7) rotate(-90)">remaining current</text>
<text x="423" y="1069.5" font-size="26" text-anchor="middle">p=0.047</text>
<path d="M231.9 1088.8 231.9 1078.3 612.3 1078.3 612.3 1222.4" fill="none" stroke-width="1.5" stroke-linejoin="miter" stroke="#000"/>
<circle cx="236.7" cy="1188.5" r="6.3" fill="#000" stroke="none"/>
<circle cx="236.7" cy="1235.7" r="6.3" fill="#000" stroke="none"/>
<circle cx="227.4" cy="1262.8" r="6.3" fill="#000" stroke="none"/>
<circle cx="246" cy="1276.1" r="6.3" fill="#000" stroke="none"/>
<circle cx="217.8" cy="1278.3" r="6.3" fill="#000" stroke="none"/>
<circle cx="236.7" cy="1295" r="6.3" fill="#000" stroke="none"/>
<circle cx="255.3" cy="1293" r="6.3" fill="#000" stroke="none"/>
<circle cx="227.4" cy="1316.2" r="6.3" fill="#000" stroke="none"/>
<circle cx="246" cy="1331.1" r="6.3" fill="#000" stroke="none"/>
<circle cx="236.7" cy="1356" r="6.3" fill="#000" stroke="none"/>
<path d="M355.3 1103.4 L368.3 1103.4 L361.8 1115.4Z" fill="#0000ff" stroke="none"/>
<path d="M346 1218 L359 1218 L352.5 1230Z" fill="#0000ff" stroke="none"/>
<path d="M364.6 1235.6 L377.6 1235.6 L371.1 1247.6Z" fill="#0000ff" stroke="none"/>
<path d="M355.3 1258.7 L368.3 1258.7 L361.8 1270.7Z" fill="#0000ff" stroke="none"/>
<path d="M355.3 1289.8 L368.3 1289.8 L361.8 1301.8Z" fill="#0000ff" stroke="none"/>
<path d="M383.6 1292 L396.6 1292 L390.1 1304Z" fill="#0000ff" stroke="none"/>
<path d="M327.1 1301.4 L340.1 1301.4 L333.6 1313.4Z" fill="#0000ff" stroke="none"/>
<path d="M364.6 1305.3 L377.6 1305.3 L371.1 1317.3Z" fill="#0000ff" stroke="none"/>
<path d="M346 1310.4 L359 1310.4 L352.5 1322.4Z" fill="#0000ff" stroke="none"/>
<path d="M355.3 1352.8 L368.3 1352.8 L361.8 1364.8Z" fill="#0000ff" stroke="none"/>
<path d="M355.3 1397.4 L368.3 1397.4 L361.8 1409.4Z" fill="#0000ff" stroke="none"/>
<path d="M471 1183.7 L477.6 1177.1 L484.2 1183.7 L477.6 1190.3Z" fill="#00b800" stroke="none"/>
<path d="M489.9 1191.3 L496.5 1184.7 L503.1 1191.3 L496.5 1197.9Z" fill="#00b800" stroke="none"/>
<path d="M480.3 1284.5 L486.9 1277.9 L493.5 1284.5 L486.9 1291.1Z" fill="#00b800" stroke="none"/>
<path d="M461.7 1298.1 L468.3 1291.5 L474.9 1298.1 L468.3 1304.7Z" fill="#00b800" stroke="none"/>
<path d="M499.3 1297.8 L505.9 1291.2 L512.5 1297.8 L505.9 1304.4Z" fill="#00b800" stroke="none"/>
<path d="M480.3 1307.1 L486.9 1300.5 L493.5 1307.1 L486.9 1313.7Z" fill="#00b800" stroke="none"/>
<path d="M489.9 1348.1 L496.5 1341.5 L503.1 1348.1 L496.5 1354.7Z" fill="#00b800" stroke="none"/>
<path d="M471 1365 L477.6 1358.4 L484.2 1365 L477.6 1371.6Z" fill="#00b800" stroke="none"/>
<rect x="596.8" y="1342.4" width="12.4" height="12.4" fill="#ff0000" stroke="none"/>
<rect x="615.5" y="1356.6" width="12.4" height="12.4" fill="#ff0000" stroke="none"/>
<rect x="634.4" y="1367.9" width="12.4" height="12.4" fill="#ff0000" stroke="none"/>
<rect x="578.2" y="1371" width="12.4" height="12.4" fill="#ff0000" stroke="none"/>
<rect x="596.8" y="1375.8" width="12.4" height="12.4" fill="#ff0000" stroke="none"/>
<rect x="615.5" y="1375.8" width="12.4" height="12.4" fill="#ff0000" stroke="none"/>
<line x1="195.2" y1="1283.1" x2="277.9" y2="1283.1" stroke-width="1.8" stroke="#000"/>
<line x1="236.6" y1="1268.2" x2="236.6" y2="1298.7" stroke-width="1.3" stroke="#222"/>
<line x1="215.8" y1="1268.2" x2="257.3" y2="1268.2" stroke-width="1.3" stroke="#222"/>
<line x1="215.8" y1="1298.7" x2="257.3" y2="1298.7" stroke-width="1.3" stroke="#222"/>
<line x1="320.3" y1="1284.5" x2="403.3" y2="1284.5" stroke-width="1.8" stroke="#000"/>
<line x1="361.8" y1="1261.4" x2="361.8" y2="1307.7" stroke-width="1.3" stroke="#222"/>
<line x1="341.2" y1="1261.4" x2="382.4" y2="1261.4" stroke-width="1.3" stroke="#222"/>
<line x1="341.2" y1="1307.7" x2="382.4" y2="1307.7" stroke-width="1.3" stroke="#222"/>
<line x1="445.7" y1="1284.2" x2="528.4" y2="1284.2" stroke-width="1.8" stroke="#000"/>
<line x1="487.1" y1="1261.1" x2="487.1" y2="1307.7" stroke-width="1.3" stroke="#222"/>
<line x1="466.3" y1="1261.1" x2="507.8" y2="1261.1" stroke-width="1.3" stroke="#222"/>
<line x1="466.3" y1="1307.7" x2="507.8" y2="1307.7" stroke-width="1.3" stroke="#222"/>
<line x1="570.8" y1="1370.7" x2="653.8" y2="1370.7" stroke-width="1.8" stroke="#000"/>
<line x1="612.5" y1="1365.6" x2="612.5" y2="1376.3" stroke-width="1.3" stroke="#222"/>
<line x1="592" y1="1365.6" x2="632.9" y2="1365.6" stroke-width="1.3" stroke="#222"/>
<line x1="592" y1="1376.3" x2="632.9" y2="1376.3" stroke-width="1.3" stroke="#222"/>
<!-- panelF -->
<text x="698.8" y="983" font-size="48">F</text>
<rect x="826" y="1018.8" width="86.3" height="514" fill="#d9d9d9" stroke="none"/>
<rect x="1083" y="1018.8" width="86.6" height="514" fill="#d9d9d9" stroke="none"/>
<text x="824.6" y="1001.9" font-size="30.5">pH 5.5</text>
<text x="1076" y="1001.9" font-size="30.5">pH 5.5</text>
<text font-size="28" text-anchor="middle" transform="translate(776.6 1168) rotate(-90) scale(1.090 1)">Untreated</text>
<text font-size="28" text-anchor="middle" transform="translate(776.6 1337.5) rotate(-90) scale(1.090 1)">AG1529</text>
<text font-size="28" text-anchor="middle" transform="translate(776.6 1465) rotate(-90) scale(1.090 1)">CPZ</text>
<line x1="984.7" y1="1259.1" x2="1165" y2="1259.1" stroke-width="3.8" stroke="#0f72e6"/>
<line x1="984.7" y1="1407.9" x2="1165" y2="1407.9" stroke-width="3.8" stroke="#00ab50"/>
<text font-size="29" text-anchor="middle" transform="translate(1087.6 1249.3) scale(1.052 1)">AG1529</text>
<text font-size="29" text-anchor="middle" transform="translate(1091.8 1393.5) scale(1.052 1)">CPZ</text>
<path d="M785.1 1083.9 785.6 1089.5 786.1 1085.2 786.6 1090 787.1 1085.4 787.6 1089 788 1084.9 788.5 1088.5 789 1084.1 789.5 1088.6 790 1084.6 790.5 1090.5 791 1085.3 791.5 1090.6 792 1083 792.5 1088.6 793 1083.8 793.5 1088.9 793.9 1083.5 794.4 1089.2 794.9 1082.8 795.4 1087.3 795.9 1083.3 796.4 1087.5 796.9 1083.2 797.4 1087.4 797.9 1084.3 798.4 1088.3 798.9 1082.2 799.4 1088.8 799.9 1084.3 800.3 1087.7 800.8 1082.8 801.3 1088.2 801.8 1082.7 802.3 1087.6 802.8 1083.4 803.3 1087.9 803.8 1084.3 804.3 1086.9 804.8 1083.4 805.3 1087.7 805.8 1082.9 806.2 1087.6 806.7 1082.7 807.2 1087.2 807.7 1082 808.2 1087.4 808.7 1082.9 809.2 1087.7 809.7 1084.5 810.2 1087.5 810.7 1083.2 811.2 1088.4 811.7 1083.3 812.2 1087.8 812.6 1083.6 813.1 1087.6 813.6 1084.5 814.1 1087.2 814.6 1083.5 815.1 1087.4 815.6 1083.4 816.1 1087.8 816.6 1084.4 817.1 1088.6 817.6 1084.9 818.1 1088.6 818.5 1083.4 819 1087.6 819.5 1083.2 820 1088.7 820.5 1084.7 821 1088.9 821.5 1085.3 822 1088.5 822.5 1084.8 823 1089.2 823.5 1084.9 824 1088.8 824.5 1085 824.9 1088.9 825.4 1084 825.9 1089.9 826.4 1082.8 826.9 1088.7 827.4 1082.3 828 1089.8 828.5 1083.9 829 1089.3 829.5 1085.3 830 1089.7 830.5 1084.5 831 1090 831.5 1085.8 832 1088.3 832.6 1087 833.2 1090.1 833.5 1111.4 833.8 1134.1 834.2 1170.3 834.5 1207.9 835 1242.3 835.4 1278 835.9 1260.7 836.5 1244.8 837 1225.8 837.6 1208.2 838.1 1197.1 838.6 1188.7 839.1 1177.6 839.6 1173.3 840 1166.1 840.4 1162.6 840.9 1154.3 841.3 1154.4 841.8 1147.6 842.2 1147.1 842.7 1140.4 843.2 1143.9 843.8 1134.5 844.3 1140.1 844.9 1129.6 845.4 1139.4 845.9 1128.7 846.5 1138.9 847 1128.1 847.5 1136.5 848 1127.3 848.6 1134.7 849.1 1126.9 849.5 1138 850 1127.9 850.5 1137.2 851 1129.3 851.5 1140.1 852 1132.3 852.5 1140.5 853 1133.5 853.5 1142 854 1135.8 854.5 1144.8 855 1133.4 855.4 1144.3 855.9 1136.9 856.4 1147.8 856.9 1136.3 857.4 1146 857.9 1136 858.4 1147.4 858.9 1139.7 859.4 1147.9 859.9 1137.1 860.4 1149.8 860.9 1139.6 861.4 1148.9 861.8 1140.1 862.3 1150.9 862.8 1142.9 863.3 1152.2 863.8 1142 864.3 1153 864.8 1144.4 865.3 1152.5 865.8 1144 866.3 1155.2 866.8 1142.8 867.3 1156 867.7 1143.9 868.2 1154 868.7 1147.4 869.2 1154.9 869.7 1146.2 870.2 1158.9 870.7 1149.4 871.2 1157 871.7 1146.9 872.2 1158.7 872.7 1148.9 873.2 1159.8 873.7 1149.1 874.1 1158.4 874.6 1151.2 875.1 1160.4 875.6 1150.1 876.1 1160.2 876.6 1149.7 877.1 1161.6 877.6 1149.2 878.1 1158.6 878.6 1148.5 879.1 1162.3 879.6 1148.1 880 1161.1 880.5 1150.9 881 1157.7 881.5 1151.2 882 1161 882.5 1151 883 1160 883.5 1151.1 884 1161 884.5 1148.2 885 1158 885.5 1148.7 886 1157.7 886.4 1148.3 886.9 1159.9 887.4 1149.2 887.9 1159.1 888.4 1145.7 888.9 1157.6 889.4 1142 889.9 1158.6 890.4 1146.7 890.9 1161.9 891.4 1146.7 891.9 1160.4 892.3 1148.4 892.8 1158.2 893.3 1147.9 893.8 1155.8 894.3 1149.1 894.8 1158.2 895.3 1148.5 895.8 1158.2 896.3 1149.4 896.8 1161.4 897.3 1147.9 897.7 1159.2 898.2 1148 898.6 1155.2 899 1145.6 899.5 1146.4 900 1136 900.5 1136.1 901 1125.8 901.5 1123.9 902 1113.7 902.5 1113.3 903 1105 903.5 1103 903.9 1097.7 904.4 1098.6 904.9 1093.4 905.4 1093.9 905.9 1089.5 906.4 1092.6 906.9 1089.2 907.4 1091.1 907.8 1084.3 908.3 1090.6 908.9 1084.7 909.4 1088.7 909.9 1085.3 910.4 1090.3 911 1084.7 911.5 1090.8 912 1085.9 912.5 1090.6 913 1085.8 913.5 1089.2 914 1086.1 914.5 1090.3 915 1085 915.5 1089.3 916 1085.3 916.5 1089.3 916.9 1085.5 917.4 1089.9 917.9 1084.4 918.4 1091 918.9 1086 919.4 1089.8 919.9 1085.5 920.4 1090.7 920.9 1085.1 921.4 1089.4 921.9 1086.3 922.4 1089 922.9 1084.5 923.3 1089.2 923.8 1085.6 924.3 1090.6 924.8 1084.8 925.3 1089.3 925.8 1084.9 926.3 1088.8 926.8 1084.7 927.3 1091.3 927.8 1084.4 928.3 1088.6 928.8 1082.5 929.2 1090.2 929.7 1084.7 930.2 1089.9 930.7 1085.3 931.2 1089.6 931.7 1085.9 932.2 1090 932.7 1083 933.2 1090.5 933.7 1085.9 934.2 1090.5 934.7 1084.8 935.2 1089.2 935.6 1086.2 936.1 1091.3 936.6 1085.7 937.1 1090 937.6 1085.2 938.1 1089.8 938.6 1084.4 939.1 1088 939.6 1085 940.1 1088.7 940.6 1084.3 941.1 1088.4 941.5 1083.5 942 1088.7 942.5 1083.5 943 1089.5 943.5 1085.4 944 1089.1 944.5 1084.1 945 1089 945.5 1085.1 946 1089.2 946.5 1085.4 947 1089.9 947.5 1085.9 947.9 1090.6 948.4 1085.2 948.9 1089.5 949.4 1085.4 949.9 1092 950.4 1085.6 950.9 1090.2 951.4 1086.1 951.9 1089.5 952.4 1085.8 952.9 1090.6 953.4 1085.8 953.8 1089.7 954.3 1085.4 954.8 1090.3 955.3 1086.2 955.8 1090.6 956.3 1086.3 956.8 1089.8 957.3 1085.1 957.8 1090.1 958.3 1086.1 958.8 1088.9 959.3 1085 959.8 1088.9 960.2 1085.1 960.7 1089.6 961.2 1084.5 961.7 1089 962.2 1083.1 962.7 1089.6 963.2 1084.2 963.7 1088.6 964.2 1085.3 964.7 1090 965.2 1085.2 965.7 1089.1 966.2 1084.8 966.6 1089.2 967.1 1082.7 967.6 1088.4 968.1 1084.4 968.6 1089.5 969.1 1085.8 969.6 1089.1 970.1 1085.4 970.6 1090.2 971.1 1084.7 971.6 1089.5 972.1 1084.5 972.5 1088.7 973 1084 973.5 1087.9 974 1085.3 974.5 1089.6 975 1082.6 975.5 1089.5 976 1085.4 976.5 1090.1 977 1085.1 977.5 1089.3 978 1084.6 978.5 1090 978.9 1085.3 979.4 1090 979.9 1084.3 980.4 1090 980.9 1084.6 981.4 1090.5 981.9 1086 982.4 1089 982.9 1085.9 983.4 1090.5 983.9 1085.1 984.4 1090.1 984.8 1085.6 985.3 1090.1 985.8 1085.6 986.3 1089.4 986.8 1085.2 987.3 1088.9 987.8 1085 988.3 1089.3 988.8 1085.1 989.3 1089.7 989.8 1086.3 990.3 1090 990.8 1085.2 991.2 1090.5 991.7 1087 992.2 1091.3 992.7 1086.2 993.2 1092.3 993.7 1086 994.2 1091.6 994.7 1087.5 995.2 1091.5 995.7 1087.6 996.2 1092.4 996.6 1087 997.1 1091.7 997.6 1087.3 998.1 1090.5 998.6 1086.9 999 1090.3 999.5 1086.3 1000 1091 1000 1086.2 1000.5 1090.8 1001 1085 1001.5 1088.6 1002 1085.2 1002.5 1087.6 1003 1083.6 1003.5 1088.6 1004 1084.4 1004.5 1088.3 1005 1084.2 1005.5 1089.2 1006 1084.9 1006.5 1090.6 1007 1087 1007.5 1090.5 1008 1087.1 1008.5 1092.3 1009 1088.2 1009.5 1091.9 1010.1 1087.7 1010.6 1092.8 1011.1 1089.6 1011.6 1092.8 1012.1 1088 1012.6 1093.5 1013.1 1088.7 1013.6 1092.5 1014.1 1088.6 1014.6 1091.8 1015.1 1085.6 1015.6 1092.4 1016.1 1088.3 1016.6 1091.3 1017.1 1087 1017.6 1092.6 1018.1 1087.9 1018.6 1092.3 1019.1 1087.5 1019.6 1091.6 1020.1 1086.4 1020.6 1090.6 1021.1 1087.7 1021.6 1091.5 1022.1 1087.2 1022.6 1091.1 1023.1 1086.3 1023.6 1089.7 1024.1 1087.3 1024.6 1090.4 1025.1 1085.8 1025.6 1090.7 1026.1 1085.8 1026.6 1091.4 1027.1 1085.9 1027.6 1090.4 1028 1087 1028.5 1090 1029 1086 1029.5 1090.9 1030 1085.5 1030.5 1089.8 1031 1085.1 1031.5 1088.9 1032 1086.1 1032.5 1089.8 1033 1084.9 1033.5 1088.7 1033.9 1084.5 1034.4 1088.4 1034.9 1085.1 1035.4 1087.7 1035.9 1084.7 1036.4 1088.7 1036.9 1083.6 1037.4 1088.3 1037.9 1085.2 1038.4 1088.1 1038.9 1083.9 1039.4 1089.1 1039.9 1085 1040.3 1088.5 1040.8 1085.5 1041.3 1089.1 1041.8 1085.8 1042.3 1090.4 1042.8 1084.2 1043.3 1091 1043.8 1086.2 1044.3 1090.6 1044.8 1087.2 1045.3 1091.9 1045.8 1086.8 1046.2 1089.5 1046.7 1085.8 1047.2 1091.4 1047.7 1086.8 1048.2 1090.1 1048.7 1086.1 1049.2 1091.9 1049.7 1087.1 1050.2 1092.9 1050.7 1086.8 1051.2 1092.6 1051.7 1087.1 1052.2 1092.4 1052.6 1087.6 1053.1 1091.1 1053.6 1087.7 1054.1 1091.2 1054.6 1087.6 1055.1 1093.4 1055.6 1086.6 1056.1 1091 1056.6 1086.7 1057.1 1093.7 1057.6 1087.1 1058.1 1091 1058.5 1086.7 1059 1093.3 1059.5 1086.7 1060 1091.5 1060.5 1087 1061 1091.9 1061.5 1087.1 1062 1091.5 1062.5 1087.8 1063 1093.2 1063.5 1088.3 1064 1093.5 1064.5 1089.1 1064.9 1093.5 1065.4 1087.6 1065.9 1092.4 1066.4 1088.1 1066.9 1092.5 1067.4 1086.8 1067.9 1091.9 1068.4 1086.5 1068.9 1091.3 1069.4 1085.2 1069.9 1090.1 1070.4 1085.4 1070.8 1089.9 1071.3 1085.2 1071.8 1089.2 1072.3 1086 1072.8 1090 1073.3 1085.7 1073.8 1088.8 1074.3 1082.5 1074.8 1089.5 1075.3 1084.3 1075.8 1091.3 1076.3 1085.5 1076.8 1088.5 1077.3 1084.8 1077.8 1090.2 1078.3 1085.1 1078.8 1090.7 1079.3 1086.2 1079.9 1091.4 1080.4 1086.7 1080.9 1090.7 1081.5 1090.4 1082.1 1093.6 1082.5 1109.1 1083 1127 1083.5 1142.8 1084.1 1160.7 1084.4 1155.2 1084.7 1152.2 1085.3 1142.5 1085.9 1141.1 1086.4 1132.2 1087 1138.6 1087.5 1131 1088 1136.1 1088.6 1127.9 1089.1 1132 1089.5 1124.5 1090 1130.9 1090.5 1120.7 1091 1126.6 1091.5 1118.1 1092 1127.1 1092.5 1118.6 1093 1126.3 1093.5 1115.4 1094 1125.6 1094.5 1115.2 1095 1122.6 1095.4 1115.9 1095.9 1123.5 1096.5 1115.9 1097 1121.8 1097.5 1110.3 1098 1121.5 1098.6 1112.6 1099.1 1123.8 1099.6 1114.3 1100.1 1123.5 1100.7 1112.6 1101.2 1122.6 1101.7 1115.7 1102.2 1122.6 1102.7 1116.1 1103.2 1123.8 1103.7 1116.8 1104.2 1126.1 1104.7 1116.6 1105.3 1127 1105.8 1120.5 1106.3 1130.4 1106.8 1120.5 1107.3 1127.4 1107.7 1120.7 1108.2 1129 1108.7 1120.6 1109.2 1131.5 1109.7 1124.1 1110.2 1132.3 1110.7 1123.4 1111.2 1134.6 1111.7 1125.7 1112.2 1135.4 1112.7 1127.5 1113.2 1135.8 1113.7 1129.9 1114.1 1135.3 1114.6 1129.4 1115.1 1137.1 1115.6 1129.6 1116.1 1137.9 1116.6 1130.1 1117.1 1143.8 1117.6 1129.9 1118.1 1141 1118.6 1132.5 1119.1 1142.1 1119.6 1131.5 1120 1141 1120.5 1133.3 1121 1145.9 1121.5 1133.3 1122 1142.5 1122.5 1135 1123 1143.1 1123.5 1134.1 1124 1145.7 1124.5 1135.9 1125 1144.1 1125.5 1138.4 1126 1145.4 1126.4 1137.4 1126.9 1147.6 1127.4 1139.6 1127.9 1146 1128.4 1137.5 1128.9 1148.7 1129.4 1140.3 1129.9 1149.7 1130.4 1140.1 1130.9 1150.7 1131.4 1140.5 1131.9 1151 1132.3 1140.3 1132.8 1150.6 1133.3 1139.8 1133.8 1151.7 1134.3 1140.3 1134.8 1150.1 1135.3 1139 1135.8 1148.3 1136.3 1139.3 1136.8 1146.4 1137.3 1137.7 1137.8 1146.8 1138.3 1140.7 1138.7 1147.8 1139.2 1139.4 1139.7 1146 1140.2 1137 1140.7 1147.1 1141.2 1136.5 1141.7 1145.8 1142.2 1139 1142.7 1144.9 1143.2 1138.8 1143.7 1144.6 1144.2 1137 1144.6 1145 1145.1 1135.7 1145.6 1150 1146.1 1138.8 1146.6 1147.2 1147.1 1137.6 1147.6 1147.8 1148.1 1136.4 1148.6 1146.5 1149.1 1139.2 1149.6 1146 1150.1 1137.8 1150.6 1147.8 1151 1138.7 1151.5 1146.8 1152 1138 1152.5 1145.8 1153 1136.9 1153.5 1145.3 1154 1135.1 1154.5 1141.8 1155 1133.3 1155.5 1140.4 1156 1132.2 1156.6 1137.1 1157.1 1130.2 1157.6 1135.8 1158.1 1127.7 1158.7 1132.3 1159.2 1123.9 1159.8 1125.2 1160.3 1117.2 1160.9 1117.7 1161.4 1110.2 1162 1109.3 1162.5 1100.8 1163.1 1099.4 1163.6 1093.6 1164.1 1095.4 1164.5 1090.8 1165 1091.7 1165.5 1088.6 1165.9 1091 1166.3 1087 1166.8 1089.5 1167.3 1085.8 1167.8 1092.4 1168.3 1086 1168.8 1089.3 1169.2 1086.3 1169.7 1092.4 1170.2 1085.7 1170.7 1089.6 1171.2 1085.2 1171.7 1091 1172.2 1086.5 1172.7 1090.3 1173.2 1085.7 1173.7 1090.9 1174.2 1086 1174.7 1091 1175.2 1087 1175.6 1089.6 1176.1 1085.5 1176.6 1090.9 1177.1 1085.9 1177.6 1089.9 1178.1 1086 1178.6 1091.3 1179.1 1086.3 1179.6 1091.1 1180.1 1085.8 1180.6 1089.9 1181.1 1084.4 1181.5 1089.9 1182 1085.7 1182.5 1090.7 1183 1086.3 1183.5 1091.2 1184 1086.9 1184.5 1090.2 1185 1085.8 1185.5 1090.5 1186 1086.9 1186.5 1090.1 1187 1085.9 1187.5 1090.7 1187.9 1085.9 1188.4 1091.5 1188.9 1086 1189.4 1091.2 1189.9 1086.4 1190.4 1093.1 1190.9 1086.8 1191.4 1090.8 1191.9 1086.4 1192.4 1091.6 1192.9 1087.4 1193.4 1091.9 1193.8 1087 1194.3 1092.2 1194.8 1087.5 1195.3 1092.1 1195.8 1085.3 1196.3 1092.4 1196.8 1087.4 1197.3 1092.4 1197.8 1086.8 1198.3 1090.5 1198.8 1088.1 1199.3 1091.9 1199.8 1086.8 1200.2 1090.2 1200.7 1086.1 1201.2 1090.9 1201.7 1084.4 1202.2 1090.5 1202.7 1086.8 1203.2 1090.6 1203.7 1086 1204.2 1089.3 1204.7 1085.9 1205.2 1088.9 1205.7 1083.3 1206.2 1089.4 1206.6 1085.8 1207.1 1090 1207.6 1085.3 1208.1 1090.3 1208.6 1083.1 1209.1 1089.7 1209.6 1085.5 1210.1 1089.9 1210.6 1085.6 1211 1088.5 1211.5 1084.9 1212 1089.5 1212.5 1084.9 1213 1089.7 1213.5 1085.2 1214 1089.1 1214.5 1087.5" fill="none" stroke-width="1.3" stroke-linejoin="bevel" stroke="#000"/>
<line x1="785.2" y1="1074" x2="785.2" y2="1094" stroke-width="0.8" stroke="#666"/>
<line x1="936.1" y1="1088" x2="936.1" y2="1108.7" stroke-width="0.9" stroke="#666"/>
<path d="M785.6 1287.6 786.1 1292.4 786.6 1288.1 787.1 1291.5 787.6 1287.3 788.1 1291.1 788.6 1287.2 789.1 1291.1 789.7 1287.8 790.2 1292.1 790.7 1286 791.2 1290.8 791.7 1286.6 792.2 1290.9 792.7 1287.5 793.2 1291.2 793.7 1286.1 794.2 1291.7 794.7 1287.2 795.2 1292.4 795.7 1284.8 796.2 1292.8 796.7 1288.1 797.2 1292.8 797.7 1286.9 798.2 1291.8 798.7 1286.5 799.2 1291.5 799.8 1286.4 800.3 1290.9 800.8 1286.6 801.3 1293 801.8 1288.2 802.3 1293.8 802.8 1287.3 803.3 1291.9 803.8 1287.9 804.3 1292.3 804.8 1287 805.4 1292.8 805.9 1288.3 806.4 1292.5 806.9 1288.8 807.4 1293.1 807.9 1288.3 808.4 1292.8 808.9 1287.6 809.4 1293.4 809.9 1288.9 810.5 1294.9 811 1289.1 811.5 1293.4 812 1288.6 812.5 1292.9 813 1289.5 813.5 1294.6 814.1 1289.1 814.6 1294.2 815.1 1289.7 815.6 1294 816.1 1290.9 816.7 1294.9 817.2 1291.1 817.7 1296.1 818.2 1292 818.7 1295.9 819.2 1291.7 819.7 1297 820.2 1291.9 820.6 1297.3 821.1 1292.7 821.6 1297.7 822.1 1292.2 822.6 1296.9 823.1 1293.2 823.6 1297.6 824.1 1294.8 824.6 1298.3 825.1 1291.2 825.6 1297.8 826.1 1293.3 826.5 1297.2 827 1291.8 827.5 1296.9 828 1293.3 828.5 1296.9 829 1294.1 829.5 1298.7 830 1298.9 830.4 1319.8 830.9 1339.1 831.5 1365.7 832.1 1391.1 832.6 1384.8 833.1 1376.7 833.6 1374.6 834 1368.3 834.5 1369.7 835 1362.9 835.6 1365 836.1 1359.2 836.6 1363.1 837.1 1355.5 837.6 1360.7 838.1 1353.2 838.6 1359 839.1 1353.4 839.6 1358.6 840.1 1352.5 840.6 1360.6 841.1 1350.6 841.6 1359.9 842.1 1353 842.7 1363.2 843.2 1355.9 843.7 1363.2 844.2 1356.2 844.7 1368.7 845.2 1355.7 845.6 1369.8 846.1 1362.7 846.6 1371 847.1 1362.7 847.6 1374.8 848.1 1365.2 848.6 1379.5 849.1 1370.3 849.6 1378.9 850.1 1371.5 850.6 1380.5 851.1 1370.6 851.6 1381.9 852.1 1372.1 852.6 1382.1 853.1 1372.5 853.6 1385.7 854.1 1375.7 854.6 1391.1 855.1 1374.3 855.6 1386 856 1376.9 856.5 1390.1 857 1376.8 857.5 1388.6 858 1376.3 858.5 1389.8 859 1378.7 859.5 1388.8 860 1378.5 860.5 1388.7 861 1379.8 861.5 1389.1 862 1380.7 862.5 1393.6 863 1378.6 863.5 1392.6 864 1378.9 864.5 1390.9 865 1382.4 865.5 1395 866 1380.1 866.5 1392.8 867 1379.9 867.5 1395.7 868 1382.2 868.6 1393.9 869.1 1377.1 869.6 1395.8 870.1 1385.7 870.6 1395.8 871.1 1387.3 871.6 1396.7 872.1 1386.6 872.6 1396.8 873.1 1384.8 873.7 1398.8 874.2 1384.2 874.7 1400 875.2 1384.9 875.7 1396.8 876.2 1379.5 876.7 1398.5 877.2 1389.3 877.7 1398.9 878.2 1387.7 878.7 1402.3 879.3 1388.5 879.8 1399.3 880.3 1386.7 880.8 1402 881.3 1391.1 881.8 1398.8 882.3 1387.5 882.8 1397.5 883.3 1386.6 883.8 1400.9 884.4 1389.6 884.9 1397.9 885.4 1387.8 885.9 1397.1 886.4 1384.6 886.9 1398.1 887.4 1383.5 887.9 1400.9 888.4 1389.4 888.9 1397.4 889.5 1389.3 890 1400.7 890.5 1386.4 891 1397 891.5 1385.5 892 1397.3 892.5 1388.8 893 1395.8 893.5 1386.5 894 1394.1 894.5 1384.9 895.1 1394.9 895.6 1384.9 896.1 1396.5 896.6 1385.8 897.1 1395.5 897.6 1378.8 898.1 1395.7 898.6 1382.7 899.1 1393 899.6 1383.8 900.1 1397.4 900.6 1383.9 901.1 1394.3 901.6 1381.1 902.1 1392.4 902.6 1379.6 903 1382.1 903.5 1373.2 903.9 1371.6 904.4 1358.2 904.9 1354.5 905.3 1343.1 905.8 1337.9 906.2 1323.7 906.7 1323.5 907.2 1313.4 907.6 1311.3 908.2 1303.8 908.8 1304 909.4 1296.4 909.8 1298.7 910.3 1294.6 910.7 1297.1 911.2 1291.9 911.6 1295.9 912.1 1290.6 912.6 1295.5 913.1 1290.5 913.5 1293.4 914 1288.8 914.5 1293.3 915 1289.4 915.5 1292.7 916 1288.1 916.4 1292.9 916.9 1289.7 917.4 1293.4 917.9 1289.8 918.4 1292.6 918.9 1289.6 919.4 1293.6 919.9 1288.5 920.4 1292.9 920.9 1289 921.4 1292.8 921.9 1287.9 922.4 1292.9 922.9 1288.8 923.4 1292.6 923.9 1286.9 924.4 1293.1 924.9 1289.5 925.4 1292.4 925.9 1288.9 926.3 1292.4 926.8 1289.5 927.3 1293.3 927.8 1288.8 928.3 1292.9 928.8 1289.1 929.3 1293.1 929.8 1289.6 930.3 1293.7 930.8 1289.4 931.3 1293.8 931.8 1288.5 932.3 1292.9 932.8 1290.3 933.3 1292.8 933.8 1290 934.3 1293.4 934.8 1288.8 935.3 1293.5 935.8 1289.4 936.3 1293 936.7 1288.7 937.2 1294 937.7 1289.8 938.2 1294.5 938.7 1288.7 939.2 1294.6 939.7 1289.8 940.2 1294.3 940.7 1289.1 941.2 1296.6 941.7 1290 942.2 1293.9 942.7 1288.7 943.2 1292.8 943.7 1289.7 944.2 1294 944.7 1290.3 945.2 1293.8 945.7 1288.7 946.2 1293.9 946.6 1289.3 947.1 1293.2 947.6 1289.4 948.1 1293.4 948.6 1289.1 949.1 1293.8 949.6 1287 950.1 1294.2 950.6 1290.5 951.1 1296.6 951.6 1290.1 952.1 1295.1 952.6 1289.7 953.1 1294.7 953.6 1290.2 954.1 1294.2 954.6 1289.5 955.1 1294.9 955.6 1290.7 956.1 1294.3 956.5 1290.7 957 1293.9 957.5 1290.7 958 1294.5 958.5 1290.1 959 1294.5 959.5 1288.6 960 1293.7 960.5 1289.2 961 1294.4 961.5 1289.1 962 1292.6 962.5 1289.1 963 1294.3 963.5 1289.3 964 1295.3 964.5 1289.3 965 1293 965.5 1288.4 966 1294.1 966.5 1289.1 966.9 1293.4 967.4 1288.1 967.9 1294.2 968.4 1289 968.9 1294.7 969.4 1290.1 969.9 1294 970.4 1288.5 970.9 1292.9 971.4 1288.8 971.9 1294.2 972.4 1289.9 972.9 1294.7 973.4 1290.6 973.9 1294.6 974.4 1290 974.9 1294 975.4 1289.6 975.9 1293.9 976.4 1290.3 976.8 1293.6 977.3 1290.4 977.8 1293.6 978.3 1290.7 978.8 1294.2 979.3 1288 979.8 1294.2 980.3 1288.4 980.8 1294.1 981.3 1288.9 981.8 1294.7 982.3 1290 982.8 1294.8 983.3 1289.5 983.8 1293.6 984.3 1287.3 984.8 1294.7 985.3 1288.9 985.8 1293.3 986.3 1289.8 986.8 1294.2 987.3 1289.1 987.8 1293.7 988.3 1290.4 988.8 1293.8 989.3 1290.6 989.8 1294.6 990.3 1289.2 990.9 1294.8 991.4 1288.1 991.9 1293.8 992.4 1289.1 992.9 1294.4 993.4 1290.2 993.9 1292.9 994.4 1289.5 994.9 1292.6 995.4 1288.6 995.9 1293.8 996.4 1288.8 996.9 1293.6 997.5 1288.4 998 1293.8 998.5 1289.6 999 1294.2 999.5 1288.3 1000 1292.7 1000 1289.1 1000 1293.7 1000.5 1290.2 1001 1294.1 1001.5 1290.6 1002 1295.1 1002.5 1289.8 1003 1294.2 1003.5 1289.5 1004 1295 1004.5 1290 1005 1293.8 1005.5 1289.4 1006 1293.6 1006.5 1289.5 1007 1293.8 1007.5 1290 1008 1293.6 1008.5 1289.7 1009 1292.9 1009.5 1288.5 1010 1292.9 1010.5 1288.2 1011 1293.2 1011.5 1288.7 1012 1293.3 1012.5 1289.1 1013 1293.5 1013.5 1288.8 1014 1292.8 1014.5 1288.2 1015 1293.2 1015.5 1288.3 1016 1293.2 1016.5 1288.6 1017 1293.4 1017.5 1288 1018 1292.9 1018.5 1288.9 1019 1293.4 1019.5 1289.2 1020 1293.3 1020.5 1287.8 1021 1292.6 1021.5 1289.5 1022 1293.4 1022.5 1288.6 1023 1293.9 1023.5 1289.3 1024 1292.7 1024.5 1287.9 1025 1293.4 1025.5 1288.9 1026 1292.9 1026.5 1288.4 1027 1293.4 1027.5 1288.8 1028 1294.7 1028.5 1289.3 1029 1296.4 1029.5 1288.8 1030 1293.7 1030.5 1290 1031 1293.6 1031.5 1289 1032 1292.9 1032.5 1289.8 1033 1294.1 1033.5 1288.9 1034 1294.1 1034.5 1289.6 1035 1293.6 1035.5 1289.6 1036 1294.4 1036.5 1289.9 1037 1295.9 1037.5 1289.6 1038 1295.6 1038.5 1289.1 1039 1294.2 1039.5 1289.6 1040 1293 1040.5 1290.2 1041 1294.7 1041.5 1290 1042 1293.8 1042.5 1290 1043 1293.2 1043.5 1289.3 1044 1293.5 1044.5 1290.2 1045 1294 1045.5 1290.4 1046 1293.2 1046.5 1289.3 1047 1293.8 1047.5 1290.1 1048 1296.4 1048.5 1289.4 1049 1294.4 1049.5 1289.2 1050 1294.6 1050.5 1289.7 1051 1294.5 1051.5 1290.3 1052 1294.3 1052.5 1288.7 1053 1293 1053.5 1289.4 1054 1295.3 1054.5 1288.6 1055 1292.6 1055.5 1289.8 1056 1293.9 1056.5 1289.3 1057 1293.4 1057.5 1289.6 1058 1293.4 1058.5 1287.1 1059 1293.4 1059.6 1290.4 1060.1 1294.7 1060.6 1290 1061.1 1295 1061.6 1289.5 1062.1 1294.6 1062.6 1290.4 1063.2 1295.3 1063.7 1290.9 1064.2 1295.5 1064.7 1290.4 1065.2 1294.1 1065.7 1290.2 1066.2 1294.6 1066.7 1289.2 1067.3 1294.1 1067.8 1288.7 1068.3 1292.9 1068.8 1288.1 1069.3 1293.1 1069.8 1287.7 1070.3 1293 1070.9 1287.2 1071.4 1291.7 1071.9 1288.6 1072.4 1292.1 1072.9 1287.7 1073.4 1292.7 1073.9 1287 1074.4 1291.9 1074.9 1288.5 1075.4 1291.8 1075.9 1287.4 1076.4 1292.8 1076.9 1287.3 1077.4 1294.4 1077.9 1288.7 1078.4 1294.1 1078.9 1288.5 1079.4 1294.2 1079.9 1290.4 1080.3 1294.3 1080.8 1289.4 1081.3 1295.7 1081.8 1290.3 1082.4 1296.2 1082.9 1290.1 1083.4 1294.5 1083.9 1289.4 1084.4 1293.6 1085 1289.1 1085.5 1294.1 1086 1288.9 1086.5 1293.5 1087 1290.4 1087.5 1294.9 1088 1293.5 1088.5 1300.2 1089.1 1302.7 1089.6 1308.3 1090 1306.3 1090.5 1313.2 1090.9 1310.6 1091.5 1319.1 1092.1 1321.8 1092.5 1339.4 1093 1353.7 1093.4 1350.1 1093.8 1344.1 1094.3 1341.2 1094.8 1334.6 1095.3 1334.9 1095.7 1327.5 1096.3 1330.9 1096.9 1325.1 1097.4 1328.7 1098 1320.5 1098.5 1329.7 1099 1320.6 1099.6 1327.7 1100.1 1320.7 1100.6 1326.8 1101.1 1318.2 1101.7 1327.6 1102.2 1318.5 1102.7 1328.6 1103.2 1321.1 1103.8 1328.6 1104.3 1318.7 1104.8 1328 1105.4 1320.8 1105.9 1328 1106.4 1320.9 1106.9 1330.3 1107.4 1314.3 1107.9 1329.3 1108.4 1322.1 1108.9 1329.5 1109.4 1323.1 1109.9 1331.3 1110.4 1323.4 1110.9 1332.6 1111.4 1322.5 1111.9 1333.9 1112.4 1324.6 1112.9 1339.3 1113.4 1324.4 1113.9 1334.9 1114.4 1328.3 1114.8 1337.8 1115.3 1327.9 1115.8 1336.7 1116.3 1328.7 1116.8 1340.3 1117.3 1330.3 1117.8 1339.5 1118.3 1325.8 1118.8 1339.5 1119.3 1332.5 1119.8 1340.5 1120.3 1332.9 1120.8 1342 1121.3 1329.7 1121.8 1341.1 1122.3 1333.8 1122.8 1343 1123.3 1332.4 1123.8 1340.7 1124.3 1332.8 1124.9 1342.8 1125.4 1331 1125.9 1343 1126.4 1330.9 1126.9 1342.2 1127.4 1330.7 1127.9 1340.1 1128.4 1332.8 1128.9 1341.5 1129.4 1330.5 1129.9 1343 1130.4 1333.3 1130.9 1340.6 1131.4 1330.1 1132 1339.3 1132.5 1328.8 1133 1340.3 1133.5 1332.2 1134 1340.1 1134.5 1328.1 1135 1336.9 1135.6 1327.9 1136.1 1339.4 1136.6 1330 1137.1 1342.1 1137.6 1328 1138.1 1335.8 1138.6 1327.2 1139.1 1335.2 1139.7 1328.1 1140.2 1335.5 1140.7 1327.3 1141.2 1335 1141.7 1326.8 1142.2 1335.6 1142.7 1323.6 1143.3 1332.6 1143.8 1325.8 1144.3 1335.6 1144.8 1326.4 1145.3 1335 1145.8 1326.4 1146.3 1334.3 1146.8 1325.1 1147.4 1333 1147.9 1325.9 1148.4 1333.1 1148.9 1323.5 1149.4 1335.4 1149.9 1325 1150.4 1334.1 1151 1324.5 1151.5 1335.1 1152 1324.1 1152.5 1337 1153 1326.2 1153.5 1335 1154 1324 1154.5 1334.7 1155.1 1328.9 1155.6 1335.9 1156.1 1328.1 1156.6 1338.2 1157.1 1326.7 1157.6 1341 1158 1325.2 1158.5 1338.5 1159 1328.6 1159.5 1332.7 1160 1324.3 1160.4 1328.3 1160.9 1320.1 1161.4 1320.4 1161.8 1314.5 1162.3 1314.2 1162.8 1306.7 1163.2 1307.1 1163.7 1300.5 1164.1 1301 1164.6 1296.9 1165.1 1298.2 1165.5 1293.6 1166 1294.8 1166.5 1291 1167.1 1295.4 1167.7 1290.1 1168.2 1293.7 1168.7 1289.5 1169.2 1293.6 1169.7 1289.5 1170.2 1294.2 1170.7 1291.1 1171.2 1294.2 1171.7 1289.5 1172.2 1294.9 1172.7 1290.6 1173.2 1294.4 1173.8 1289.8 1174.3 1294.8 1174.8 1290.5 1175.3 1294.1 1175.8 1290.4 1176.3 1294.4 1176.8 1290.5 1177.3 1293 1177.8 1288.8 1178.3 1293.9 1178.8 1290.1 1179.3 1293.3 1179.8 1287 1180.3 1293.2 1180.8 1288.9 1181.3 1295.1 1181.8 1289.5 1182.3 1293.5 1182.8 1289.4 1183.3 1294.2 1183.8 1289.4 1184.3 1293.5 1184.8 1289 1185.4 1293.3 1185.9 1289.4 1186.4 1294.1 1186.9 1290.8 1187.4 1294.6 1187.9 1290.2 1188.4 1294.7 1189 1289.6 1189.5 1295.3 1190 1290.7 1190.5 1295.1 1191 1291.7 1191.5 1294.9 1192 1290.4 1192.5 1295.5 1193.1 1290.5 1193.6 1295.1 1194.1 1290.5 1194.6 1295.8 1195.1 1290.5 1195.6 1294.5 1196.1 1288.3 1196.7 1295.3 1197.2 1291.8 1197.7 1295.9 1198.2 1290.6 1198.7 1294.6 1199.2 1291 1199.7 1295 1200.2 1290.5 1200.8 1296.4 1201.3 1291.8 1201.8 1295.8 1202.3 1291.5 1202.8 1295.3 1203.3 1291.2 1203.8 1296.4 1204.3 1291 1204.9 1296.6 1205.4 1292.4 1205.9 1298 1206.4 1292.1 1206.9 1297.3 1207.4 1292.7 1207.9 1295.7 1208.4 1292 1208.9 1297.4 1209.5 1292.2 1210 1296.4 1210.5 1291.5 1211 1296 1211.5 1290.1 1212 1293.1" fill="none" stroke-width="1.3" stroke-linejoin="bevel" stroke="#000"/>
<rect x="1088.9" y="1302.5" width="4.4" height="19.5" fill="#000" stroke="none"/>
<line x1="823.3" y1="1283" x2="823.3" y2="1292" stroke-width="0.8" stroke="#555"/>
<path d="M785.6 1418.6 786.1 1422.1 786.6 1418.5 787.1 1422.2 787.6 1418.2 788.1 1422.4 788.6 1418 789.1 1422 789.7 1418 790.2 1423.1 790.7 1418.7 791.2 1423.1 791.7 1418 792.2 1423.3 792.7 1418.7 793.2 1422.7 793.7 1417.6 794.2 1423.3 794.7 1419 795.2 1425.5 795.6 1419.2 796.1 1422.7 796.6 1418.8 797.1 1425.1 797.6 1418 798.1 1422.4 798.6 1419.2 799.1 1422.2 799.6 1418.6 800.1 1422.2 800.6 1418.3 801.1 1422.5 801.6 1418.9 802.1 1421.7 802.6 1418 803.1 1422.9 803.6 1418.2 804.1 1422.8 804.6 1417 805.1 1421.3 805.5 1418.3 806 1422.4 806.5 1417.2 807 1424.1 807.5 1418 808 1422.5 808.5 1414.9 809 1421.5 809.5 1417.3 810 1423 810.5 1418.1 811 1422.9 811.5 1419.2 812 1422.1 812.5 1418 813 1422.3 813.5 1417.8 814 1421.8 814.5 1417.9 815.1 1425.2 815.6 1419 816.1 1423 816.6 1417.5 817.1 1422.5 817.6 1419.2 818.1 1422.9 818.6 1417.9 819.1 1422.1 819.7 1417.7 820.2 1421.7 820.7 1418.2 821.2 1422.9 821.7 1418.1 822.2 1423.1 822.7 1418.2 823.3 1423.3 823.9 1423.6 824.4 1442.9 824.8 1460.5 825.4 1490.4 826 1519.2 826.6 1509.7 827.2 1498.2 827.7 1494.2 828.2 1487.4 828.6 1484.7 829.1 1478.6 829.7 1478.5 830.2 1472.4 830.7 1473.3 831.2 1467.7 831.7 1473.1 832.2 1466 832.7 1471.8 833.2 1463.7 833.7 1469.6 834.2 1463.4 834.7 1468.4 835.1 1464.2 835.6 1474.5 836.1 1464.9 836.6 1472.4 837.1 1466.5 837.6 1477.1 838.1 1469.6 838.7 1482.5 839.2 1471.1 839.7 1482.1 840.2 1476.4 840.7 1485.1 841.2 1475.8 841.7 1487.5 842.2 1477.8 842.7 1488.3 843.2 1480 843.7 1489 844.2 1483.3 844.7 1489.9 845.2 1484.4 845.6 1495.8 846.1 1485.4 846.6 1494.2 847.1 1489 847.6 1499.4 848.1 1487.9 848.6 1500 849.1 1489.5 849.6 1499.9 850.1 1494.1 850.6 1505.3 851.1 1495 851.6 1504.9 852.1 1498.4 852.6 1508.7 853.1 1496.8 853.6 1507.4 854.1 1501 854.6 1511.4 855.1 1501.7 855.6 1513.1 856 1499.8 856.5 1511.5 857 1502 857.5 1514.5 858 1501.7 858.5 1513.4 859 1503.6 859.5 1516.4 860 1506.3 860.5 1515.4 861 1508.2 861.5 1517.7 862 1509.2 862.5 1516.4 863 1506.6 863.5 1520 864 1509 864.5 1518.9 865.1 1509.6 865.6 1522.4 866.1 1512.9 866.6 1522.4 867 1508.9 867.5 1519.9 868 1510.4 868.5 1520.7 869 1509.5 869.5 1516.9 869.9 1507.8 870.4 1516.5 870.9 1506.8 871.4 1514.2 871.9 1505.7 872.4 1512 872.9 1502.8 873.4 1511.6 873.9 1501.4 874.4 1511.8 874.9 1500.8 875.4 1509.1 875.9 1499.1 876.3 1510.7 876.8 1498.3 877.3 1508.4 877.8 1495.8 878.3 1507.5 878.8 1498.1 879.3 1511.3 879.8 1492.8 880.3 1505.3 880.8 1495.8 881.3 1504.4 881.8 1494.1 882.3 1506 882.8 1492.7 883.3 1503.3 883.8 1493.4 884.3 1504.4 884.8 1491.6 885.3 1500.2 885.8 1488.9 886.3 1495 886.8 1485.9 887.4 1493.9 887.9 1480.3 888.5 1478.9 889.1 1466.8 889.5 1466.3 890 1458.9 890.4 1459.8 890.9 1450.9 891.3 1449.8 891.8 1444 892.3 1445.8 892.8 1439.1 893.3 1439.9 893.8 1434.1 894.3 1437.1 894.8 1432 895.3 1433.8 895.9 1430.3 896.4 1431.5 896.9 1427.5 897.4 1429.9 897.9 1426.8 898.4 1429.2 898.9 1424.5 899.4 1429 899.9 1423.3 900.4 1427.6 900.9 1423.3 901.4 1428.7 901.9 1421.2 902.4 1428.4 903 1424.2 903.5 1426.7 904 1422.7 904.5 1426.5 905 1420.1 905.6 1427 906.1 1422.5 906.6 1426.8 907.1 1421.7 907.6 1425 908.2 1420.2 908.7 1427.3 909.2 1420 909.7 1424.4 910.2 1421 910.8 1424.4 911.3 1419.5 911.8 1423.4 912.3 1419.2 912.8 1424 913.4 1418.9 913.9 1423.6 914.4 1420.7 914.9 1424.7 915.4 1419.8 916 1424.8 916.4 1419.5 916.9 1422.8 917.4 1419.5 917.9 1423.8 918.4 1419.6 918.9 1424.2 919.4 1419.7 919.9 1422.7 920.4 1418.4 920.9 1423.5 921.4 1418.9 921.9 1423.5 922.4 1419.6 922.9 1423.7 923.4 1420.5 923.9 1424.3 924.4 1420 924.9 1423 925.4 1419.3 925.9 1424.1 926.3 1419.7 926.8 1426.3 927.3 1420.4 927.8 1424.7 928.3 1420.2 928.8 1423.7 929.3 1420.2 929.8 1425.1 930.3 1419.6 930.8 1424.8 931.3 1420.1 931.8 1425.3 932.3 1421 932.8 1425.5 933.3 1420.1 933.8 1425.7 934.3 1421.2 934.8 1424.7 935.3 1420.5 935.8 1425.6 936.3 1420.9 936.7 1425.4 937.2 1420.1 937.7 1425.8 938.2 1419.8 938.7 1423.8 939.2 1419.4 939.7 1424 940.2 1419.6 940.7 1424.2 941.2 1419.9 941.7 1424 942.2 1420.3 942.7 1424.6 943.2 1420.2 943.7 1423.7 944.2 1419.2 944.7 1426.3 945.2 1421.2 945.7 1424.4 946.2 1420.2 946.6 1423.7 947.1 1420.5 947.6 1426 948.1 1420.3 948.6 1424.9 949.1 1418.9 949.6 1423.6 950.1 1419.3 950.6 1424.5 951.1 1420.7 951.6 1424.1 952.1 1417.3 952.6 1425 953.2 1420.9 953.7 1424 954.2 1419.9 954.7 1424.7 955.2 1419.8 955.7 1425.3 956.2 1420.2 956.7 1424 957.2 1420.7 957.7 1425.1 958.3 1421.5 958.8 1425.1 959.3 1418.2 959.8 1424.6 960.3 1418.9 960.8 1425.4 961.3 1419.6 961.8 1425.1 962.3 1421.1 962.8 1426.3 963.3 1421.3 963.9 1426.6 964.4 1422.2 964.9 1426.9 965.4 1423.5 965.9 1426.3 966.4 1422.4 966.9 1426.7 967.4 1421.4 967.9 1427.4 968.4 1422.6 969 1427.5 969.5 1424.1 970 1427.9 970.5 1423.4 971 1429.3 971.5 1424.4 972 1429 972.5 1424 973 1429.1 973.5 1425.3 974.1 1429.1 974.6 1424.6 975.1 1429.8 975.6 1426.1 976.1 1428.7 976.6 1425.9 977.1 1428.7 977.6 1425.9 978.1 1430.5 978.6 1426.4 979.1 1430.4 979.7 1425.6 980.2 1430.3 980.7 1425.9 981.2 1430.8 981.7 1425.3 982.2 1429.4 982.7 1425.5 983.2 1429 983.7 1425 984.2 1429.2 984.8 1426.1 985.3 1431.2 985.8 1427.2 986.3 1430.3 986.8 1426.7 987.3 1430.6 987.8 1426.4 988.3 1430.3 988.8 1426.3 989.3 1430.9 989.8 1425.4 990.3 1430.9 990.9 1425.4 991.4 1429.9 991.9 1426.1 992.4 1430 992.9 1423.7 993.4 1431.2 993.9 1425.5 994.4 1429 994.9 1425.5 995.4 1429.8 995.9 1424 996.4 1429.8 996.9 1424.7 997.5 1429 998 1425.3 998.5 1428.9 999 1425.6 999.5 1429.3 1000 1425.3 1000 1429.1 1000 1424.9 1000.5 1429.5 1001 1425 1001.5 1429.6 1002.1 1425 1002.6 1428.8 1003.1 1423.6 1003.6 1429.2 1004.1 1423.3 1004.6 1428 1005.1 1422.5 1005.6 1428.3 1006.2 1423.2 1006.7 1428.9 1007.2 1422.4 1007.7 1425.8 1008.2 1422.4 1008.7 1425.1 1009.2 1421.9 1009.8 1425 1010.3 1421.3 1010.8 1426.7 1011.3 1422.1 1011.8 1425.7 1012.3 1421.3 1012.8 1425.4 1013.3 1420.4 1013.9 1425 1014.4 1420.2 1014.9 1424.5 1015.4 1419.7 1015.9 1426.4 1016.4 1419.5 1016.9 1423.2 1017.5 1420.5 1018 1424.9 1018.5 1419.1 1019 1423.9 1019.5 1417.3 1020 1424.3 1020.5 1419.7 1021.1 1424.2 1021.6 1418.7 1022.1 1423.3 1022.6 1418.8 1023.1 1423.6 1023.6 1418.7 1024.1 1422.3 1024.6 1419.1 1025.2 1423.3 1025.7 1419.2 1026.2 1423.1 1026.7 1418.7 1027.2 1423.1 1027.7 1416.9 1028.2 1422.1 1028.7 1418.4 1029.2 1423.8 1029.7 1417.8 1030.2 1422.8 1030.8 1419.4 1031.3 1423.5 1031.8 1419.5 1032.3 1422.3 1032.8 1418.2 1033.3 1423.8 1033.8 1419.4 1034.3 1424.5 1034.8 1418.3 1035.3 1422.7 1035.8 1419.7 1036.3 1423.1 1036.8 1418.1 1037.3 1423.7 1037.8 1418.8 1038.3 1422.2 1038.8 1419.2 1039.3 1423.3 1039.8 1419.2 1040.3 1422.4 1040.8 1419.1 1041.3 1422.9 1041.8 1419.6 1042.3 1423.5 1042.8 1417.7 1043.4 1422.5 1043.9 1418.4 1044.4 1422.6 1044.9 1418.7 1045.4 1422.9 1045.9 1418 1046.4 1421.8 1046.9 1418.2 1047.4 1422.1 1047.9 1415.7 1048.4 1421.9 1048.9 1419.1 1049.4 1422.8 1049.9 1417.6 1050.4 1422.5 1050.9 1418.4 1051.4 1422.3 1051.9 1419 1052.4 1424.1 1052.9 1418.6 1053.4 1422.7 1053.9 1418.5 1054.4 1423.5 1054.9 1417.4 1055.5 1421.8 1056 1415.5 1056.5 1423 1057 1418.7 1057.5 1422.3 1058 1417.2 1058.5 1422.9 1058.9 1417.1 1059.4 1421.9 1059.9 1418.4 1060.4 1422.6 1060.9 1418.1 1061.4 1421.8 1061.9 1417.8 1062.4 1422 1062.9 1417.4 1063.4 1422.8 1063.9 1418.5 1064.4 1423.3 1064.9 1419.5 1065.4 1422.2 1065.9 1418.4 1066.4 1421.4 1066.9 1417.4 1067.4 1421.9 1067.9 1418.5 1068.4 1421.4 1068.9 1418.4 1069.4 1421.5 1069.9 1417.9 1070.4 1421.6 1070.9 1416.7 1071.4 1421.8 1071.9 1417 1072.4 1422 1072.9 1417.2 1073.4 1421.1 1073.9 1415.4 1074.4 1421.5 1074.9 1415.1 1075.4 1421 1075.9 1416.5 1076.4 1422.2 1076.9 1417.7 1077.4 1420.8 1077.9 1418.1 1078.4 1422.2 1078.9 1417.2 1079.4 1422 1079.9 1418.3 1080.3 1422.6 1080.8 1418.7 1081.3 1422.1 1081.8 1418.4 1082.3 1422.6 1082.7 1419.4 1083.2 1423.3 1083.7 1418.4 1084.2 1422.8 1084.6 1419.6 1085.1 1424 1085.6 1419.8 1086 1425.1 1086.4 1424.7 1086.9 1427.8 1087.4 1430.6 1087.9 1436.9 1088.4 1439.3 1088.8 1442.8 1089.2 1442.6 1089.6 1447.8 1090.1 1442.9 1090.6 1446.1 1091 1440.8 1091.5 1442.7 1092 1437.4 1092.4 1440.2 1092.9 1435 1093.3 1438.5 1093.8 1432.5 1094.3 1435.6 1094.8 1430.2 1095.3 1434.7 1095.9 1430.2 1096.4 1433.1 1096.9 1428.9 1097.4 1435.1 1098 1426.1 1098.5 1432.4 1099 1426.8 1099.5 1431.5 1100 1424.5 1100.5 1431.7 1101 1425.4 1101.5 1429.8 1102 1425.7 1102.5 1430.9 1103 1425.8 1103.5 1429.9 1104 1425.3 1104.5 1428.9 1105 1426.2 1105.5 1430.8 1106 1424.6 1106.5 1428.8 1107 1424.8 1107.5 1430.3 1107.9 1422.9 1108.4 1429 1108.9 1425.1 1109.4 1429.6 1109.9 1424.8 1110.4 1428 1110.9 1424.7 1111.4 1430.2 1111.9 1425.2 1112.4 1428.8 1112.9 1424.7 1113.4 1429.3 1113.9 1425.1 1114.4 1427.8 1114.9 1423.8 1115.4 1428.3 1115.9 1425.2 1116.4 1428.2 1116.9 1422.1 1117.4 1428.6 1117.9 1424.7 1118.4 1427.7 1118.9 1425 1119.4 1427.8 1119.9 1425.1 1120.4 1428.1 1120.9 1424.9 1121.4 1428.5 1121.9 1424.7 1122.4 1428 1122.9 1424.5 1123.4 1428.3 1123.9 1423.8 1124.4 1428.7 1124.9 1424.6 1125.4 1428.8 1125.9 1424.3 1126.4 1429.4 1126.9 1424 1127.4 1429.2 1127.9 1424.5 1128.4 1429.2 1128.9 1425 1129.4 1429 1129.9 1424.6 1130.4 1428.7 1130.9 1422.7 1131.4 1428.7 1131.9 1424.8 1132.4 1428.5 1132.9 1423.2 1133.4 1428.7 1133.9 1425.6 1134.4 1429.7 1134.9 1424.3 1135.4 1429.5 1135.9 1425.6 1136.4 1428 1136.9 1424.1 1137.4 1429.1 1137.9 1424.2 1138.4 1428.3 1138.9 1424.5 1139.4 1429.7 1139.9 1425.2 1140.4 1430 1140.9 1424.8 1141.4 1431.5 1141.9 1423.5 1142.4 1428.9 1142.9 1424.4 1143.4 1428.8 1143.9 1425.5 1144.4 1428.8 1144.9 1425.5 1145.4 1429 1145.9 1425.5 1146.4 1428.9 1146.9 1426.1 1147.4 1429.3 1147.9 1424.6 1148.4 1428.6 1148.9 1425.4 1149.4 1428.7 1149.9 1425 1150.4 1429.4 1151 1425.1 1151.5 1430 1152 1424.6 1152.5 1428.6 1153 1423.9 1153.5 1427.9 1154 1424.9 1154.5 1428.8 1155.1 1424.7 1155.6 1427.6 1156.1 1424.1 1156.6 1428.6 1157.1 1425 1157.6 1427.7 1158.1 1424.1 1158.7 1428.2 1159.2 1422.6 1159.7 1426.8 1160.2 1422.5 1160.7 1427.8 1161.2 1423.7 1161.7 1428 1162.3 1422.3 1162.8 1426.5 1163.3 1421.9 1163.8 1427.7 1164.3 1421.7 1164.8 1427 1165.3 1422 1165.8 1426.7 1166.4 1422 1166.9 1425.8 1167.4 1421.8 1167.9 1425.3 1168.4 1421 1168.9 1426.6 1169.4 1420 1170 1425.1 1170.5 1420.1 1171 1426.2 1171.5 1419.9 1172 1425.5 1172.5 1421 1173 1424.6 1173.5 1421.5 1174.1 1424.9 1174.6 1420.1 1175.1 1424.3 1175.6 1418.2 1176.1 1424.1 1176.6 1419.4 1177.1 1426.8 1177.7 1418.9 1178.2 1424.7 1178.7 1420.2 1179.2 1425.3 1179.7 1419.9 1180.2 1425 1180.7 1420.4 1181.2 1424.4 1181.8 1420.2 1182.3 1425.6 1182.8 1420.4 1183.3 1425.4 1183.8 1420.2 1184.3 1424.6 1184.8 1419.9 1185.3 1425.2 1185.8 1418.3 1186.3 1424.5 1186.8 1418 1187.3 1424.5 1187.8 1420.7 1188.3 1426.9 1188.8 1420 1189.3 1424.1 1189.8 1420.9 1190.3 1427.1 1190.8 1421.2 1191.3 1425.1 1191.8 1420.4 1192.3 1424 1192.8 1421.1 1193.3 1424 1193.8 1420.8 1194.3 1424.8 1194.8 1418.2 1195.3 1425 1195.8 1418.3 1196.3 1424.5 1196.8 1421 1197.3 1424.9 1197.8 1421.5 1198.3 1425 1198.8 1420.6 1199.3 1427.7 1199.8 1420.4 1200.3 1425.4 1200.8 1420.4 1201.3 1425.5 1201.8 1420.4 1202.3 1425.7 1202.8 1421 1203.3 1426.2 1203.8 1420.6 1204.3 1425.7 1204.8 1421.6 1205.3 1425.8 1205.8 1420.8 1206.4 1426.2 1206.9 1422.2 1207.4 1425.6 1207.9 1421.1 1208.4 1426.7 1208.9 1421.6 1209.4 1426.5 1209.9 1420.6 1210.4 1425.6 1210.9 1422.1 1211.4 1426.3 1211.9 1422 1212.4 1427.3 1212.9 1422.3 1213.4 1425.8 1213.9 1421.6 1214.4 1423.4" fill="none" stroke-width="1.3" stroke-linejoin="bevel" stroke="#000"/>
<line x1="1238.6" y1="1167.5" x2="1238.6" y2="1233.2" stroke-width="3.6" stroke="#000"/>
<text font-size="27.6" text-anchor="middle" transform="translate(1225.2 1205.2) rotate(-90)">200 pA</text>
<line x1="1238.4" y1="1339.3" x2="1238.4" y2="1393.8" stroke-width="3.6" stroke="#000"/>
<text font-size="27.4" text-anchor="middle" transform="translate(1223.4 1362.6) rotate(-90)">125 pA</text>
<path d="M1238.2 1460.4 1238.2 1512.3 1281.6 1512.3" fill="none" stroke-width="3.6" stroke-linejoin="miter" stroke="#000"/>
<text font-size="27.4" text-anchor="middle" transform="translate(1223.4 1491.8) rotate(-90)">100 pA</text>
<text x="1236.2" y="1553.8" font-size="27.4">10 s</text>
<!-- panelG -->
<text x="1307.8" y="985.4" font-size="48">G</text>
<line x1="1461.6" y1="1117.4" x2="1461.6" y2="1419.4" stroke-width="1.4" stroke="#3a3a3a"/>
<line x1="1453.5" y1="1418.7" x2="1944.3" y2="1418.7" stroke-width="1.4" stroke="#3a3a3a"/>
<line x1="1453.5" y1="1418.7" x2="1461.6" y2="1418.7" stroke-width="1.4" stroke="#3a3a3a"/>
<text x="1449.9" y="1427.7" font-size="25" text-anchor="end">0</text>
<line x1="1453.5" y1="1343.5" x2="1461.6" y2="1343.5" stroke-width="1.4" stroke="#3a3a3a"/>
<text x="1449.9" y="1352.5" font-size="25" text-anchor="end">50</text>
<line x1="1453.5" y1="1268.4" x2="1461.6" y2="1268.4" stroke-width="1.4" stroke="#3a3a3a"/>
<text x="1449.9" y="1277.4" font-size="25" text-anchor="end">100</text>
<line x1="1453.5" y1="1193.2" x2="1461.6" y2="1193.2" stroke-width="1.4" stroke="#3a3a3a"/>
<text x="1449.9" y="1202.2" font-size="25" text-anchor="end">150</text>
<line x1="1453.5" y1="1118.1" x2="1461.6" y2="1118.1" stroke-width="1.4" stroke="#3a3a3a"/>
<text x="1449.9" y="1127.1" font-size="25" text-anchor="end">200</text>
<line x1="1521.6" y1="1418.7" x2="1521.6" y2="1427.2" stroke-width="1.4" stroke="#3a3a3a"/>
<line x1="1642.1" y1="1418.7" x2="1642.1" y2="1427.2" stroke-width="1.4" stroke="#3a3a3a"/>
<line x1="1762.9" y1="1418.7" x2="1762.9" y2="1427.2" stroke-width="1.4" stroke="#3a3a3a"/>
<line x1="1883.7" y1="1418.7" x2="1883.7" y2="1427.2" stroke-width="1.4" stroke="#3a3a3a"/>
<text x="1518.3" y="1451.8" font-size="25.2" text-anchor="middle">Control</text>
<text x="1642.4" y="1451.8" font-size="25.2" text-anchor="middle">AG1529</text>
<text x="1642.7" y="1480.6" font-size="25.2" text-anchor="middle">10<tspan font-family="Liberation Serif, serif">μ</tspan>M</text>
<text x="1763.1" y="1451.8" font-size="25.2" text-anchor="middle">CPZ</text>
<text x="1766.7" y="1480.6" font-size="25.2" text-anchor="middle">10<tspan font-family="Liberation Serif, serif">μ</tspan>M</text>
<text x="1883.3" y="1451.8" font-size="25.2" text-anchor="middle">BCTC</text>
<text x="1887.2" y="1480.6" font-size="25.2" text-anchor="middle">1nM</text>
<text font-size="28.4" text-anchor="middle" transform="translate(1352.4 1267.7) rotate(-90)">% of low pH-elicied hTRPV1</text>
<text font-size="28" text-anchor="middle" transform="translate(1385 1262.6) rotate(-90)">remaining current</text>
<line x1="1518.1" y1="1051.1" x2="1518.1" y2="1108.4" stroke-width="1.6" stroke="#000"/>
<path d="M1518.1 1051.9 1886.7 1051.9 1886.7 1309.1" fill="none" stroke-width="1.6" stroke-linejoin="miter" stroke="#000"/>
<path d="M1518.1 1079.7 1763.4 1079.7 1763.4 1264" fill="none" stroke-width="1.6" stroke-linejoin="miter" stroke="#000"/>
<path d="M1518.1 1105.1 1641 1105.1 1641 1170.6" fill="none" stroke-width="1.6" stroke-linejoin="miter" stroke="#000"/>
<text x="1694.5" y="1043.7" font-size="21.6" text-anchor="middle">p&lt;0.0001</text>
<text x="1641.8" y="1072.8" font-size="21.6" text-anchor="middle">p&lt;0.0001</text>
<text x="1581.2" y="1099.4" font-size="21.6" text-anchor="middle">p=0.0013</text>
<circle cx="1521.6" cy="1155.3" r="6.3" fill="#000" stroke="none"/>
<circle cx="1512.5" cy="1221.9" r="6.3" fill="#000" stroke="none"/>
<circle cx="1530.8" cy="1226.2" r="6.3" fill="#000" stroke="none"/>
<circle cx="1530.8" cy="1269.8" r="6.3" fill="#000" stroke="none"/>
<circle cx="1503.6" cy="1282.2" r="6.3" fill="#000" stroke="none"/>
<circle cx="1512.5" cy="1299" r="6.3" fill="#000" stroke="none"/>
<circle cx="1540" cy="1306.8" r="6.3" fill="#000" stroke="none"/>
<circle cx="1530.8" cy="1320.5" r="6.3" fill="#000" stroke="none"/>
<circle cx="1512.5" cy="1335.4" r="6.3" fill="#000" stroke="none"/>
<path d="M1626.7 1279.5 L1639.7 1279.5 L1633.2 1291.5Z" fill="#0000ff" stroke="none"/>
<path d="M1644.8 1286 L1657.8 1286 L1651.3 1298Z" fill="#0000ff" stroke="none"/>
<path d="M1644.8 1328.1 L1657.8 1328.1 L1651.3 1340.1Z" fill="#0000ff" stroke="none"/>
<path d="M1626.7 1341 L1639.7 1341 L1633.2 1353Z" fill="#0000ff" stroke="none"/>
<path d="M1635.6 1370.7 L1648.6 1370.7 L1642.1 1382.7Z" fill="#0000ff" stroke="none"/>
<path d="M1617.6 1389.5 L1630.6 1389.5 L1624.1 1401.5Z" fill="#0000ff" stroke="none"/>
<path d="M1654.2 1389.5 L1667.2 1389.5 L1660.7 1401.5Z" fill="#0000ff" stroke="none"/>
<path d="M1635.6 1398.4 L1648.6 1398.4 L1642.1 1410.4Z" fill="#0000ff" stroke="none"/>
<path d="M1765.2 1343.4 L1771.8 1336.8 L1778.4 1343.4 L1771.8 1350Z" fill="#007a00" stroke="none"/>
<path d="M1747.2 1355.3 L1753.8 1348.7 L1760.4 1355.3 L1753.8 1361.9Z" fill="#007a00" stroke="none"/>
<path d="M1756.3 1387.9 L1762.9 1381.3 L1769.5 1387.9 L1762.9 1394.5Z" fill="#007a00" stroke="none"/>
<path d="M1783.3 1398.2 L1789.9 1391.6 L1796.5 1398.2 L1789.9 1404.8Z" fill="#007a00" stroke="none"/>
<path d="M1729.4 1406 L1736 1399.4 L1742.6 1406 L1736 1412.6Z" fill="#007a00" stroke="none"/>
<path d="M1747.2 1411.4 L1753.8 1404.8 L1760.4 1411.4 L1753.8 1418Z" fill="#007a00" stroke="none"/>
<path d="M1765.2 1411.4 L1771.8 1404.8 L1778.4 1411.4 L1771.8 1418Z" fill="#007a00" stroke="none"/>
<rect x="1877.2" y="1348.3" width="12.4" height="12.4" fill="#ff0000" stroke="none"/>
<rect x="1859.2" y="1374.2" width="12.4" height="12.4" fill="#ff0000" stroke="none"/>
<rect x="1895.3" y="1370.7" width="12.4" height="12.4" fill="#ff0000" stroke="none"/>
<rect x="1877.2" y="1381.7" width="12.4" height="12.4" fill="#ff0000" stroke="none"/>
<rect x="1904.2" y="1383.6" width="12.4" height="12.4" fill="#ff0000" stroke="none"/>
<rect x="1850.3" y="1395.7" width="12.4" height="12.4" fill="#ff0000" stroke="none"/>
<rect x="1886.1" y="1395.7" width="12.4" height="12.4" fill="#ff0000" stroke="none"/>
<rect x="1868.1" y="1400.6" width="12.4" height="12.4" fill="#ff0000" stroke="none"/>
<line x1="1481.5" y1="1268.2" x2="1561.8" y2="1268.2" stroke-width="1.8" stroke="#000"/>
<line x1="1521.7" y1="1248.8" x2="1521.7" y2="1287.4" stroke-width="1.3" stroke="#222"/>
<line x1="1501.7" y1="1248.8" x2="1541.6" y2="1248.8" stroke-width="1.3" stroke="#222"/>
<line x1="1501.7" y1="1287.4" x2="1541.6" y2="1287.4" stroke-width="1.3" stroke="#222"/>
<line x1="1602.2" y1="1353.7" x2="1682.3" y2="1353.7" stroke-width="2" stroke="#000"/>
<line x1="1642.2" y1="1337" x2="1642.2" y2="1370.4" stroke-width="1.8" stroke="#222"/>
<line x1="1622.2" y1="1337" x2="1662.1" y2="1337" stroke-width="1.8" stroke="#222"/>
<line x1="1622.2" y1="1370.4" x2="1662.1" y2="1370.4" stroke-width="1.8" stroke="#222"/>
<line x1="1722.8" y1="1387.4" x2="1802.8" y2="1387.4" stroke-width="2" stroke="#000"/>
<line x1="1762.8" y1="1376.9" x2="1762.8" y2="1397.9" stroke-width="1.8" stroke="#222"/>
<line x1="1742.7" y1="1376.9" x2="1782.9" y2="1376.9" stroke-width="1.8" stroke="#222"/>
<line x1="1742.7" y1="1397.9" x2="1782.9" y2="1397.9" stroke-width="1.8" stroke="#222"/>
<line x1="1843.3" y1="1387.4" x2="1923.6" y2="1387.4" stroke-width="2" stroke="#000"/>
<line x1="1883.5" y1="1381.5" x2="1883.5" y2="1393" stroke-width="1.8" stroke="#222"/>
<line x1="1863.5" y1="1381.5" x2="1903.4" y2="1381.5" stroke-width="1.8" stroke="#222"/>
<line x1="1863.5" y1="1393" x2="1903.4" y2="1393" stroke-width="1.8" stroke="#222"/>
</svg>
</body>
</html>
